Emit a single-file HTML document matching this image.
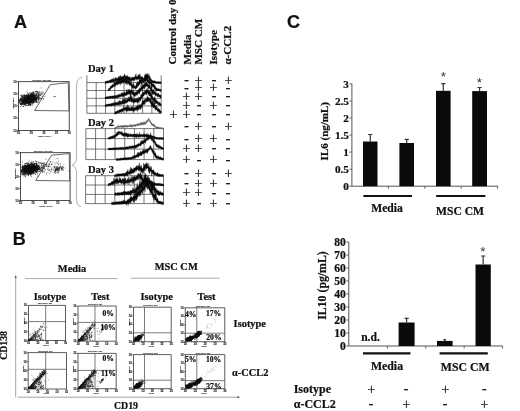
<!DOCTYPE html>
<html><head><meta charset="utf-8"><title>Figure</title>
<style>html,body{margin:0;padding:0;background:#fff}svg{display:block}text{font-family:"Liberation Serif",serif;font-weight:bold;fill:#111;stroke:#111;stroke-width:.22px}.s{font-family:"Liberation Sans",sans-serif}</style></head><body>
<svg width="520" height="411" viewBox="0 0 520 411">
<rect width="520" height="411" fill="#fff"/>
<text x="14" y="28" font-size="18" text-anchor="start" class="s">A</text>
<text x="12.8" y="245.2" font-size="18" text-anchor="start" class="s">B</text>
<text x="287" y="28" font-size="18" text-anchor="start" class="s">C</text>
<rect x="18.5" y="81.7" width="50.7" height="48.7" fill="none" stroke="#222" stroke-width="0.8"/>
<path d="M17.0 81.7H18.5" stroke="#222" stroke-width=".6"/>
<text transform="translate(16.7,82.8) scale(0.3)" font-size="10" text-anchor="end" class="s" style="font-weight:bold;fill:#111">10</text>
<path d="M18.5 130.4v1.5" stroke="#222" stroke-width=".6"/>
<text transform="translate(18.5,134.3) scale(0.3)" font-size="10" text-anchor="middle" class="s" style="font-weight:bold;fill:#111">10</text>
<path d="M17.0 93.875H18.5" stroke="#222" stroke-width=".6"/>
<text transform="translate(16.7,94.975) scale(0.3)" font-size="10" text-anchor="end" class="s" style="font-weight:bold;fill:#111">10</text>
<path d="M31.175 130.4v1.5" stroke="#222" stroke-width=".6"/>
<text transform="translate(31.175,134.3) scale(0.3)" font-size="10" text-anchor="middle" class="s" style="font-weight:bold;fill:#111">10</text>
<path d="M17.0 106.05000000000001H18.5" stroke="#222" stroke-width=".6"/>
<text transform="translate(16.7,107.15) scale(0.3)" font-size="10" text-anchor="end" class="s" style="font-weight:bold;fill:#111">10</text>
<path d="M43.85 130.4v1.5" stroke="#222" stroke-width=".6"/>
<text transform="translate(43.85,134.3) scale(0.3)" font-size="10" text-anchor="middle" class="s" style="font-weight:bold;fill:#111">10</text>
<path d="M17.0 118.22500000000001H18.5" stroke="#222" stroke-width=".6"/>
<text transform="translate(16.7,119.325) scale(0.3)" font-size="10" text-anchor="end" class="s" style="font-weight:bold;fill:#111">10</text>
<path d="M56.525000000000006 130.4v1.5" stroke="#222" stroke-width=".6"/>
<text transform="translate(56.525000000000006,134.3) scale(0.3)" font-size="10" text-anchor="middle" class="s" style="font-weight:bold;fill:#111">10</text>
<path d="M17.0 130.4H18.5" stroke="#222" stroke-width=".6"/>
<text transform="translate(16.7,131.5) scale(0.3)" font-size="10" text-anchor="end" class="s" style="font-weight:bold;fill:#111">10</text>
<path d="M69.2 130.4v1.5" stroke="#222" stroke-width=".6"/>
<text transform="translate(69.2,134.3) scale(0.3)" font-size="10" text-anchor="middle" class="s" style="font-weight:bold;fill:#111">10</text>
<text transform="translate(41.85,80.5) scale(0.2)" font-size="10" text-anchor="middle" class="s" style="font-weight:bold;fill:#111">Specimen_001-Tube</text>
<text transform="translate(44.85,136.8) scale(0.22999999999999998)" font-size="10" text-anchor="middle" class="s" style="font-weight:bold;fill:#111">CD19 APC-A</text>
<text transform="translate(14.1,103.05000000000001) rotate(-90) scale(0.19)" font-size="10" text-anchor="middle" class="s" style="font-weight:bold;fill:#111">CD138 PE-A</text>
<path d="M27.5 100.9h.01M27.6 99.0h.01M24.8 99.8h.01M32.9 99.5h.01M32.6 99.2h.01M30.1 99.6h.01M21.8 103.0h.01M30.5 100.2h.01M21.7 96.9h.01M24.9 99.2h.01M29.7 99.1h.01M30.6 97.5h.01M29.7 100.2h.01M25.9 104.1h.01M30.7 101.8h.01M26.0 98.3h.01M27.1 99.6h.01M31.0 99.5h.01M26.7 97.7h.01M26.4 102.8h.01M25.3 100.8h.01M30.2 95.6h.01M28.7 102.5h.01M20.4 100.5h.01M28.1 97.7h.01M30.5 98.9h.01M22.6 102.7h.01M31.2 101.1h.01M34.3 99.1h.01M29.0 96.4h.01M31.0 97.5h.01M26.7 96.9h.01M24.6 99.1h.01M33.7 93.6h.01M22.7 101.3h.01M34.3 99.6h.01M20.9 95.3h.01M29.9 97.5h.01M24.0 102.8h.01M32.9 98.9h.01M29.5 100.3h.01M34.9 99.6h.01M30.6 100.3h.01M22.2 103.9h.01M32.3 99.9h.01M20.6 99.7h.01M31.9 94.5h.01M27.8 102.0h.01M23.3 104.4h.01M30.7 98.7h.01M29.8 100.7h.01M29.0 102.1h.01M25.9 99.1h.01M32.7 98.7h.01M25.0 102.5h.01M34.4 97.2h.01M23.0 100.4h.01M27.9 98.9h.01M34.1 95.9h.01M33.5 95.4h.01M25.4 101.7h.01M33.0 100.5h.01M29.9 99.5h.01M29.1 100.7h.01M27.8 100.3h.01M30.8 99.0h.01M31.6 100.2h.01M36.5 98.5h.01M26.8 99.0h.01M28.4 101.7h.01M27.2 100.7h.01M35.8 91.9h.01M24.0 101.1h.01M30.1 99.7h.01M26.8 101.4h.01M29.6 98.0h.01M38.2 98.2h.01M26.3 99.8h.01M27.6 99.6h.01M32.5 95.9h.01M28.2 101.8h.01M31.9 102.2h.01M21.7 100.2h.01M27.1 101.3h.01M32.9 92.3h.01M32.9 95.2h.01M31.2 95.4h.01M29.2 102.1h.01M27.9 100.1h.01M31.7 99.1h.01M28.1 103.2h.01M32.7 97.9h.01M39.5 94.4h.01M32.2 98.1h.01M29.0 101.0h.01M29.4 100.8h.01M22.4 97.3h.01M31.0 96.7h.01M24.4 97.0h.01M33.6 100.1h.01M34.4 96.0h.01M28.5 96.8h.01M31.6 102.6h.01M24.9 103.9h.01M32.5 98.2h.01M20.6 104.5h.01M28.1 98.2h.01M30.1 100.1h.01M34.5 95.8h.01M33.0 102.0h.01M34.3 97.8h.01M25.5 102.5h.01M29.0 99.7h.01M34.2 97.6h.01M19.3 100.6h.01M21.1 103.0h.01M29.8 97.8h.01M28.5 101.5h.01M28.8 102.5h.01M28.3 102.0h.01M34.5 102.0h.01M25.8 102.1h.01M21.0 98.6h.01M20.6 103.7h.01M23.6 100.5h.01M27.7 99.6h.01M26.1 100.6h.01M35.7 98.0h.01M30.6 101.4h.01M27.7 96.7h.01M26.3 102.5h.01M21.9 99.5h.01M32.5 100.5h.01M28.5 101.4h.01M29.2 96.6h.01M22.2 99.4h.01M32.2 97.4h.01M24.9 98.5h.01M22.4 100.6h.01M23.8 101.4h.01M19.1 102.3h.01M25.9 95.5h.01M31.4 98.2h.01M19.6 99.4h.01M29.7 98.2h.01M31.6 100.6h.01M31.2 99.7h.01M33.8 99.9h.01M30.3 94.2h.01M32.1 101.8h.01M27.3 98.7h.01M36.3 93.7h.01M30.4 104.8h.01M24.8 101.9h.01M36.0 97.6h.01M30.7 101.1h.01M24.9 100.1h.01M29.7 101.2h.01M28.4 99.1h.01M24.4 99.5h.01M32.1 99.0h.01M25.1 98.3h.01M39.2 99.8h.01M31.0 92.9h.01M31.0 100.1h.01M35.2 99.0h.01M28.2 100.8h.01M20.7 103.6h.01M29.8 97.6h.01M33.8 102.6h.01M22.9 99.2h.01M29.7 99.7h.01M26.9 97.6h.01M37.0 100.1h.01M23.7 97.4h.01M35.3 100.3h.01M35.8 99.8h.01M25.0 100.9h.01M19.9 99.6h.01M28.3 100.8h.01M25.6 99.8h.01M30.3 100.0h.01M31.1 99.4h.01M27.2 101.6h.01M28.7 97.5h.01M26.0 100.0h.01M28.1 100.0h.01M28.5 99.9h.01M28.0 96.7h.01M30.2 101.6h.01M30.2 98.7h.01M30.3 96.8h.01M20.9 101.3h.01M24.8 102.0h.01M24.2 94.3h.01M24.3 104.1h.01M27.0 96.6h.01M25.4 101.4h.01M30.5 99.5h.01M34.4 99.9h.01M28.4 100.9h.01M35.1 100.3h.01M32.6 96.1h.01M27.9 101.3h.01M27.3 102.3h.01M30.9 101.1h.01M27.7 105.6h.01M33.5 97.9h.01M28.9 105.5h.01M27.1 101.8h.01M32.4 98.7h.01M23.8 101.0h.01M29.9 101.8h.01M31.6 98.9h.01M31.9 100.0h.01M29.3 99.4h.01M27.5 101.3h.01M24.3 99.0h.01M28.5 96.1h.01M26.8 95.2h.01M25.8 101.4h.01M30.8 98.9h.01M27.6 96.4h.01M35.8 99.1h.01M32.9 96.5h.01M27.8 95.4h.01M31.6 101.0h.01M20.9 101.0h.01M31.0 94.8h.01M21.2 98.6h.01M26.0 96.8h.01M28.6 100.1h.01M31.0 100.6h.01M34.5 100.9h.01M23.3 99.5h.01M24.3 97.9h.01M28.2 99.6h.01M30.5 95.4h.01M23.5 100.5h.01M27.7 98.9h.01M28.2 97.8h.01M31.3 99.7h.01M28.1 98.0h.01M27.8 93.3h.01M24.6 100.4h.01M22.5 101.3h.01M29.1 96.1h.01M27.5 99.0h.01M30.3 100.5h.01M28.4 97.5h.01M27.9 99.5h.01M31.4 99.5h.01M25.6 97.0h.01M27.0 98.1h.01M24.1 100.2h.01M26.5 100.2h.01M30.6 98.1h.01M37.8 96.7h.01M32.9 98.8h.01M33.0 93.0h.01M25.5 100.7h.01M30.9 104.4h.01M29.8 102.2h.01M31.6 101.0h.01M30.5 98.7h.01M30.5 96.5h.01M33.2 96.1h.01M29.5 104.2h.01M27.6 99.7h.01M33.2 98.5h.01M25.3 100.8h.01M30.8 100.7h.01M25.4 104.3h.01M35.2 98.1h.01M29.6 98.3h.01M34.2 96.6h.01M31.2 97.8h.01M25.7 101.8h.01M33.8 98.3h.01M25.8 102.0h.01M28.3 100.3h.01M34.6 100.8h.01M26.4 105.3h.01M28.5 101.3h.01M25.9 100.0h.01M21.5 105.2h.01M34.0 95.5h.01M22.5 97.0h.01M33.2 97.4h.01M28.3 98.8h.01M28.0 97.1h.01M28.6 96.1h.01M28.2 100.3h.01M30.4 98.5h.01M24.9 100.7h.01M26.6 103.6h.01M31.6 98.6h.01M26.6 98.3h.01M24.8 99.5h.01M29.7 100.4h.01M30.8 103.9h.01M25.7 100.1h.01M39.7 92.7h.01M26.4 100.4h.01M29.1 100.3h.01M27.5 100.6h.01M28.7 101.3h.01M20.9 99.1h.01M28.5 97.1h.01M24.3 101.9h.01M25.9 101.6h.01M31.5 99.6h.01M30.5 98.8h.01M22.9 100.7h.01M30.3 97.9h.01M28.1 101.3h.01M25.0 101.8h.01M36.0 96.6h.01M29.1 99.0h.01M34.7 98.9h.01M32.1 97.1h.01M28.4 99.5h.01M21.4 104.4h.01M32.1 94.6h.01M31.5 98.5h.01M30.3 100.0h.01M22.5 100.3h.01M34.5 96.8h.01M24.4 97.2h.01M23.6 101.4h.01M35.3 99.0h.01M29.5 104.5h.01M26.4 98.4h.01M30.6 100.3h.01M24.4 97.6h.01M29.7 99.8h.01M23.3 100.2h.01M26.3 101.1h.01M28.0 99.4h.01M27.1 102.3h.01M34.1 97.4h.01M31.9 97.0h.01M28.8 101.2h.01M34.6 97.3h.01M28.2 100.0h.01M22.5 100.8h.01M25.8 101.0h.01M24.0 95.9h.01M28.7 100.1h.01M26.3 102.1h.01M27.4 98.3h.01M30.4 95.4h.01M25.8 100.0h.01M31.9 98.4h.01M29.7 97.7h.01M29.7 103.1h.01M25.8 105.6h.01M25.9 100.1h.01M29.2 101.7h.01M23.6 95.7h.01M30.9 100.8h.01M31.0 105.1h.01M29.3 99.9h.01M32.2 99.6h.01M35.2 95.1h.01M27.0 91.8h.01M31.7 97.9h.01M32.2 103.7h.01M28.5 98.9h.01M26.5 98.0h.01M26.0 101.5h.01M28.6 99.6h.01M27.8 101.8h.01M30.5 98.7h.01M31.2 98.6h.01M23.9 103.9h.01M30.4 96.9h.01M32.8 99.4h.01M22.2 104.6h.01M29.8 101.3h.01M29.3 99.0h.01M22.3 103.1h.01M28.6 98.8h.01M29.9 99.4h.01M31.2 98.0h.01M28.4 94.5h.01M26.8 101.5h.01M33.8 97.5h.01M28.0 103.3h.01M27.2 101.5h.01M35.2 98.1h.01M33.4 96.8h.01M29.3 99.1h.01M29.0 102.0h.01M38.1 95.9h.01M26.2 101.2h.01M24.3 101.6h.01M30.8 98.3h.01M30.6 95.4h.01M31.5 95.2h.01M25.7 98.8h.01M26.9 101.9h.01M28.8 98.5h.01M30.7 102.7h.01M28.5 100.4h.01M33.5 99.0h.01M23.4 106.5h.01M37.3 92.9h.01M28.3 100.5h.01M32.4 100.2h.01M27.4 97.3h.01M28.9 101.8h.01M24.1 98.0h.01M28.4 95.0h.01M27.5 98.7h.01M30.3 97.5h.01M25.0 99.3h.01M28.3 98.0h.01M28.5 101.2h.01M33.2 102.5h.01M25.4 99.2h.01M25.6 100.1h.01M30.6 95.9h.01M30.4 99.0h.01M21.2 101.8h.01M33.3 94.1h.01M31.7 99.3h.01M30.4 100.1h.01M33.7 97.8h.01M32.0 97.8h.01M31.4 97.0h.01M28.1 103.6h.01M30.3 98.7h.01M23.9 98.7h.01M29.3 101.5h.01M30.2 100.4h.01M28.3 102.7h.01M26.9 98.6h.01M32.1 98.9h.01M27.4 98.4h.01M27.5 101.2h.01M29.9 96.4h.01M30.2 99.5h.01M24.5 102.2h.01M27.4 99.0h.01M31.7 101.9h.01M25.7 101.1h.01M25.0 105.7h.01M26.5 102.7h.01M25.9 102.0h.01M37.4 91.6h.01M26.8 101.1h.01M28.1 98.0h.01M37.1 97.8h.01M21.9 102.9h.01M21.6 103.7h.01M26.2 100.3h.01M33.5 98.7h.01M22.9 96.7h.01M33.2 100.2h.01M25.2 102.2h.01M30.5 100.6h.01M19.5 100.8h.01M32.1 100.4h.01M32.0 93.0h.01M29.2 100.5h.01M38.7 95.0h.01M27.2 99.9h.01M32.0 97.7h.01M33.1 96.7h.01M29.6 98.0h.01M29.1 97.7h.01M22.1 103.5h.01M29.7 97.9h.01M29.3 101.6h.01M24.6 100.1h.01M30.7 100.3h.01M27.2 94.9h.01M33.5 99.2h.01M28.6 98.8h.01M29.6 98.3h.01M24.4 98.7h.01M26.1 98.6h.01M23.9 102.0h.01M23.3 102.2h.01M24.4 101.2h.01M34.0 98.8h.01M25.6 100.3h.01M29.1 95.3h.01M26.1 100.4h.01M26.6 100.1h.01M31.4 100.7h.01M32.1 100.1h.01M27.3 99.7h.01M27.4 99.0h.01M27.8 95.6h.01M27.2 99.7h.01M24.6 100.3h.01M30.6 98.7h.01M36.8 91.6h.01M27.7 95.4h.01M32.4 104.9h.01M30.6 98.3h.01M30.7 93.8h.01M31.9 99.6h.01M28.6 98.1h.01M31.1 97.8h.01M29.4 98.1h.01M19.5 101.4h.01M29.3 101.1h.01M25.0 100.2h.01M31.0 99.3h.01M33.5 103.1h.01M24.9 95.8h.01M31.9 102.3h.01M32.2 100.6h.01M26.0 98.4h.01M32.1 96.6h.01M21.2 98.8h.01M38.5 101.8h.01M25.8 98.4h.01M29.4 97.5h.01M33.7 98.2h.01M24.2 103.5h.01M26.2 100.5h.01M28.4 98.8h.01M29.8 97.6h.01M21.1 95.9h.01M23.4 98.8h.01M28.4 99.6h.01M30.7 99.3h.01M25.3 98.5h.01M20.0 101.0h.01M30.4 100.3h.01M28.0 99.2h.01M32.2 98.7h.01M31.5 100.2h.01M29.4 102.4h.01M26.2 99.2h.01M25.3 98.3h.01M34.7 102.3h.01M28.6 100.8h.01M33.2 100.4h.01M33.3 95.5h.01M25.9 101.1h.01M34.2 98.5h.01M25.1 99.4h.01M25.9 98.1h.01M34.5 96.7h.01M28.6 104.5h.01M33.2 99.3h.01M26.1 101.0h.01M35.0 99.5h.01M33.5 98.6h.01M30.6 98.6h.01M30.2 102.2h.01M22.8 100.6h.01M29.5 98.0h.01M27.3 101.6h.01M36.5 99.2h.01M29.8 95.6h.01M36.2 98.0h.01M28.4 96.9h.01M28.3 97.0h.01M28.8 100.5h.01M28.6 100.1h.01M25.1 103.6h.01M25.9 95.8h.01M27.7 97.9h.01M24.5 99.6h.01M29.7 96.5h.01M27.9 103.0h.01M31.2 98.5h.01M29.0 99.1h.01M28.3 101.3h.01M28.1 94.0h.01M28.4 97.4h.01M31.1 97.5h.01M29.1 104.5h.01M24.3 97.8h.01M22.9 95.1h.01M21.0 102.0h.01M25.9 95.7h.01M22.6 102.2h.01M25.4 99.3h.01M29.8 102.4h.01M36.3 100.2h.01M29.1 99.8h.01M35.7 101.3h.01M27.3 100.8h.01M29.6 99.4h.01M26.5 96.8h.01M26.4 96.4h.01M33.4 99.7h.01M23.7 103.8h.01M32.1 94.3h.01M35.9 99.8h.01M36.8 94.8h.01M30.6 100.0h.01M29.3 99.7h.01M32.7 95.1h.01M23.5 97.3h.01M26.3 98.6h.01M30.0 99.8h.01M28.6 97.9h.01M26.7 102.1h.01M31.6 99.1h.01M27.2 103.4h.01M26.1 101.5h.01M33.1 97.9h.01M31.8 96.2h.01M32.6 99.1h.01M22.2 102.5h.01M24.9 103.3h.01M25.8 99.7h.01M29.6 98.5h.01M29.5 98.0h.01M31.2 98.9h.01M29.3 92.9h.01M33.1 98.6h.01M21.4 101.3h.01M30.4 101.6h.01M24.2 104.1h.01M27.9 105.2h.01M27.9 101.2h.01M27.0 97.2h.01M32.9 100.7h.01M34.7 100.2h.01M26.2 96.1h.01M25.9 98.5h.01M25.2 101.6h.01M29.8 98.6h.01M29.2 99.0h.01M29.4 101.1h.01M32.3 97.1h.01M22.5 104.2h.01M29.0 102.0h.01M21.9 100.2h.01M28.6 96.1h.01M26.4 101.6h.01M32.8 102.3h.01M25.0 97.0h.01M30.6 101.2h.01M29.3 96.3h.01M31.6 100.7h.01M30.7 97.9h.01M29.7 101.1h.01M26.3 95.7h.01M29.8 100.3h.01M28.6 101.6h.01M26.2 99.8h.01M27.3 101.1h.01M34.9 97.5h.01M36.7 101.3h.01M31.7 100.2h.01M35.6 97.5h.01M28.1 97.1h.01M30.4 102.2h.01M30.6 100.0h.01M27.7 100.1h.01M22.8 103.2h.01M26.9 97.3h.01M25.5 98.2h.01M31.9 101.2h.01M23.1 102.9h.01M32.1 97.4h.01M22.6 99.1h.01M26.0 100.9h.01M27.1 95.1h.01M29.4 95.7h.01M32.1 95.9h.01M25.7 98.1h.01M26.3 103.0h.01M31.9 100.2h.01M29.8 95.6h.01M26.4 98.7h.01M24.6 101.5h.01M25.5 98.5h.01M24.3 95.6h.01M30.9 102.1h.01M29.2 97.1h.01M33.4 99.1h.01M32.2 102.2h.01M33.0 97.5h.01M32.7 100.4h.01M22.4 99.9h.01M22.8 100.5h.01M30.8 96.5h.01M20.3 104.3h.01M30.0 102.6h.01M23.2 103.1h.01M36.8 102.4h.01M27.7 100.3h.01M27.9 102.0h.01M32.7 98.8h.01M23.1 102.4h.01M26.6 101.4h.01M29.6 103.1h.01M33.1 97.4h.01M29.9 103.3h.01M26.4 101.0h.01M33.3 101.4h.01M30.6 96.0h.01M23.5 101.2h.01M30.0 105.1h.01M25.1 102.9h.01M31.6 94.9h.01M25.2 100.6h.01M26.5 99.6h.01M30.4 97.2h.01M30.4 97.6h.01M26.3 101.2h.01M26.2 100.7h.01M34.9 98.2h.01M27.9 101.3h.01M27.0 102.4h.01M23.4 102.1h.01M26.5 98.1h.01M35.6 96.0h.01M35.5 99.5h.01M34.3 95.9h.01M33.3 101.9h.01M28.0 99.3h.01M38.3 97.8h.01M26.8 98.4h.01M30.3 99.9h.01M29.2 103.4h.01M27.2 100.9h.01M34.3 95.9h.01M32.7 102.9h.01M23.1 98.1h.01M24.3 96.1h.01M30.3 94.8h.01M30.5 102.5h.01M22.0 100.2h.01M20.8 103.0h.01M25.6 99.5h.01M28.7 100.7h.01M27.1 99.8h.01M26.3 100.2h.01M23.8 100.7h.01M20.8 100.0h.01M36.2 98.0h.01M23.5 101.2h.01M24.6 96.5h.01M25.6 101.9h.01M30.0 98.9h.01M24.8 97.8h.01M33.9 98.9h.01M24.7 95.4h.01M23.0 106.5h.01M23.9 100.3h.01M29.3 98.9h.01M27.4 96.5h.01M24.3 104.4h.01M25.5 102.1h.01M21.7 100.3h.01M29.5 101.7h.01M24.0 101.9h.01M30.0 97.4h.01M30.4 97.0h.01M25.3 100.2h.01M24.5 96.9h.01M26.8 101.7h.01M26.9 102.8h.01M23.9 97.4h.01M34.7 99.1h.01M32.3 96.7h.01M31.7 99.4h.01M31.1 99.0h.01M33.3 96.9h.01M24.6 96.9h.01M33.1 96.8h.01M24.3 98.2h.01M26.7 96.9h.01M27.3 98.3h.01M26.3 97.7h.01M28.6 98.4h.01M29.0 100.0h.01M29.9 94.1h.01M26.4 98.1h.01M31.6 95.1h.01M25.6 99.4h.01M27.2 102.1h.01M26.7 102.1h.01M22.6 96.5h.01M33.4 99.5h.01M30.5 99.4h.01M30.4 96.2h.01M32.3 97.4h.01M32.4 98.8h.01M20.6 98.2h.01M33.0 98.2h.01M26.9 100.4h.01M26.8 98.6h.01M28.9 99.7h.01M34.6 98.3h.01M36.0 102.1h.01M35.4 100.5h.01M29.0 99.7h.01M27.9 97.9h.01M28.2 98.1h.01M35.1 99.3h.01M26.7 95.4h.01M28.3 98.6h.01M24.2 97.8h.01M19.5 102.8h.01M28.2 105.6h.01M28.4 99.2h.01M34.3 98.6h.01M29.2 98.5h.01M26.1 103.5h.01M32.5 102.6h.01M27.1 99.9h.01M25.0 102.5h.01M22.9 102.0h.01M32.9 101.8h.01M24.7 102.9h.01M25.6 98.4h.01M23.2 103.4h.01M35.1 96.7h.01M25.5 99.4h.01M38.5 99.7h.01M26.3 95.8h.01M25.8 102.9h.01M36.0 97.2h.01M25.7 98.9h.01M21.0 103.3h.01M24.2 102.9h.01M21.7 98.0h.01M29.7 97.5h.01M31.6 98.8h.01M23.8 102.0h.01M31.9 94.3h.01M35.8 99.1h.01M31.5 94.5h.01M25.6 99.3h.01M32.8 95.1h.01M25.0 95.5h.01M27.5 100.5h.01M21.8 99.6h.01M30.5 102.8h.01M31.2 98.2h.01M23.8 98.3h.01M25.8 100.4h.01M28.3 103.4h.01M29.6 96.7h.01M34.7 100.4h.01M28.9 97.7h.01M21.0 98.7h.01M32.1 96.8h.01M23.2 101.1h.01M29.5 100.7h.01M31.1 102.2h.01M25.1 102.5h.01M24.6 102.0h.01M29.2 99.9h.01M32.4 98.6h.01M32.9 100.6h.01M29.0 98.1h.01M25.5 98.9h.01M27.7 99.6h.01M40.4 98.4h.01M31.6 96.8h.01M25.7 99.4h.01M29.3 96.9h.01M34.9 96.8h.01M32.8 93.1h.01M28.5 100.2h.01M29.3 100.7h.01M29.6 99.6h.01M20.9 99.5h.01M19.1 103.0h.01M29.7 98.8h.01M25.2 98.9h.01M35.9 101.9h.01M28.3 102.6h.01M22.1 96.4h.01M26.6 97.9h.01M26.3 100.4h.01M40.6 95.3h.01M28.7 100.1h.01M28.4 101.7h.01M35.6 95.0h.01M29.1 98.7h.01M29.9 95.6h.01M21.5 95.6h.01M30.6 99.5h.01M28.8 93.9h.01M27.0 98.1h.01M22.8 98.6h.01M31.3 100.2h.01M28.4 100.7h.01M26.1 100.2h.01M28.7 100.8h.01M28.2 99.2h.01M28.0 98.1h.01M37.4 98.7h.01M30.2 104.5h.01M34.1 94.6h.01M31.3 100.9h.01M36.0 100.9h.01M31.6 96.1h.01M25.0 100.9h.01M30.5 96.7h.01M27.0 98.9h.01M28.7 100.2h.01M27.4 96.9h.01M33.5 102.2h.01M28.1 102.0h.01M30.3 100.7h.01M30.4 97.3h.01M30.8 101.4h.01M24.9 104.9h.01M36.9 101.9h.01M36.5 99.5h.01M27.1 98.4h.01M25.2 100.5h.01M28.4 101.1h.01M20.4 106.7h.01M37.6 97.4h.01M31.2 100.0h.01M29.6 98.8h.01M28.0 97.7h.01M29.2 99.3h.01M29.8 97.2h.01M28.7 99.6h.01M30.9 96.5h.01M30.2 101.4h.01M30.9 98.1h.01M26.5 99.4h.01M31.4 102.5h.01M27.9 98.1h.01M30.0 99.6h.01M24.9 98.6h.01M28.1 101.2h.01M23.7 98.2h.01M30.5 96.2h.01M28.9 100.2h.01M28.1 97.2h.01M28.3 98.8h.01M29.8 97.2h.01M32.9 94.6h.01M27.8 99.7h.01M32.3 97.2h.01M30.7 97.7h.01M31.5 102.9h.01M26.9 100.9h.01M24.8 102.6h.01M33.3 98.5h.01M24.0 101.4h.01M33.1 101.0h.01M31.8 94.5h.01M25.8 103.4h.01M23.6 103.2h.01M36.0 99.6h.01M33.0 97.7h.01M23.6 100.3h.01M27.7 99.6h.01M31.3 98.6h.01M29.3 100.3h.01M28.5 103.8h.01M30.3 99.3h.01M27.7 98.2h.01M33.9 98.7h.01M24.2 99.1h.01M28.0 98.6h.01M32.8 95.8h.01M30.5 99.4h.01M23.8 100.6h.01M28.1 100.8h.01M26.7 100.6h.01M21.8 98.4h.01M31.6 101.3h.01M28.4 98.1h.01M32.8 93.7h.01M25.3 101.8h.01M31.1 96.5h.01M21.0 104.6h.01M29.1 97.3h.01M28.7 101.6h.01M31.5 94.0h.01M31.6 94.7h.01M33.1 99.4h.01M37.5 96.1h.01M28.5 101.9h.01M25.9 98.4h.01M27.0 99.7h.01M24.2 101.6h.01M30.7 99.2h.01M35.3 97.2h.01M33.7 97.1h.01M31.5 94.3h.01M29.3 98.9h.01" stroke="#111" stroke-width="0.84" stroke-linecap="round" fill="none" opacity="1"/>
<path d="M31.3 95.9h.01M32.1 95.4h.01M21.9 98.0h.01M31.0 96.2h.01M28.2 97.9h.01M38.3 95.4h.01M31.3 101.3h.01M39.4 98.4h.01M40.4 94.7h.01M33.3 100.2h.01M31.0 97.3h.01M36.1 97.6h.01M32.5 100.0h.01M33.0 99.2h.01M39.9 97.5h.01M38.0 92.9h.01M26.8 96.9h.01M36.6 100.6h.01M27.3 99.3h.01M29.3 96.0h.01M32.5 99.2h.01M35.2 100.0h.01M28.6 100.6h.01M39.1 96.1h.01M36.6 94.9h.01M28.0 97.2h.01M30.5 105.7h.01M31.3 102.1h.01M35.1 97.6h.01M38.1 94.0h.01M39.0 96.9h.01M25.7 100.5h.01M37.0 97.6h.01M42.7 94.0h.01M36.8 98.4h.01M29.0 101.4h.01M26.0 95.2h.01M36.9 93.4h.01M33.4 92.6h.01M34.4 93.8h.01M35.9 92.4h.01M36.5 95.7h.01M34.4 96.7h.01M34.7 93.2h.01M19.9 100.2h.01M28.9 96.9h.01M36.3 91.0h.01M29.8 96.2h.01M28.2 99.2h.01M33.2 94.9h.01M28.6 100.4h.01M30.4 99.4h.01M36.5 91.3h.01M28.0 98.3h.01M35.9 98.7h.01M38.4 98.9h.01M31.9 96.9h.01M38.3 94.9h.01M39.8 91.4h.01M37.6 95.7h.01M23.2 102.1h.01M35.7 96.7h.01M28.1 97.0h.01M42.3 92.9h.01M27.4 98.1h.01M31.8 95.0h.01M29.4 100.9h.01M26.1 104.1h.01M31.0 94.6h.01M38.3 97.6h.01M28.3 100.3h.01M23.9 96.7h.01M40.2 94.9h.01M26.8 100.0h.01M39.0 95.8h.01M24.1 98.2h.01M36.3 98.6h.01M44.2 94.1h.01M31.3 97.5h.01M40.6 93.0h.01M41.2 87.9h.01M38.4 94.2h.01M36.5 98.3h.01M27.5 98.2h.01M35.3 98.3h.01M28.9 95.4h.01M23.4 106.3h.01M32.9 96.6h.01M25.8 101.4h.01M31.1 101.6h.01M38.7 96.0h.01M38.0 93.1h.01M32.2 95.8h.01M27.0 98.6h.01M33.2 101.1h.01M28.9 96.8h.01M36.3 97.6h.01M34.2 95.7h.01M36.7 97.4h.01M23.9 98.5h.01M26.4 95.4h.01M34.8 97.0h.01M34.6 94.5h.01M32.9 94.7h.01M36.1 98.4h.01M43.7 98.4h.01M29.6 96.7h.01M28.8 99.0h.01M44.9 96.6h.01M21.9 96.2h.01M26.9 100.0h.01M34.0 97.8h.01M43.8 92.6h.01M29.3 103.4h.01M35.9 94.4h.01M22.8 95.2h.01M20.6 100.1h.01M34.2 99.7h.01M33.2 95.3h.01M29.9 103.1h.01M24.3 99.6h.01M34.1 98.7h.01M31.8 98.9h.01M38.5 95.6h.01M31.5 97.0h.01M28.7 97.6h.01M32.3 97.9h.01M41.3 99.0h.01M31.6 99.2h.01M35.6 98.7h.01M34.1 97.7h.01M31.4 95.4h.01M38.8 99.5h.01M37.6 97.4h.01M35.5 95.4h.01M24.2 101.0h.01M35.1 95.2h.01M28.7 101.7h.01M24.1 104.0h.01M37.5 102.8h.01M30.1 97.8h.01M31.2 98.0h.01M32.8 95.2h.01M39.9 93.6h.01M31.2 99.1h.01M31.0 96.5h.01M36.0 95.6h.01M27.1 98.2h.01M32.8 102.0h.01M28.0 101.0h.01M29.7 97.0h.01M32.2 98.1h.01M38.7 100.8h.01M30.5 101.4h.01M39.5 98.0h.01M29.8 100.4h.01M33.4 98.1h.01M32.5 99.1h.01M40.1 98.8h.01M32.9 100.0h.01M42.0 92.7h.01M42.1 91.6h.01M37.0 98.0h.01M42.2 96.0h.01M31.4 95.4h.01M27.1 100.6h.01M32.7 95.3h.01M36.9 94.3h.01M31.6 96.3h.01M43.1 99.0h.01M33.1 92.9h.01M35.5 96.9h.01M35.9 98.1h.01M32.2 99.9h.01M38.6 96.6h.01M31.8 96.2h.01M37.8 93.1h.01M33.1 95.1h.01M26.3 100.3h.01M33.9 97.1h.01M38.8 91.8h.01M33.6 97.9h.01M38.6 93.0h.01M37.9 96.7h.01M41.5 98.5h.01M37.0 102.2h.01M34.0 95.8h.01M32.1 94.8h.01M33.8 91.9h.01M33.5 98.3h.01M39.5 94.9h.01M41.6 93.5h.01M33.3 92.0h.01M29.8 95.7h.01M42.0 96.7h.01M28.1 99.7h.01M36.6 95.8h.01M34.1 96.2h.01M31.1 92.9h.01M33.5 100.6h.01M41.7 94.6h.01M30.0 97.3h.01M38.8 96.9h.01M30.9 98.7h.01M32.9 98.6h.01M31.8 93.5h.01M34.3 99.0h.01M28.1 98.0h.01M38.7 95.0h.01M30.5 103.2h.01M38.4 98.8h.01M28.9 102.5h.01M25.1 97.5h.01M38.0 99.7h.01M29.0 96.3h.01M35.1 91.6h.01M37.4 97.8h.01M31.6 99.0h.01" stroke="#111" stroke-width="0.66" stroke-linecap="round" fill="none" opacity="1"/>
<polygon points="50.3,84.6 68.2,82.7 69.2,110.9 34.7,110.5" fill="none" stroke="#333" stroke-width="0.75"/>
<text transform="translate(54.5,96.8) scale(0.22000000000000003)" font-size="10" text-anchor="middle" class="s" style="font-weight:bold;fill:#111">P2</text>
<rect x="20.5" y="152.7" width="49.599999999999994" height="47.70000000000002" fill="none" stroke="#222" stroke-width="0.8"/>
<path d="M19.0 152.7H20.5" stroke="#222" stroke-width=".6"/>
<text transform="translate(18.7,153.79999999999998) scale(0.3)" font-size="10" text-anchor="end" class="s" style="font-weight:bold;fill:#111">10</text>
<path d="M20.5 200.4v1.5" stroke="#222" stroke-width=".6"/>
<text transform="translate(20.5,204.3) scale(0.3)" font-size="10" text-anchor="middle" class="s" style="font-weight:bold;fill:#111">10</text>
<path d="M19.0 164.625H20.5" stroke="#222" stroke-width=".6"/>
<text transform="translate(18.7,165.725) scale(0.3)" font-size="10" text-anchor="end" class="s" style="font-weight:bold;fill:#111">10</text>
<path d="M32.9 200.4v1.5" stroke="#222" stroke-width=".6"/>
<text transform="translate(32.9,204.3) scale(0.3)" font-size="10" text-anchor="middle" class="s" style="font-weight:bold;fill:#111">10</text>
<path d="M19.0 176.55H20.5" stroke="#222" stroke-width=".6"/>
<text transform="translate(18.7,177.65) scale(0.3)" font-size="10" text-anchor="end" class="s" style="font-weight:bold;fill:#111">10</text>
<path d="M45.3 200.4v1.5" stroke="#222" stroke-width=".6"/>
<text transform="translate(45.3,204.3) scale(0.3)" font-size="10" text-anchor="middle" class="s" style="font-weight:bold;fill:#111">10</text>
<path d="M19.0 188.475H20.5" stroke="#222" stroke-width=".6"/>
<text transform="translate(18.7,189.575) scale(0.3)" font-size="10" text-anchor="end" class="s" style="font-weight:bold;fill:#111">10</text>
<path d="M57.699999999999996 200.4v1.5" stroke="#222" stroke-width=".6"/>
<text transform="translate(57.699999999999996,204.3) scale(0.3)" font-size="10" text-anchor="middle" class="s" style="font-weight:bold;fill:#111">10</text>
<path d="M19.0 200.4H20.5" stroke="#222" stroke-width=".6"/>
<text transform="translate(18.7,201.5) scale(0.3)" font-size="10" text-anchor="end" class="s" style="font-weight:bold;fill:#111">10</text>
<path d="M70.1 200.4v1.5" stroke="#222" stroke-width=".6"/>
<text transform="translate(70.1,204.3) scale(0.3)" font-size="10" text-anchor="middle" class="s" style="font-weight:bold;fill:#111">10</text>
<text transform="translate(43.3,151.5) scale(0.2)" font-size="10" text-anchor="middle" class="s" style="font-weight:bold;fill:#111">Specimen_001-Tube</text>
<text transform="translate(46.3,206.8) scale(0.22999999999999998)" font-size="10" text-anchor="middle" class="s" style="font-weight:bold;fill:#111">CD19 APC-A</text>
<text transform="translate(16.1,173.55) rotate(-90) scale(0.19)" font-size="10" text-anchor="middle" class="s" style="font-weight:bold;fill:#111">CD138 PE-A</text>
<path d="M32.6 169.2h.01M31.6 172.1h.01M27.6 169.6h.01M27.4 171.6h.01M27.9 170.3h.01M30.0 169.1h.01M36.3 167.8h.01M35.1 170.0h.01M34.7 167.9h.01M33.2 170.2h.01M27.1 170.0h.01M29.0 169.0h.01M34.7 166.6h.01M22.8 166.1h.01M27.7 167.8h.01M29.6 170.3h.01M36.5 168.7h.01M31.3 167.1h.01M31.8 171.7h.01M34.8 163.8h.01M33.0 172.0h.01M32.8 165.2h.01M28.3 170.5h.01M31.1 166.9h.01M26.0 171.7h.01M24.2 173.0h.01M29.6 169.7h.01M24.2 168.4h.01M32.2 165.3h.01M37.7 164.7h.01M24.7 169.8h.01M31.4 170.4h.01M28.0 168.8h.01M28.6 167.9h.01M30.5 169.2h.01M27.0 169.9h.01M29.4 168.8h.01M33.9 164.5h.01M30.5 166.5h.01M28.2 172.5h.01M25.2 169.4h.01M27.2 171.5h.01M25.6 165.8h.01M31.5 167.9h.01M28.2 171.6h.01M26.0 168.7h.01M30.1 169.8h.01M27.5 171.6h.01M38.3 166.8h.01M36.9 163.2h.01M35.0 167.4h.01M30.0 168.2h.01M27.0 166.5h.01M27.9 172.1h.01M34.0 167.6h.01M27.4 167.7h.01M24.8 173.7h.01M32.1 168.9h.01M27.6 167.0h.01M34.7 170.0h.01M25.7 171.8h.01M25.1 171.1h.01M25.7 168.6h.01M31.4 169.7h.01M33.5 166.6h.01M35.7 171.1h.01M29.5 170.0h.01M26.4 169.1h.01M24.3 170.0h.01M30.3 171.9h.01M33.2 170.3h.01M28.1 168.7h.01M28.2 169.7h.01M21.9 171.8h.01M23.3 168.8h.01M29.6 167.8h.01M36.0 167.8h.01M35.7 170.7h.01M27.5 170.2h.01M34.6 167.5h.01M29.8 167.7h.01M29.7 168.2h.01M29.8 171.2h.01M35.0 168.5h.01M30.3 170.8h.01M28.4 166.8h.01M33.9 166.3h.01M33.2 166.3h.01M36.7 165.6h.01M32.8 171.9h.01M25.7 172.9h.01M26.3 165.5h.01M32.3 170.1h.01M28.7 163.5h.01M29.3 168.3h.01M28.0 168.6h.01M22.5 168.8h.01M36.6 171.4h.01M28.1 167.6h.01M31.1 171.1h.01M32.3 166.0h.01M30.1 169.2h.01M35.2 170.8h.01M31.6 171.4h.01M27.9 172.7h.01M27.8 170.1h.01M33.1 166.4h.01M26.7 165.5h.01M30.1 168.8h.01M28.2 170.3h.01M21.2 170.2h.01M29.8 168.4h.01M32.6 172.5h.01M27.7 167.2h.01M27.1 169.6h.01M31.8 166.7h.01M33.4 166.1h.01M32.8 169.5h.01M31.3 173.5h.01M28.5 168.8h.01M31.4 170.7h.01M24.2 170.4h.01M26.6 170.8h.01M34.9 168.3h.01M29.1 169.5h.01M31.7 169.0h.01M27.9 167.6h.01M28.8 171.8h.01M29.1 172.1h.01M30.6 168.8h.01M23.0 168.5h.01M34.4 165.4h.01M25.6 167.1h.01M27.3 170.8h.01M31.8 164.1h.01M35.2 166.8h.01M27.2 173.1h.01M29.2 166.3h.01M27.0 167.7h.01M25.5 168.8h.01M33.0 169.3h.01M24.1 176.0h.01M25.6 169.8h.01M29.6 170.7h.01M28.2 170.2h.01M37.8 168.0h.01M25.2 170.4h.01M26.3 168.6h.01M30.2 169.6h.01M28.4 171.1h.01M28.7 166.2h.01M33.0 167.7h.01M34.3 166.8h.01M31.8 169.4h.01M25.1 172.8h.01M22.1 172.1h.01M33.8 169.5h.01M32.2 167.5h.01M29.5 169.5h.01M31.2 170.3h.01M28.7 167.6h.01M27.3 170.2h.01M23.0 167.2h.01M27.9 168.0h.01M28.4 163.2h.01M28.2 168.6h.01M32.6 164.1h.01M28.3 170.2h.01M31.4 171.4h.01M33.7 166.1h.01M32.0 167.9h.01M26.3 172.9h.01M27.0 167.5h.01M27.9 167.3h.01M33.5 169.3h.01M35.0 169.1h.01M27.1 171.7h.01M26.9 168.3h.01M28.8 169.2h.01M34.2 167.0h.01M30.9 168.7h.01M24.5 167.3h.01M28.6 170.0h.01M30.8 169.9h.01M29.7 168.0h.01M31.2 166.5h.01M24.2 169.0h.01M23.9 168.7h.01M26.5 168.2h.01M29.3 167.2h.01M27.8 165.4h.01M30.1 166.9h.01M31.1 162.4h.01M26.3 170.0h.01M29.9 169.2h.01M23.6 170.4h.01M30.1 166.7h.01M32.4 168.5h.01M29.6 168.0h.01M31.7 168.9h.01M34.0 169.4h.01M27.1 168.9h.01M33.1 167.6h.01M31.0 169.9h.01M28.8 163.9h.01M30.0 169.4h.01M30.0 167.2h.01M34.3 168.0h.01M27.0 167.8h.01M30.9 166.3h.01M25.5 174.1h.01M34.7 170.6h.01M34.9 169.5h.01M22.8 172.7h.01M34.4 169.4h.01M21.7 172.9h.01M34.9 167.1h.01M30.0 170.7h.01M29.2 171.5h.01M29.8 170.5h.01M29.8 165.6h.01M25.5 176.7h.01M30.6 171.8h.01M34.0 172.2h.01M31.7 167.3h.01M29.6 164.7h.01M28.8 171.2h.01M32.8 171.5h.01M25.8 168.1h.01M22.0 167.8h.01M31.6 173.4h.01M24.9 172.8h.01M31.2 167.6h.01M38.2 162.0h.01M29.2 169.5h.01M38.0 171.8h.01M38.5 168.0h.01M33.4 171.5h.01M31.5 169.5h.01M28.8 168.2h.01M24.6 174.1h.01M27.7 164.6h.01M30.6 168.8h.01M30.2 173.0h.01M29.1 168.5h.01M26.5 169.4h.01M27.8 169.7h.01M42.0 168.1h.01M26.1 173.9h.01M32.9 170.3h.01M32.4 170.4h.01M32.2 171.8h.01M33.5 171.5h.01M27.5 169.3h.01M26.6 171.6h.01M32.8 167.5h.01M31.8 174.6h.01M34.4 165.8h.01M29.1 170.5h.01M29.4 169.9h.01M34.2 169.1h.01M25.1 171.3h.01M29.1 169.3h.01M27.2 166.2h.01M24.5 168.9h.01M25.2 163.5h.01M34.1 165.7h.01M26.6 170.6h.01M26.4 170.9h.01M27.6 170.0h.01M29.9 168.9h.01M22.2 166.7h.01M29.3 172.2h.01M27.3 170.5h.01M30.1 170.0h.01M33.5 165.0h.01M30.6 168.4h.01M28.3 167.2h.01M26.4 167.1h.01M25.1 175.3h.01M36.3 168.0h.01M32.5 166.4h.01M30.1 172.2h.01M29.3 166.8h.01M28.5 166.9h.01M23.9 169.3h.01M27.9 167.4h.01M26.0 167.4h.01M30.4 172.0h.01M28.7 174.2h.01M23.0 170.6h.01M24.9 169.3h.01M29.9 170.2h.01M34.0 167.1h.01M24.5 169.3h.01M30.7 167.2h.01M33.1 172.3h.01M23.8 170.7h.01M33.6 164.1h.01M30.3 168.4h.01M23.8 172.8h.01M30.4 167.8h.01M31.3 170.2h.01M32.6 169.9h.01M31.1 166.1h.01M27.8 169.5h.01M28.0 166.8h.01M22.2 170.6h.01M29.6 167.7h.01M27.8 167.2h.01M26.5 169.2h.01M26.9 170.9h.01M28.9 169.4h.01M31.1 171.6h.01M31.9 169.2h.01M28.8 167.3h.01M28.1 170.7h.01M30.4 168.0h.01M24.2 166.3h.01M30.8 171.1h.01M31.0 165.7h.01M28.6 169.6h.01M25.8 170.3h.01M28.7 167.2h.01M24.5 171.6h.01M30.9 166.8h.01M25.4 171.6h.01M31.9 168.0h.01M35.9 167.4h.01M25.3 172.1h.01M28.7 169.9h.01M29.7 166.7h.01M24.8 169.3h.01M35.1 165.9h.01M34.9 168.7h.01M25.1 170.3h.01M31.8 166.6h.01M25.1 170.6h.01M21.9 169.8h.01M26.3 166.1h.01M28.5 169.5h.01M27.3 166.7h.01M30.3 164.9h.01M31.6 169.8h.01M36.2 170.0h.01M30.9 169.4h.01M29.6 166.0h.01M35.3 169.3h.01M28.4 166.6h.01M35.4 169.3h.01M24.8 171.2h.01M37.1 167.8h.01M31.1 167.8h.01M27.0 171.8h.01M41.8 167.5h.01M29.0 170.9h.01M28.3 170.8h.01M32.8 166.2h.01M25.2 169.5h.01M32.8 169.1h.01M34.4 165.2h.01M31.5 167.3h.01M29.9 169.7h.01M25.6 169.0h.01M24.9 170.3h.01M26.1 168.4h.01M30.4 167.4h.01M34.1 166.9h.01M32.9 169.1h.01M25.4 169.1h.01M26.2 168.7h.01M28.4 173.3h.01M27.8 172.8h.01M31.3 165.8h.01M21.6 171.8h.01M33.6 169.3h.01M28.7 168.6h.01M30.5 168.2h.01M27.4 168.5h.01M34.1 166.9h.01M31.0 166.2h.01M26.7 166.3h.01M28.7 170.7h.01M30.7 167.7h.01M31.9 167.9h.01M31.0 169.4h.01M31.6 163.1h.01M24.3 171.5h.01M29.1 174.1h.01M28.6 167.9h.01M35.4 169.4h.01M37.0 169.0h.01M28.7 170.7h.01M26.4 168.5h.01M27.3 168.8h.01M32.6 167.5h.01M30.8 167.7h.01M33.0 162.3h.01M28.7 169.5h.01M25.2 171.9h.01M30.4 171.8h.01M33.3 169.9h.01M28.9 166.6h.01M28.6 168.1h.01M30.5 167.8h.01M41.6 163.6h.01M34.2 167.3h.01M28.5 171.2h.01M29.5 166.3h.01M31.1 168.3h.01M21.3 170.6h.01M25.3 167.9h.01M31.4 169.4h.01M28.4 174.0h.01M31.2 167.4h.01M30.4 168.6h.01M24.0 174.4h.01M28.8 168.5h.01M27.3 171.5h.01M29.6 172.8h.01M32.6 172.2h.01M29.0 169.9h.01M27.8 168.9h.01M22.7 168.7h.01M25.7 168.1h.01M34.3 168.9h.01M34.3 170.2h.01M33.1 170.7h.01M27.1 171.1h.01M28.2 168.0h.01M34.2 173.2h.01M25.6 173.5h.01M32.8 166.6h.01M30.6 169.7h.01M31.0 168.0h.01M24.4 169.8h.01M32.9 170.3h.01M32.1 171.1h.01M25.6 169.5h.01M30.8 171.0h.01M30.1 170.1h.01M30.0 173.6h.01M39.3 168.1h.01M22.3 170.4h.01M23.8 168.3h.01M30.4 172.7h.01M31.3 170.2h.01M33.5 168.9h.01M26.1 169.3h.01M30.8 168.2h.01M26.9 168.6h.01M23.6 167.6h.01M29.1 168.2h.01M29.6 172.1h.01M30.7 168.8h.01M24.9 167.3h.01M31.0 166.8h.01M31.2 166.4h.01M30.0 168.8h.01M33.4 167.5h.01M28.0 169.8h.01M29.7 172.7h.01M28.5 167.9h.01M28.2 170.2h.01M30.4 170.4h.01M24.0 175.3h.01M36.8 167.9h.01M24.7 170.0h.01M31.1 163.8h.01M29.6 165.7h.01M31.3 171.8h.01M33.6 165.0h.01M35.0 170.2h.01M28.1 170.3h.01M35.5 167.4h.01M29.4 167.8h.01M34.1 163.5h.01M35.1 166.0h.01M33.2 164.8h.01M25.8 168.2h.01M32.8 164.9h.01M31.9 167.2h.01M34.4 167.6h.01M31.4 168.3h.01M36.6 167.2h.01M29.4 173.5h.01M29.8 170.5h.01M26.6 169.9h.01M26.9 166.0h.01M23.9 172.4h.01M31.2 165.4h.01M36.7 166.4h.01M28.0 169.8h.01M25.0 166.0h.01M26.6 172.1h.01M33.3 164.9h.01M34.2 168.4h.01M31.5 168.8h.01M31.1 166.5h.01M25.9 168.0h.01M28.0 170.6h.01M24.7 173.3h.01M27.0 168.0h.01M32.3 169.6h.01M28.2 166.8h.01M25.6 166.0h.01M34.0 170.8h.01M36.9 169.0h.01M30.8 170.5h.01M33.3 167.9h.01M30.9 173.6h.01M22.8 166.8h.01M25.7 171.2h.01M34.2 167.6h.01M32.2 168.5h.01M30.7 167.6h.01M29.4 169.0h.01M34.0 173.3h.01M22.3 171.2h.01M29.5 171.2h.01M33.7 170.1h.01M32.7 166.4h.01M22.8 173.7h.01M34.3 166.2h.01M34.6 169.7h.01M25.6 172.2h.01M26.8 167.7h.01M23.4 169.4h.01M33.5 166.9h.01M22.2 174.9h.01M36.8 169.5h.01M27.4 166.6h.01M23.0 171.2h.01M34.6 165.9h.01M29.5 168.4h.01M28.5 170.3h.01M37.8 166.4h.01M32.9 170.9h.01M28.4 168.8h.01M24.2 172.2h.01M27.4 167.8h.01M29.8 167.0h.01M25.4 168.9h.01M35.4 167.7h.01M31.6 165.4h.01M21.8 174.2h.01M27.9 165.8h.01M29.1 170.4h.01M22.7 168.0h.01M30.5 166.8h.01M32.7 170.7h.01M31.3 167.8h.01M29.3 167.6h.01M29.0 169.8h.01M28.3 171.4h.01M39.8 166.3h.01M30.9 170.6h.01M32.1 168.1h.01M27.6 171.5h.01M32.0 169.8h.01M26.3 170.9h.01M32.6 168.1h.01M32.1 173.5h.01M22.1 171.4h.01M24.9 166.6h.01M28.6 170.4h.01M29.7 166.4h.01M23.8 168.6h.01M29.6 167.1h.01M23.5 173.8h.01M26.2 169.1h.01M27.3 168.0h.01M29.7 168.3h.01M32.0 166.0h.01M23.6 174.2h.01M29.2 170.8h.01M34.2 169.6h.01M29.6 165.5h.01M23.1 172.1h.01M32.2 169.9h.01M22.9 165.2h.01M25.3 167.0h.01M30.1 166.6h.01M35.8 166.7h.01M27.3 171.3h.01M30.8 166.8h.01M32.8 172.9h.01M24.6 169.2h.01M25.2 165.3h.01M32.0 170.2h.01M33.4 169.4h.01M21.5 170.1h.01M26.8 166.7h.01M25.1 171.4h.01M28.3 173.6h.01M31.4 164.4h.01M33.1 171.3h.01M29.6 166.2h.01M36.5 165.0h.01M29.2 164.7h.01M24.5 165.9h.01M33.8 171.0h.01M27.9 166.2h.01M29.3 169.9h.01M23.4 167.3h.01M29.1 170.7h.01M29.8 170.0h.01M24.5 164.1h.01M30.7 166.7h.01M29.0 168.2h.01M31.4 167.0h.01M35.3 168.2h.01M31.6 170.1h.01M33.7 169.3h.01M22.5 168.6h.01M36.9 169.0h.01M31.7 169.7h.01M26.9 167.8h.01M26.9 172.0h.01M31.0 172.8h.01M31.5 173.0h.01M31.3 166.0h.01M36.5 168.7h.01M34.3 168.8h.01M28.2 169.6h.01M25.0 166.9h.01M25.9 168.3h.01M24.1 169.6h.01M30.7 173.4h.01M36.9 167.8h.01M33.1 168.0h.01M31.1 168.7h.01M27.3 169.5h.01M23.5 170.9h.01M28.3 166.7h.01M28.1 170.5h.01M26.8 170.5h.01M31.8 172.2h.01M25.1 169.4h.01M31.6 172.1h.01M30.6 170.6h.01M23.6 168.5h.01M36.2 167.4h.01M38.2 166.1h.01M28.4 165.5h.01M32.1 169.2h.01M37.7 168.2h.01M28.5 165.9h.01M29.2 171.2h.01M32.5 171.4h.01M33.0 168.4h.01M31.9 169.0h.01M24.1 173.7h.01M31.0 166.4h.01M31.1 169.4h.01M33.5 171.7h.01M35.7 165.9h.01M22.0 170.7h.01M30.9 169.6h.01M25.0 168.6h.01M30.3 170.6h.01M38.4 168.4h.01M27.1 163.9h.01M33.9 168.1h.01M29.1 166.8h.01M32.5 164.4h.01M29.9 169.2h.01M30.7 171.8h.01M29.1 169.3h.01M33.0 164.9h.01M28.3 169.3h.01M33.4 166.6h.01M32.8 169.4h.01M23.5 166.5h.01M23.7 170.2h.01M30.3 170.5h.01M32.8 167.2h.01M33.9 170.3h.01M31.4 169.8h.01M24.3 170.6h.01M25.3 166.9h.01M28.1 169.5h.01M29.3 168.3h.01M25.4 170.0h.01M26.5 166.2h.01M29.9 172.3h.01M27.9 166.8h.01M35.1 172.1h.01M28.3 168.7h.01M30.4 175.7h.01M30.0 171.2h.01M31.3 164.5h.01M25.0 166.8h.01M31.3 169.0h.01M36.8 167.3h.01M30.8 169.0h.01M30.1 174.3h.01M30.7 172.2h.01M34.8 166.8h.01M32.3 167.7h.01M29.9 169.3h.01M29.6 167.9h.01M35.9 167.5h.01M32.4 172.5h.01M32.1 171.0h.01M35.2 170.7h.01M36.5 164.7h.01M37.5 167.9h.01M22.4 168.6h.01M23.8 169.8h.01M23.4 167.6h.01M30.7 169.2h.01M26.2 168.9h.01M29.1 169.2h.01M29.5 168.5h.01M33.1 164.7h.01M27.5 169.6h.01M27.9 168.0h.01M27.7 169.7h.01M34.6 167.8h.01M28.4 170.0h.01M28.5 164.7h.01M30.6 168.0h.01M27.2 170.8h.01M29.7 167.7h.01M29.6 168.7h.01M31.3 169.3h.01M27.5 166.3h.01M25.0 169.3h.01M24.8 171.4h.01M24.1 165.6h.01M28.7 165.0h.01M36.2 165.7h.01M29.3 168.5h.01M26.1 165.4h.01M21.9 172.1h.01M33.7 173.4h.01M23.5 171.2h.01M29.4 171.0h.01M27.4 171.0h.01M33.2 169.9h.01M35.4 167.7h.01M35.8 166.4h.01M36.3 161.6h.01M29.6 167.1h.01M29.5 171.4h.01M32.4 168.8h.01M36.5 164.5h.01M26.2 173.0h.01M30.8 164.0h.01M30.9 166.0h.01M35.6 170.8h.01M27.3 172.3h.01M26.1 171.6h.01M31.9 168.4h.01M23.7 169.2h.01M21.9 172.9h.01M25.5 163.9h.01M31.9 169.5h.01M27.4 174.2h.01M32.7 168.7h.01M26.9 162.5h.01M31.5 170.9h.01M27.1 166.1h.01M29.3 165.1h.01M29.5 170.8h.01M35.7 168.7h.01M30.3 170.6h.01M35.2 167.4h.01M24.5 167.9h.01M24.3 167.7h.01M29.0 169.9h.01M30.1 169.1h.01M28.0 170.2h.01M33.1 170.2h.01M35.6 167.4h.01M28.5 173.1h.01M30.3 169.8h.01M28.1 171.5h.01M27.8 166.9h.01M29.3 168.0h.01M32.9 167.6h.01M30.0 168.4h.01M30.9 167.3h.01M34.0 165.0h.01M27.9 167.6h.01M32.2 168.7h.01M31.5 167.9h.01M26.6 166.8h.01M28.1 168.0h.01M30.6 169.7h.01M33.5 168.2h.01M26.4 167.0h.01M29.8 169.8h.01M37.5 168.3h.01M36.7 172.3h.01M25.2 172.4h.01M34.2 171.4h.01M29.5 171.2h.01M27.5 169.1h.01M29.6 173.1h.01M28.6 171.3h.01M29.8 167.3h.01M30.5 170.4h.01M26.6 170.9h.01M26.6 167.4h.01M30.4 168.3h.01M25.5 165.8h.01M29.6 169.6h.01M27.6 169.7h.01M23.2 170.8h.01M31.2 169.4h.01M27.0 169.6h.01M30.0 171.4h.01M30.6 169.4h.01M26.5 171.4h.01M34.3 167.1h.01M32.1 169.3h.01M29.3 166.0h.01M36.7 163.6h.01M30.7 167.9h.01M34.2 167.3h.01M29.7 170.4h.01M31.4 167.5h.01M32.3 169.5h.01M33.5 167.2h.01M29.3 168.1h.01M26.1 170.1h.01M31.2 172.0h.01M28.2 170.1h.01M34.2 168.1h.01M29.8 169.3h.01M26.7 167.1h.01M34.1 168.7h.01M29.2 166.2h.01M30.0 171.6h.01M24.8 167.6h.01M34.0 171.7h.01M35.8 166.8h.01M32.0 166.9h.01M31.6 167.8h.01M30.3 172.0h.01M30.9 168.2h.01M29.7 169.6h.01M27.4 169.8h.01M31.9 172.2h.01M21.1 167.5h.01M24.5 171.8h.01M39.5 168.0h.01M30.0 171.6h.01M27.4 168.2h.01M30.9 167.4h.01M34.0 168.3h.01M31.1 174.6h.01M27.7 171.4h.01M26.1 172.4h.01M33.4 168.7h.01M33.5 172.1h.01M35.1 168.2h.01M29.3 171.6h.01M23.5 168.5h.01M31.5 170.0h.01M37.1 171.9h.01M30.8 169.8h.01M24.1 169.4h.01M30.6 168.3h.01M29.7 170.4h.01M25.6 168.3h.01M22.3 172.7h.01M25.2 165.7h.01M32.6 168.1h.01M33.4 167.6h.01M38.1 169.4h.01M30.1 169.2h.01M28.7 171.0h.01M37.6 166.8h.01M25.1 171.0h.01M33.8 164.9h.01M26.7 167.1h.01M31.8 169.8h.01M26.5 166.8h.01M32.3 163.9h.01M32.1 168.3h.01M37.3 170.1h.01M27.2 168.7h.01M28.4 167.5h.01M29.8 171.2h.01M23.4 169.4h.01M35.5 169.8h.01M26.2 167.6h.01M26.0 165.8h.01M34.1 168.5h.01M26.7 166.1h.01M27.9 168.1h.01M36.5 166.9h.01M30.0 171.4h.01M32.2 168.2h.01M31.9 167.7h.01M29.1 166.9h.01M25.9 166.1h.01M31.5 169.9h.01M30.2 170.7h.01M31.7 169.0h.01M25.9 170.9h.01M34.3 169.7h.01M34.5 167.2h.01M25.6 172.4h.01M27.1 169.9h.01M28.7 169.2h.01M28.4 167.9h.01M22.3 174.4h.01M30.3 164.5h.01M25.9 167.0h.01M26.5 163.6h.01M31.8 172.4h.01M28.5 170.8h.01M31.9 165.8h.01M34.4 164.4h.01M27.2 168.5h.01M34.6 168.5h.01M29.0 167.2h.01M29.9 169.0h.01M32.4 171.7h.01M32.5 168.6h.01M28.9 172.7h.01M30.3 168.8h.01M36.7 171.5h.01M31.8 168.4h.01M27.0 171.8h.01M27.7 171.5h.01M26.4 169.7h.01M31.1 169.1h.01M30.4 169.7h.01M25.0 167.1h.01M28.9 173.2h.01M29.0 167.0h.01M26.9 169.5h.01M34.2 167.0h.01M31.7 169.1h.01M28.1 167.1h.01M28.9 167.4h.01M31.7 164.7h.01M34.0 170.1h.01M31.8 172.1h.01M31.9 164.8h.01M29.7 170.0h.01M26.8 166.8h.01M31.2 169.9h.01M27.8 168.7h.01M27.5 168.0h.01M29.3 171.5h.01M23.1 169.2h.01M36.0 168.8h.01M30.1 170.8h.01M25.5 166.8h.01M22.9 166.7h.01M30.5 170.8h.01M27.8 167.7h.01M31.1 170.2h.01M30.5 164.5h.01M27.3 163.6h.01M30.5 166.9h.01M26.9 172.8h.01M34.8 169.3h.01M30.6 169.2h.01M27.2 169.2h.01M37.1 165.9h.01M26.9 169.8h.01M33.1 170.4h.01M25.6 169.3h.01M28.4 166.4h.01M29.8 167.9h.01M33.2 169.4h.01M26.4 169.6h.01M28.1 167.8h.01M27.6 171.7h.01M27.9 165.4h.01M26.4 171.3h.01M38.1 165.4h.01M28.1 168.5h.01M23.9 170.7h.01M29.3 169.7h.01M38.4 167.1h.01M32.7 170.4h.01M27.0 168.0h.01M35.7 169.7h.01M30.1 166.4h.01M33.0 169.7h.01M38.3 171.0h.01M32.7 169.1h.01M29.7 167.7h.01M30.7 169.4h.01M32.1 171.1h.01M30.7 167.6h.01M32.7 172.0h.01M26.2 170.4h.01M31.7 169.9h.01M31.5 168.5h.01M29.1 172.9h.01M36.4 164.8h.01M26.8 168.2h.01M23.1 170.7h.01M29.3 167.8h.01M33.1 174.0h.01M35.4 170.8h.01M27.9 170.7h.01M29.4 171.6h.01M31.8 168.6h.01M31.7 167.1h.01M32.7 171.9h.01M28.1 170.5h.01M22.9 172.1h.01M33.0 166.2h.01M36.4 168.2h.01M22.6 166.9h.01M33.0 167.9h.01M33.9 164.9h.01M29.1 171.3h.01M26.8 170.9h.01M28.1 170.0h.01M30.8 173.9h.01M24.6 171.5h.01M34.7 165.7h.01M29.8 174.2h.01M33.7 161.7h.01M28.6 165.3h.01M30.7 167.2h.01M27.3 167.4h.01M30.7 167.8h.01M25.9 169.0h.01M31.1 166.8h.01M33.9 164.6h.01M31.1 167.9h.01M35.8 166.6h.01M26.9 166.4h.01M37.4 169.2h.01M25.2 168.9h.01M25.7 173.0h.01M31.2 164.2h.01M30.3 170.9h.01M29.5 170.1h.01M29.1 169.5h.01M30.3 167.3h.01M30.9 169.2h.01M29.3 167.5h.01M25.5 170.1h.01M32.8 163.1h.01M27.4 172.4h.01M33.1 166.9h.01M34.9 166.0h.01M26.4 173.8h.01M27.8 168.8h.01M22.9 167.7h.01M24.8 169.4h.01M22.2 172.5h.01M28.1 167.8h.01M27.0 171.1h.01M35.6 167.2h.01M35.9 171.7h.01M34.9 168.9h.01M23.6 171.4h.01M27.9 169.7h.01M22.0 169.5h.01M30.4 166.7h.01M30.7 172.6h.01M30.4 167.3h.01M39.0 162.7h.01M25.8 170.5h.01M27.1 164.2h.01M30.5 170.7h.01M26.3 172.8h.01M31.5 171.4h.01M23.4 169.9h.01M35.9 172.6h.01M34.8 168.2h.01M30.2 167.5h.01M33.9 166.8h.01M30.0 164.3h.01" stroke="#111" stroke-width="0.84" stroke-linecap="round" fill="none" opacity="1"/>
<path d="M27.5 174.7h.01M37.4 168.6h.01M23.1 170.0h.01M50.1 161.6h.01M21.9 169.7h.01M33.6 167.9h.01M29.0 165.1h.01M29.2 171.1h.01M36.7 170.5h.01M30.2 170.8h.01M34.2 168.7h.01M42.9 167.2h.01M34.8 163.4h.01M37.4 170.3h.01M33.0 168.4h.01M25.8 165.7h.01M39.6 171.5h.01M35.0 163.3h.01M34.6 163.7h.01M35.2 174.0h.01M38.9 167.3h.01M43.6 165.9h.01M39.1 168.3h.01M39.8 163.2h.01M41.5 170.0h.01M22.5 162.0h.01M31.3 173.3h.01M37.1 170.0h.01M40.5 170.1h.01M32.9 166.8h.01M39.4 169.5h.01M40.7 168.5h.01M33.9 171.8h.01M40.0 170.7h.01M21.4 170.9h.01M32.8 169.0h.01M34.0 167.5h.01M38.2 168.9h.01M31.9 161.2h.01M32.0 170.4h.01M31.6 170.1h.01M34.6 165.5h.01M44.5 171.9h.01M36.3 167.9h.01M43.1 163.1h.01M31.4 172.2h.01M42.8 165.7h.01M32.0 169.8h.01M28.0 167.8h.01M35.5 160.8h.01M40.8 169.7h.01M43.9 162.6h.01M28.7 166.8h.01M28.6 175.4h.01M30.7 168.0h.01M38.3 169.2h.01M46.3 163.3h.01M42.7 167.6h.01M29.5 169.6h.01M28.0 174.2h.01M32.3 171.7h.01M45.4 164.9h.01M31.2 169.3h.01M30.2 171.7h.01M38.1 165.5h.01M32.6 170.9h.01M27.6 174.5h.01M31.9 168.2h.01M31.0 173.8h.01M42.3 171.2h.01M41.2 167.6h.01M48.0 168.4h.01M39.8 169.3h.01M41.8 168.1h.01M35.9 163.3h.01M50.3 162.1h.01M23.1 167.9h.01M49.5 169.9h.01M33.1 169.4h.01M36.8 162.0h.01M34.8 169.2h.01M44.6 163.2h.01M22.4 165.4h.01M39.1 167.9h.01M38.0 168.3h.01M34.6 164.2h.01M39.9 168.7h.01M40.7 171.2h.01M29.0 162.1h.01M25.4 176.2h.01M31.1 170.1h.01M36.9 170.2h.01M57.8 163.3h.01M35.9 166.3h.01M38.6 169.4h.01M30.7 172.9h.01M44.4 168.3h.01M36.3 167.4h.01M26.3 171.6h.01M30.7 167.4h.01M43.5 164.2h.01M33.6 171.1h.01M49.1 164.1h.01M44.2 164.9h.01M39.5 169.1h.01M29.6 172.2h.01M48.7 166.4h.01M38.8 164.2h.01M48.6 166.5h.01M28.7 171.6h.01M27.5 167.3h.01M23.1 174.2h.01M51.4 163.9h.01M32.8 166.9h.01M33.3 170.2h.01M46.5 163.5h.01M39.9 162.1h.01M46.9 166.3h.01M32.4 173.3h.01M36.3 172.3h.01M44.0 172.0h.01M31.8 168.9h.01M39.4 167.1h.01M46.9 164.4h.01M43.5 171.2h.01M24.3 166.9h.01M31.1 167.2h.01M39.5 167.1h.01M37.5 166.5h.01M36.5 169.6h.01M41.8 164.9h.01M36.3 165.8h.01M35.8 163.8h.01M43.2 169.1h.01M36.2 166.0h.01M34.0 166.4h.01M27.0 174.5h.01M58.4 161.1h.01M29.4 170.9h.01M40.9 162.6h.01M24.5 171.5h.01M24.1 174.3h.01M33.8 168.7h.01M37.0 166.3h.01M36.1 167.2h.01M45.1 166.5h.01M36.8 166.4h.01M32.9 166.4h.01M37.1 173.6h.01M44.2 167.7h.01M47.8 169.5h.01M38.3 167.3h.01M29.9 169.8h.01M34.9 163.5h.01M28.6 175.1h.01M38.4 169.3h.01M38.3 166.4h.01M40.0 170.9h.01M35.0 169.9h.01M43.7 165.5h.01M38.1 165.6h.01M40.9 166.3h.01M44.5 164.6h.01M48.0 165.4h.01M31.5 166.0h.01M41.3 164.8h.01M48.7 170.2h.01M40.4 163.2h.01M36.8 165.8h.01M25.2 171.0h.01M51.3 164.3h.01M42.3 171.1h.01M30.8 167.9h.01M38.7 169.2h.01M29.6 169.8h.01M36.3 171.0h.01M26.6 167.8h.01M33.7 167.5h.01M41.7 165.4h.01M54.8 163.2h.01M42.5 170.3h.01M43.3 166.5h.01M31.6 168.0h.01M41.3 167.7h.01M40.8 169.2h.01M31.3 166.0h.01M46.4 165.1h.01M26.7 175.2h.01M31.6 165.9h.01M43.3 163.6h.01M31.3 172.0h.01M31.7 176.4h.01M37.6 176.1h.01M37.8 168.0h.01M32.8 167.9h.01M33.7 168.4h.01M42.0 163.4h.01M31.0 162.5h.01M46.8 166.3h.01M36.9 167.8h.01M43.5 168.0h.01M42.5 166.7h.01M36.2 167.9h.01M24.9 173.1h.01M26.7 166.5h.01M41.4 167.5h.01M42.3 172.4h.01M49.1 170.4h.01M35.5 174.5h.01M31.3 168.6h.01M43.5 166.4h.01M36.2 167.0h.01M45.9 159.2h.01M45.3 170.0h.01M36.5 169.8h.01M30.7 172.3h.01M56.9 162.3h.01M46.1 166.5h.01M34.8 166.8h.01M35.8 164.4h.01M28.2 174.4h.01M36.9 169.7h.01M39.0 169.2h.01M27.1 166.6h.01M41.1 170.4h.01M29.6 167.3h.01M30.1 171.0h.01M39.2 167.8h.01M32.8 169.7h.01M37.2 165.7h.01M39.2 165.7h.01M43.2 169.0h.01M32.5 170.5h.01M37.4 165.8h.01M31.1 163.8h.01M29.7 170.1h.01M44.8 164.9h.01M38.0 168.9h.01M42.1 168.6h.01M45.0 169.2h.01M32.0 169.9h.01M21.8 169.7h.01M37.1 169.7h.01M35.0 170.8h.01M45.6 164.2h.01M33.5 169.3h.01M40.2 168.0h.01M42.4 163.6h.01M42.0 170.8h.01M44.2 168.2h.01M35.5 169.4h.01M36.5 163.2h.01M33.1 168.5h.01M33.6 165.6h.01M35.5 167.1h.01M37.4 167.8h.01M38.1 170.9h.01M37.9 169.1h.01M29.1 160.2h.01" stroke="#111" stroke-width="0.66" stroke-linecap="round" fill="none" opacity="1"/>
<path d="M57.3 170.0h.01M57.5 168.4h.01M54.8 170.6h.01M56.9 169.5h.01M61.9 169.2h.01M65.2 168.0h.01M61.4 169.5h.01M56.5 169.3h.01M56.8 167.9h.01M59.4 167.9h.01M63.5 167.4h.01M56.9 169.3h.01M56.9 169.3h.01M56.7 167.5h.01M51.3 168.3h.01M63.1 169.0h.01M59.0 168.4h.01M58.1 169.4h.01M54.3 168.6h.01M55.8 170.9h.01M55.3 170.9h.01M57.1 172.6h.01M58.3 169.1h.01M62.6 169.6h.01M61.3 167.3h.01M61.9 170.6h.01M58.2 168.4h.01M55.2 170.7h.01M59.4 168.9h.01M54.8 171.5h.01M61.1 168.6h.01M62.9 167.2h.01M61.1 167.4h.01M62.7 168.1h.01M62.2 168.0h.01M59.7 170.3h.01M55.8 169.5h.01M56.0 170.4h.01M56.7 168.8h.01M57.9 170.5h.01M55.4 169.4h.01M57.5 168.4h.01M56.1 169.1h.01M59.1 167.0h.01M59.2 167.4h.01M58.5 171.8h.01M55.6 169.3h.01M57.7 170.3h.01M57.1 167.0h.01M53.7 169.8h.01M59.3 170.2h.01M56.9 170.0h.01M55.3 171.0h.01M58.3 168.2h.01M59.0 171.1h.01M56.0 167.8h.01M55.5 168.0h.01M58.3 169.5h.01M58.0 169.3h.01M62.1 168.2h.01M54.7 166.7h.01M59.2 168.1h.01M57.8 169.6h.01M59.9 166.9h.01M55.6 169.5h.01M58.1 170.5h.01M57.0 166.6h.01M62.0 166.5h.01M55.6 169.9h.01M55.3 172.5h.01M59.2 169.6h.01M57.2 171.9h.01M60.1 167.9h.01M62.3 166.4h.01M56.7 169.6h.01M58.9 167.8h.01M63.2 170.2h.01M55.7 169.8h.01M56.6 168.7h.01M61.5 168.8h.01" stroke="#111" stroke-width="0.66" stroke-linecap="round" fill="none" opacity="1"/>
<path d="M54.3 166.5h.01M48.0 172.1h.01M50.5 171.9h.01M52.3 164.8h.01M63.9 164.9h.01M51.2 164.7h.01M58.6 172.4h.01M58.7 163.8h.01M48.3 164.8h.01M54.3 167.1h.01M51.1 171.7h.01M49.3 164.4h.01M58.0 167.2h.01M52.7 170.1h.01M46.6 173.9h.01M68.1 170.8h.01M55.7 173.4h.01M55.3 171.0h.01M53.8 167.0h.01M58.1 158.7h.01M53.8 172.8h.01M37.5 171.0h.01M60.5 166.1h.01M56.2 171.1h.01M57.0 158.4h.01M49.3 166.0h.01M55.9 164.1h.01M54.4 172.5h.01M37.4 173.9h.01M60.6 167.2h.01M55.1 166.2h.01M57.2 166.5h.01M50.7 169.8h.01M50.0 166.8h.01M52.9 162.0h.01M58.6 165.0h.01M48.0 167.1h.01M46.7 173.1h.01M58.1 173.0h.01M51.6 169.4h.01M49.2 163.9h.01M54.5 167.7h.01M60.5 163.9h.01M61.6 168.4h.01M49.8 166.4h.01M49.5 173.6h.01M51.7 170.0h.01M60.5 163.9h.01M52.1 167.9h.01M50.4 162.1h.01" stroke="#111" stroke-width="0.56" stroke-linecap="round" fill="none" opacity="1"/>
<polygon points="51.6,155.2 69.2,153.6 69.7,180.9 35.7,180.5" fill="none" stroke="#333" stroke-width="0.75"/>
<path d="M82.5 77 Q76.6 78 76.6 86 V157 Q76.6 163.5 72.3 165.2 Q76.6 167 76.6 173 V199 Q76.6 206 81 206.6" fill="none" stroke="#9a9a9a" stroke-width="0.8"/>
<text x="88" y="71.7" font-size="10.5" text-anchor="start">Day 1</text>
<path d="M86.9 75.3V113.3M96.2 82.6V113.3M105.5 82.6V113.3M114.8 82.6V113.3M124.0 82.6V113.3M133.3 82.6V113.3M142.6 82.6V113.3M151.9 82.6V113.3M161.2 75.3V113.3M86.9 82.6H161.2M86.9 90.5H161.2M86.9 98.3H161.2M86.9 105.9H161.2M86.9 113.3H161.2" stroke="#4a4a4a" stroke-width="0.75" fill="none"/>
<path d="M105.0 81.6 L105.4 81.6 L105.7 81.1 L106.1 81.2 L106.4 81.2 L106.8 80.9 L107.1 81.1 L107.5 80.9 L107.8 80.8 L108.2 80.9 L108.5 80.8 L108.9 80.6 L109.2 80.3 L109.6 80.4 L109.9 79.8 L110.3 80.2 L110.6 80.1 L111.0 79.5 L111.3 79.8 L111.7 79.0 L112.0 79.0 L112.4 79.5 L112.7 78.5 L113.1 79.6 L113.4 79.6 L113.8 77.6 L114.1 79.4 L114.5 79.1 L114.8 78.8 L115.2 77.2 L115.5 77.4 L115.9 78.6 L116.2 78.5 L116.6 78.0 L116.9 77.7 L117.3 78.2 L117.6 78.1 L118.0 77.9 L118.3 77.8 L118.7 76.1 L119.0 76.8 L119.4 77.7 L119.8 75.8 L120.1 77.7 L120.5 75.1 L120.8 75.8 L121.2 77.0 L121.5 76.9 L121.9 76.9 L122.2 75.9 L122.6 76.5 L123.0 76.3 L123.3 76.2 L123.7 76.5 L124.0 75.0 L124.4 74.5 L124.7 73.8 L125.1 76.6 L125.5 76.1 L125.8 75.4 L126.2 76.2 L126.5 76.3 L126.9 75.9 L127.3 74.9 L127.6 76.9 L128.0 76.2 L128.3 77.0 L128.7 77.0 L129.1 77.0 L129.4 78.0 L129.8 76.3 L130.1 78.5 L130.5 77.3 L130.8 78.5 L131.2 78.6 L131.6 77.3 L132.0 77.5 L132.3 76.7 L132.7 77.4 L133.1 77.0 L133.5 77.2 L133.8 77.4 L134.2 77.1 L134.6 76.8 L135.0 76.9 L135.3 75.8 L135.7 74.3 L136.1 73.5 L136.4 76.9 L136.8 76.8 L137.2 75.8 L137.5 76.6 L137.9 76.6 L138.3 74.6 L138.6 75.3 L139.0 74.4 L139.4 76.1 L139.7 73.9 L140.1 74.1 L140.5 76.5 L140.8 77.1 L141.2 77.3 L141.6 76.4 L141.9 77.3 L142.3 76.3 L142.7 78.1 L143.0 78.4 L143.4 78.4 L143.8 78.2 L144.1 77.7 L144.5 76.0 L144.9 75.0 L145.2 76.4 L145.6 73.5 L146.0 74.9 L146.3 73.7 L146.7 75.0 L147.1 74.8 L147.4 73.9 L147.8 73.7 L148.2 73.2 L148.5 75.8 L148.9 75.9 L149.3 74.5 L149.6 77.1 L150.0 76.5 L150.4 77.7 L150.7 78.3 L151.1 79.1 L151.5 79.6 L151.9 80.0 L152.2 80.0 L152.6 80.4 L153.0 80.7 L153.3 80.8 L153.7 81.0 L154.1 80.5 L154.4 80.9 L154.8 80.7 L155.2 81.1 L155.5 81.5 L155.9 81.6 L156.2 81.7 L156.6 81.6 L157.0 81.6 L157.3 81.7 L157.7 81.6 L158.0 81.6 L158.4 81.6 L158.7 81.8 L159.1 81.7 L159.4 81.8 L159.8 81.6 L160.2 81.9 L160.5 81.7 L160.9 81.6 L161.2 81.9 L161.2 83.8 L160.9 83.7 L160.5 83.6 L160.2 83.7 L159.8 83.7 L159.4 83.6 L159.1 83.6 L158.7 83.6 L158.4 83.7 L158.0 83.7 L157.7 83.5 L157.3 83.5 L157.0 83.5 L156.6 83.5 L156.2 83.5 L155.9 83.6 L155.5 83.4 L155.2 83.3 L154.8 83.3 L154.4 83.3 L154.1 83.0 L153.7 83.0 L153.3 82.9 L153.0 82.7 L152.6 82.9 L152.2 82.3 L151.9 82.7 L151.5 82.5 L151.1 82.3 L150.7 81.1 L150.4 81.0 L150.0 80.7 L149.6 79.1 L149.3 80.6 L148.9 78.5 L148.5 79.2 L148.2 77.4 L147.8 77.9 L147.4 77.7 L147.1 78.5 L146.7 78.9 L146.3 78.8 L146.0 78.4 L145.6 80.1 L145.2 79.7 L144.9 80.8 L144.5 80.2 L144.1 80.2 L143.8 82.0 L143.4 80.7 L143.0 80.2 L142.7 80.4 L142.3 81.0 L141.9 80.6 L141.6 79.3 L141.2 79.5 L140.8 79.3 L140.5 78.9 L140.1 79.8 L139.7 78.8 L139.4 78.9 L139.0 79.0 L138.6 79.4 L138.3 79.3 L137.9 79.4 L137.5 79.7 L137.2 78.9 L136.8 80.4 L136.4 79.1 L136.1 79.2 L135.7 79.0 L135.3 79.4 L135.0 80.4 L134.6 80.7 L134.2 79.8 L133.8 81.7 L133.5 79.7 L133.1 80.4 L132.7 80.1 L132.3 80.6 L132.0 81.7 L131.6 81.5 L131.2 81.1 L130.8 80.9 L130.5 80.8 L130.1 82.0 L129.8 80.2 L129.4 81.0 L129.1 80.8 L128.7 80.6 L128.3 80.1 L128.0 81.1 L127.6 81.1 L127.3 79.3 L126.9 79.7 L126.5 79.0 L126.2 79.9 L125.8 80.4 L125.5 79.2 L125.1 81.1 L124.7 78.6 L124.4 78.2 L124.0 78.6 L123.7 79.3 L123.3 79.7 L123.0 79.5 L122.6 80.8 L122.2 81.8 L121.9 80.3 L121.5 80.4 L121.2 79.7 L120.8 79.9 L120.5 80.8 L120.1 80.3 L119.8 80.5 L119.4 80.6 L119.0 79.9 L118.7 81.1 L118.3 82.2 L118.0 80.8 L117.6 80.6 L117.3 80.5 L116.9 80.6 L116.6 81.0 L116.2 81.1 L115.9 81.7 L115.5 81.4 L115.2 81.1 L114.8 81.8 L114.5 81.5 L114.1 81.8 L113.8 82.0 L113.4 81.5 L113.1 81.8 L112.7 81.8 L112.4 82.2 L112.0 82.1 L111.7 82.2 L111.3 82.1 L111.0 82.6 L110.6 82.6 L110.3 82.5 L109.9 82.3 L109.6 82.4 L109.2 82.5 L108.9 82.7 L108.5 82.8 L108.2 82.9 L107.8 83.2 L107.5 82.9 L107.1 83.2 L106.8 83.1 L106.4 83.1 L106.1 83.5 L105.7 83.4 L105.4 83.7 L105.0 83.5Z" fill="#0a0a0a" stroke="#0a0a0a" stroke-width="0.25" stroke-linejoin="round"/>
<path d="M108.2 89.5 L108.6 88.5 L109.0 88.6 L109.3 88.3 L109.7 87.7 L110.1 87.2 L110.4 86.4 L110.8 86.0 L111.2 85.8 L111.5 86.0 L111.9 84.9 L112.3 84.5 L112.6 84.4 L113.0 84.8 L113.4 84.2 L113.7 84.2 L114.1 82.4 L114.5 81.0 L114.8 83.0 L115.2 82.4 L115.6 82.7 L115.9 81.6 L116.3 81.2 L116.7 81.1 L117.0 81.8 L117.4 79.5 L117.7 80.8 L118.1 80.4 L118.4 79.1 L118.8 80.4 L119.1 80.5 L119.5 77.9 L119.8 77.3 L120.2 81.0 L120.5 80.2 L120.9 78.6 L121.2 80.1 L121.6 77.8 L121.9 80.0 L122.3 79.7 L122.6 77.8 L123.0 78.3 L123.3 78.7 L123.7 78.6 L124.0 78.9 L124.4 78.2 L124.8 78.5 L125.1 79.2 L125.5 79.2 L125.9 78.5 L126.3 78.9 L126.6 77.8 L127.0 78.8 L127.4 80.2 L127.7 80.8 L128.1 78.2 L128.5 80.2 L128.9 80.9 L129.2 80.8 L129.6 80.9 L130.0 80.9 L130.3 82.3 L130.7 82.1 L131.0 83.2 L131.4 82.5 L131.7 83.9 L132.1 83.4 L132.5 84.9 L132.8 85.3 L133.2 84.5 L133.5 83.3 L133.9 86.0 L134.3 85.4 L134.6 86.4 L135.0 85.2 L135.3 85.7 L135.7 86.9 L136.1 85.3 L136.4 83.1 L136.8 83.3 L137.1 82.2 L137.5 83.3 L137.9 80.8 L138.2 82.0 L138.6 82.4 L138.9 81.1 L139.3 79.3 L139.6 80.0 L140.0 78.7 L140.4 79.7 L140.7 79.4 L141.1 79.4 L141.4 79.3 L141.8 78.6 L142.2 77.2 L142.5 78.0 L142.9 79.6 L143.3 77.8 L143.6 79.1 L144.0 78.0 L144.4 78.7 L144.8 77.8 L145.1 73.9 L145.5 76.4 L145.9 78.4 L146.3 78.0 L146.6 77.3 L147.0 77.0 L147.4 75.7 L147.8 76.8 L148.1 79.6 L148.5 80.2 L148.9 79.1 L149.2 79.9 L149.6 80.5 L150.0 80.7 L150.4 82.1 L150.7 82.1 L151.1 80.2 L151.5 81.9 L151.9 82.6 L152.2 83.8 L152.6 83.5 L153.0 84.4 L153.3 83.8 L153.7 84.1 L154.1 84.3 L154.5 85.8 L154.8 85.6 L155.2 85.1 L155.6 87.4 L156.0 87.0 L156.3 87.9 L156.7 88.1 L157.1 88.6 L157.5 88.5 L157.8 88.8 L158.2 88.7 L158.6 88.6 L159.0 88.7 L159.3 89.1 L159.7 89.0 L160.1 89.3 L160.5 89.3 L160.8 89.4 L161.2 89.6 L161.2 91.6 L160.8 91.4 L160.5 91.3 L160.1 91.6 L159.7 91.1 L159.3 90.9 L159.0 91.0 L158.6 90.9 L158.2 90.9 L157.8 91.0 L157.5 90.6 L157.1 90.8 L156.7 91.0 L156.3 90.9 L156.0 90.1 L155.6 89.3 L155.2 90.3 L154.8 89.1 L154.5 89.2 L154.1 88.6 L153.7 87.3 L153.3 87.2 L153.0 86.8 L152.6 86.8 L152.2 85.9 L151.9 86.9 L151.5 88.3 L151.1 85.8 L150.7 84.5 L150.4 84.1 L150.0 83.5 L149.6 84.8 L149.2 84.0 L148.9 82.5 L148.5 83.2 L148.1 83.4 L147.8 82.6 L147.4 82.6 L147.0 80.7 L146.6 81.3 L146.3 80.8 L145.9 81.4 L145.5 81.6 L145.1 82.3 L144.8 81.0 L144.4 81.6 L144.0 83.7 L143.6 82.1 L143.3 82.5 L142.9 82.5 L142.5 81.9 L142.2 82.4 L141.8 83.3 L141.4 85.0 L141.1 83.0 L140.7 83.1 L140.4 83.2 L140.0 84.2 L139.6 84.6 L139.3 84.5 L138.9 85.7 L138.6 85.6 L138.2 86.2 L137.9 86.1 L137.5 87.8 L137.1 86.7 L136.8 88.6 L136.4 87.7 L136.1 88.2 L135.7 89.3 L135.3 88.9 L135.0 89.1 L134.6 88.3 L134.3 88.1 L133.9 87.7 L133.5 87.7 L133.2 87.8 L132.8 87.3 L132.5 87.9 L132.1 88.7 L131.7 88.7 L131.4 87.4 L131.0 85.8 L130.7 85.2 L130.3 85.1 L130.0 85.6 L129.6 86.0 L129.2 84.3 L128.9 84.5 L128.5 83.6 L128.1 83.7 L127.7 84.7 L127.4 83.3 L127.0 82.5 L126.6 82.8 L126.3 85.1 L125.9 82.7 L125.5 83.0 L125.1 83.8 L124.8 82.2 L124.4 81.8 L124.0 81.9 L123.7 83.4 L123.3 82.8 L123.0 83.1 L122.6 82.6 L122.3 82.8 L121.9 83.2 L121.6 83.7 L121.2 84.1 L120.9 82.7 L120.5 83.3 L120.2 85.3 L119.8 83.2 L119.5 83.4 L119.1 83.9 L118.8 84.3 L118.4 83.5 L118.1 84.6 L117.7 83.7 L117.4 85.0 L117.0 85.7 L116.7 84.6 L116.3 84.5 L115.9 84.4 L115.6 85.7 L115.2 86.5 L114.8 85.4 L114.5 86.9 L114.1 86.1 L113.7 86.5 L113.4 86.6 L113.0 87.4 L112.6 87.9 L112.3 87.1 L111.9 87.8 L111.5 88.2 L111.2 88.2 L110.8 89.2 L110.4 89.0 L110.1 90.2 L109.7 89.8 L109.3 90.2 L109.0 90.9 L108.6 91.0 L108.2 91.2Z" fill="#0a0a0a" stroke="#0a0a0a" stroke-width="0.25" stroke-linejoin="round"/>
<path d="M105.0 97.0 L105.4 97.0 L105.7 97.0 L106.1 96.8 L106.4 96.9 L106.8 96.8 L107.1 96.6 L107.5 96.7 L107.8 96.4 L108.2 96.5 L108.5 96.4 L108.9 96.4 L109.2 96.4 L109.6 96.5 L109.9 96.3 L110.3 95.7 L110.7 96.1 L111.0 96.1 L111.4 96.3 L111.7 96.2 L112.1 96.1 L112.4 96.1 L112.8 95.7 L113.1 95.9 L113.5 95.8 L113.8 95.9 L114.2 95.9 L114.5 95.0 L114.9 95.9 L115.2 95.8 L115.6 95.2 L116.0 95.4 L116.3 95.2 L116.7 95.4 L117.0 95.1 L117.4 95.0 L117.7 95.4 L118.1 94.4 L118.4 94.8 L118.8 94.7 L119.1 94.0 L119.5 94.8 L119.8 94.2 L120.2 94.5 L120.5 94.3 L120.9 93.7 L121.2 93.9 L121.6 92.7 L121.9 92.8 L122.3 93.3 L122.6 92.7 L123.0 92.8 L123.3 92.7 L123.7 93.5 L124.0 93.0 L124.4 91.5 L124.7 92.4 L125.1 92.8 L125.5 92.9 L125.8 92.3 L126.2 91.3 L126.5 91.1 L126.9 89.2 L127.3 90.4 L127.6 91.4 L128.0 92.0 L128.3 89.1 L128.7 90.8 L129.1 89.7 L129.4 89.2 L129.8 90.1 L130.1 89.6 L130.5 90.9 L130.8 90.2 L131.2 89.9 L131.6 89.7 L131.9 88.7 L132.3 90.4 L132.6 91.5 L133.0 90.7 L133.4 91.8 L133.7 92.8 L134.1 92.0 L134.4 91.6 L134.8 92.7 L135.2 91.8 L135.5 92.2 L135.9 92.9 L136.2 91.8 L136.6 91.7 L137.0 89.9 L137.3 90.6 L137.7 91.6 L138.1 89.9 L138.4 89.7 L138.8 89.1 L139.2 89.4 L139.5 88.1 L139.9 87.8 L140.3 88.0 L140.7 87.9 L141.0 83.9 L141.4 86.8 L141.8 86.4 L142.2 85.3 L142.5 85.7 L142.9 86.1 L143.3 84.2 L143.6 85.3 L144.0 84.4 L144.4 82.7 L144.8 84.6 L145.1 83.0 L145.5 84.0 L145.9 82.6 L146.3 81.6 L146.6 83.0 L147.0 82.6 L147.4 83.7 L147.8 83.8 L148.2 84.6 L148.6 84.5 L149.0 84.9 L149.4 85.3 L149.7 84.4 L150.1 85.0 L150.5 86.6 L150.9 87.9 L151.2 87.0 L151.6 87.3 L152.0 89.5 L152.3 90.0 L152.7 90.0 L153.1 89.6 L153.5 89.0 L153.8 90.4 L154.2 91.9 L154.5 92.1 L154.9 91.1 L155.2 92.6 L155.6 92.3 L155.9 91.0 L156.3 92.9 L156.6 93.4 L157.0 93.6 L157.3 93.8 L157.7 93.9 L158.0 92.7 L158.4 94.1 L158.8 93.5 L159.1 94.7 L159.5 94.7 L159.8 94.7 L160.2 95.3 L160.5 95.1 L160.9 95.1 L161.2 95.8 L161.2 97.8 L160.9 98.0 L160.5 98.0 L160.2 97.8 L159.8 97.2 L159.5 97.2 L159.1 97.0 L158.8 96.5 L158.4 96.6 L158.0 96.4 L157.7 97.0 L157.3 96.9 L157.0 95.4 L156.6 95.9 L156.3 95.0 L155.9 95.4 L155.6 96.5 L155.2 95.4 L154.9 94.6 L154.5 94.3 L154.2 93.9 L153.8 93.8 L153.5 94.5 L153.1 94.8 L152.7 94.5 L152.3 94.0 L152.0 92.6 L151.6 92.7 L151.2 90.6 L150.9 92.5 L150.5 90.2 L150.1 89.4 L149.7 88.8 L149.4 88.3 L149.0 88.6 L148.6 88.7 L148.2 87.8 L147.8 87.5 L147.4 86.6 L147.0 85.7 L146.6 86.4 L146.3 86.3 L145.9 86.6 L145.5 87.2 L145.1 87.3 L144.8 87.9 L144.4 89.2 L144.0 89.1 L143.6 87.8 L143.3 88.3 L142.9 89.5 L142.5 89.0 L142.2 90.5 L141.8 89.3 L141.4 89.8 L141.0 91.1 L140.7 91.8 L140.3 91.2 L139.9 92.1 L139.5 94.4 L139.2 93.2 L138.8 92.7 L138.4 93.7 L138.1 94.1 L137.7 94.3 L137.3 94.9 L137.0 95.5 L136.6 95.3 L136.2 94.7 L135.9 95.1 L135.5 96.6 L135.2 95.0 L134.8 96.6 L134.4 96.4 L134.1 96.6 L133.7 94.8 L133.4 95.4 L133.0 95.1 L132.6 94.2 L132.3 94.4 L131.9 95.0 L131.6 93.7 L131.2 93.0 L130.8 93.6 L130.5 95.8 L130.1 94.2 L129.8 93.9 L129.4 94.9 L129.1 93.4 L128.7 94.6 L128.3 93.6 L128.0 94.4 L127.6 94.6 L127.3 94.5 L126.9 95.5 L126.5 94.4 L126.2 95.7 L125.8 95.4 L125.5 95.4 L125.1 95.7 L124.7 95.7 L124.4 95.4 L124.0 96.9 L123.7 97.0 L123.3 95.6 L123.0 96.0 L122.6 97.2 L122.3 96.0 L121.9 96.5 L121.6 96.5 L121.2 96.4 L120.9 96.6 L120.5 96.6 L120.2 97.1 L119.8 96.8 L119.5 97.1 L119.1 97.4 L118.8 97.6 L118.4 97.2 L118.1 97.8 L117.7 97.7 L117.4 97.4 L117.0 98.2 L116.7 98.0 L116.3 98.3 L116.0 97.6 L115.6 98.2 L115.2 98.3 L114.9 97.8 L114.5 97.7 L114.2 98.0 L113.8 98.6 L113.5 98.4 L113.1 97.9 L112.8 98.3 L112.4 98.4 L112.1 98.2 L111.7 98.2 L111.4 98.1 L111.0 98.3 L110.7 98.6 L110.3 98.2 L109.9 98.3 L109.6 98.8 L109.2 98.6 L108.9 98.7 L108.5 98.4 L108.2 98.5 L107.8 98.6 L107.5 98.7 L107.1 98.6 L106.8 98.9 L106.4 98.8 L106.1 98.9 L105.7 98.8 L105.4 98.8 L105.0 98.8Z" fill="#0a0a0a" stroke="#0a0a0a" stroke-width="0.25" stroke-linejoin="round"/>
<path d="M105.0 104.9 L105.4 104.8 L105.7 104.6 L106.1 104.7 L106.4 104.5 L106.8 104.0 L107.1 104.3 L107.5 104.4 L107.8 103.9 L108.2 103.8 L108.5 104.3 L108.9 104.0 L109.2 104.1 L109.6 104.0 L109.9 104.0 L110.3 103.6 L110.7 103.8 L111.0 103.8 L111.4 103.3 L111.7 103.6 L112.1 103.3 L112.4 103.0 L112.8 103.4 L113.1 102.6 L113.5 102.7 L113.8 103.4 L114.2 103.1 L114.5 102.5 L114.9 103.0 L115.2 101.6 L115.6 102.8 L116.0 102.6 L116.3 102.8 L116.7 102.6 L117.0 102.8 L117.4 101.7 L117.7 102.3 L118.1 102.5 L118.5 101.8 L118.8 100.7 L119.2 101.1 L119.5 101.8 L119.9 100.0 L120.3 100.7 L120.6 101.7 L121.0 101.5 L121.3 101.3 L121.7 101.4 L122.1 100.9 L122.4 99.9 L122.8 98.8 L123.1 99.8 L123.5 99.1 L123.8 100.7 L124.2 99.6 L124.6 98.7 L124.9 100.3 L125.3 97.6 L125.6 100.2 L126.0 100.0 L126.4 100.3 L126.7 98.8 L127.1 97.7 L127.5 99.8 L127.9 98.6 L128.2 98.7 L128.6 96.6 L129.0 98.9 L129.4 97.0 L129.7 98.0 L130.1 95.2 L130.5 96.7 L130.8 92.8 L131.2 95.3 L131.6 97.3 L131.9 96.6 L132.3 97.4 L132.6 98.4 L133.0 99.6 L133.4 98.9 L133.7 100.3 L134.1 98.7 L134.5 97.8 L134.8 98.6 L135.2 99.2 L135.6 98.8 L135.9 99.7 L136.3 99.5 L136.7 98.1 L137.1 97.8 L137.4 99.2 L137.8 98.6 L138.2 98.7 L138.6 96.8 L138.9 98.3 L139.3 97.3 L139.7 97.3 L140.0 97.5 L140.4 96.8 L140.8 95.1 L141.2 94.3 L141.5 93.9 L141.9 94.3 L142.3 92.3 L142.7 93.9 L143.0 92.7 L143.4 91.9 L143.8 92.3 L144.1 91.7 L144.5 92.1 L144.9 89.9 L145.2 90.8 L145.6 90.6 L146.0 91.6 L146.3 88.6 L146.7 90.6 L147.1 90.5 L147.4 88.0 L147.8 90.1 L148.2 89.8 L148.5 89.7 L148.9 91.6 L149.3 90.4 L149.6 91.4 L150.0 91.1 L150.4 93.4 L150.7 92.4 L151.1 92.7 L151.5 95.1 L151.9 93.6 L152.2 96.4 L152.6 95.9 L153.0 97.7 L153.3 98.0 L153.7 98.3 L154.1 97.5 L154.5 96.4 L154.8 98.5 L155.2 98.1 L155.6 99.1 L156.0 100.2 L156.3 99.6 L156.7 100.8 L157.1 101.1 L157.5 101.3 L157.8 101.6 L158.2 101.4 L158.6 102.5 L159.0 102.5 L159.3 102.7 L159.7 101.9 L160.1 103.2 L160.5 103.4 L160.8 103.6 L161.2 104.0 L161.2 106.1 L160.8 105.8 L160.5 105.5 L160.1 105.4 L159.7 105.3 L159.3 105.0 L159.0 105.5 L158.6 105.1 L158.2 104.5 L157.8 104.8 L157.5 103.8 L157.1 103.5 L156.7 103.8 L156.3 103.6 L156.0 102.7 L155.6 102.4 L155.2 104.4 L154.8 103.2 L154.5 101.8 L154.1 101.1 L153.7 101.4 L153.3 100.5 L153.0 102.5 L152.6 99.8 L152.2 99.1 L151.9 100.2 L151.5 99.0 L151.1 98.1 L150.7 97.3 L150.4 96.2 L150.0 95.6 L149.6 96.0 L149.3 96.2 L148.9 96.0 L148.5 93.3 L148.2 94.7 L147.8 92.9 L147.4 93.7 L147.1 92.8 L146.7 94.2 L146.3 95.3 L146.0 93.6 L145.6 94.3 L145.2 94.8 L144.9 94.4 L144.5 94.6 L144.1 95.4 L143.8 96.1 L143.4 96.2 L143.0 96.6 L142.7 96.7 L142.3 96.9 L141.9 98.7 L141.5 98.6 L141.2 98.3 L140.8 100.4 L140.4 101.2 L140.0 100.0 L139.7 100.0 L139.3 102.4 L138.9 101.8 L138.6 102.1 L138.2 102.6 L137.8 103.1 L137.4 103.4 L137.1 102.8 L136.7 102.2 L136.3 101.8 L135.9 102.3 L135.6 102.0 L135.2 102.0 L134.8 102.2 L134.5 103.3 L134.1 102.8 L133.7 103.0 L133.4 102.7 L133.0 102.2 L132.6 102.5 L132.3 101.1 L131.9 101.3 L131.6 102.3 L131.2 102.2 L130.8 101.5 L130.5 100.1 L130.1 102.0 L129.7 100.8 L129.4 101.8 L129.0 101.6 L128.6 101.1 L128.2 101.4 L127.9 101.9 L127.5 101.9 L127.1 103.1 L126.7 102.6 L126.4 102.3 L126.0 104.1 L125.6 102.6 L125.3 103.0 L124.9 103.6 L124.6 103.7 L124.2 103.0 L123.8 104.1 L123.5 103.3 L123.1 104.2 L122.8 103.7 L122.4 104.1 L122.1 104.6 L121.7 104.8 L121.3 103.6 L121.0 103.8 L120.6 105.0 L120.3 104.8 L119.9 104.4 L119.5 104.3 L119.2 105.6 L118.8 105.2 L118.5 104.5 L118.1 105.1 L117.7 104.7 L117.4 105.4 L117.0 104.9 L116.7 104.7 L116.3 105.0 L116.0 104.9 L115.6 105.6 L115.2 105.6 L114.9 105.6 L114.5 105.1 L114.2 105.5 L113.8 105.7 L113.5 105.4 L113.1 105.7 L112.8 105.4 L112.4 106.0 L112.1 105.5 L111.7 106.0 L111.4 106.2 L111.0 106.2 L110.7 106.0 L110.3 105.9 L109.9 106.0 L109.6 105.9 L109.2 106.0 L108.9 106.1 L108.5 106.0 L108.2 106.1 L107.8 106.3 L107.5 106.3 L107.1 106.2 L106.8 106.4 L106.4 106.4 L106.1 106.6 L105.7 106.5 L105.4 106.8 L105.0 106.7Z" fill="#0a0a0a" stroke="#0a0a0a" stroke-width="0.25" stroke-linejoin="round"/>
<path d="M114.7 112.3 L115.1 112.2 L115.4 111.6 L115.8 112.0 L116.1 111.3 L116.5 111.4 L116.8 110.9 L117.2 110.8 L117.6 110.5 L117.9 110.9 L118.3 110.3 L118.6 110.6 L119.0 110.3 L119.4 109.8 L119.7 109.8 L120.1 109.3 L120.4 109.9 L120.8 109.5 L121.2 109.1 L121.5 108.7 L121.9 109.0 L122.3 108.5 L122.6 109.0 L123.0 108.2 L123.4 108.0 L123.8 106.5 L124.1 108.3 L124.5 107.4 L124.9 107.9 L125.3 107.4 L125.6 107.1 L126.0 107.1 L126.4 106.6 L126.7 106.7 L127.1 107.9 L127.5 104.6 L127.9 106.4 L128.2 107.8 L128.6 105.4 L129.0 108.4 L129.4 107.1 L129.7 107.7 L130.1 108.2 L130.5 108.2 L130.8 107.3 L131.2 106.7 L131.6 107.5 L132.0 106.1 L132.3 107.3 L132.7 107.3 L133.1 108.2 L133.5 107.5 L133.8 108.0 L134.2 107.2 L134.6 107.4 L135.0 107.3 L135.3 107.4 L135.7 107.3 L136.1 106.3 L136.4 106.0 L136.8 107.1 L137.2 105.3 L137.6 104.5 L137.9 106.6 L138.3 106.1 L138.7 105.5 L139.1 103.5 L139.4 105.3 L139.8 105.1 L140.2 104.9 L140.5 104.5 L140.9 104.7 L141.3 104.4 L141.7 103.1 L142.0 102.0 L142.4 100.4 L142.8 102.1 L143.2 99.7 L143.5 100.9 L143.9 101.0 L144.3 99.4 L144.6 99.2 L145.0 99.8 L145.4 99.4 L145.7 98.7 L146.1 99.0 L146.5 98.6 L146.8 97.2 L147.2 97.2 L147.5 95.6 L147.9 97.9 L148.3 97.3 L148.6 97.3 L149.0 98.2 L149.4 98.0 L149.7 99.5 L150.1 97.4 L150.5 99.6 L150.9 99.0 L151.2 100.2 L151.6 101.5 L152.0 102.2 L152.3 102.3 L152.7 100.8 L153.1 102.0 L153.5 104.0 L153.8 102.3 L154.2 101.3 L154.6 102.3 L155.0 105.8 L155.3 106.0 L155.7 105.6 L156.1 106.6 L156.4 105.4 L156.8 107.3 L157.2 106.9 L157.6 108.4 L157.9 108.7 L158.3 107.9 L158.7 108.8 L159.0 109.6 L159.4 109.1 L159.8 109.5 L160.1 110.7 L160.5 110.8 L160.9 111.0 L161.2 110.9 L161.2 113.4 L160.9 113.4 L160.5 113.1 L160.1 112.7 L159.8 112.5 L159.4 113.4 L159.0 112.6 L158.7 111.8 L158.3 112.1 L157.9 111.0 L157.6 111.2 L157.2 110.8 L156.8 109.9 L156.4 109.4 L156.1 110.1 L155.7 110.4 L155.3 108.9 L155.0 109.4 L154.6 107.6 L154.2 107.7 L153.8 107.7 L153.5 107.7 L153.1 108.0 L152.7 105.6 L152.3 106.9 L152.0 106.4 L151.6 107.2 L151.2 104.3 L150.9 104.2 L150.5 103.8 L150.1 102.4 L149.7 102.2 L149.4 101.0 L149.0 100.6 L148.6 101.8 L148.3 101.8 L147.9 100.7 L147.5 102.1 L147.2 101.5 L146.8 101.4 L146.5 102.5 L146.1 101.3 L145.7 101.8 L145.4 102.6 L145.0 104.7 L144.6 102.8 L144.3 104.6 L143.9 104.5 L143.5 104.5 L143.2 104.3 L142.8 105.6 L142.4 105.6 L142.0 107.5 L141.7 106.8 L141.3 108.4 L140.9 107.4 L140.5 109.8 L140.2 109.6 L139.8 107.7 L139.4 109.0 L139.1 109.5 L138.7 108.8 L138.3 110.0 L137.9 110.1 L137.6 110.9 L137.2 111.6 L136.8 109.6 L136.4 109.7 L136.1 110.5 L135.7 110.0 L135.3 110.2 L135.0 110.6 L134.6 110.2 L134.2 111.7 L133.8 110.4 L133.5 112.1 L133.1 110.6 L132.7 111.3 L132.3 110.3 L132.0 110.8 L131.6 111.0 L131.2 110.9 L130.8 110.5 L130.5 111.0 L130.1 110.7 L129.7 110.3 L129.4 111.3 L129.0 110.8 L128.6 111.1 L128.2 110.6 L127.9 110.4 L127.5 111.6 L127.1 110.7 L126.7 111.1 L126.4 112.8 L126.0 110.1 L125.6 110.4 L125.3 110.8 L124.9 110.5 L124.5 110.2 L124.1 110.5 L123.8 110.6 L123.4 110.8 L123.0 111.8 L122.6 111.9 L122.3 111.0 L121.9 111.3 L121.5 112.8 L121.2 112.6 L120.8 112.1 L120.4 112.2 L120.1 111.9 L119.7 113.1 L119.4 112.2 L119.0 112.8 L118.6 112.4 L118.3 113.2 L117.9 113.0 L117.6 113.0 L117.2 113.5 L116.8 113.7 L116.5 113.5 L116.1 113.6 L115.8 114.3 L115.4 114.0 L115.1 114.3 L114.7 114.2Z" fill="#0a0a0a" stroke="#0a0a0a" stroke-width="0.25" stroke-linejoin="round"/>
<text x="88" y="125.6" font-size="10.5" text-anchor="start">Day 2</text>
<path d="M85.9 128.6V159.6M95.6 128.6V159.6M105.3 128.6V159.6M115.0 128.6V159.6M124.7 128.6V159.6M134.4 128.6V159.6M144.1 128.6V159.6M153.8 128.6V159.6M163.5 128.6V159.6M85.9 128.6H163.5M85.9 138.6H163.5M85.9 149.1H163.5M85.9 159.6H163.5" stroke="#4a4a4a" stroke-width="0.75" fill="none"/>
<path d="M114.7 127.7 L115.1 127.5 L115.4 127.4 L115.8 127.0 L116.1 126.9 L116.5 126.7 L116.8 126.6 L117.2 126.4 L117.6 126.0 L117.9 125.7 L118.3 125.9 L118.6 125.6 L119.0 125.7 L119.3 125.8 L119.7 126.0 L120.1 125.8 L120.4 125.7 L120.8 125.7 L121.1 125.4 L121.5 125.5 L121.8 125.8 L122.2 125.5 L122.5 125.3 L122.9 125.5 L123.2 125.8 L123.6 125.7 L124.0 124.9 L124.3 124.9 L124.7 125.8 L125.0 125.5 L125.4 125.4 L125.7 125.0 L126.1 125.0 L126.4 125.7 L126.8 125.3 L127.1 125.4 L127.5 125.3 L127.9 125.6 L128.2 125.5 L128.6 125.5 L128.9 125.5 L129.3 125.5 L129.6 124.8 L130.0 124.9 L130.3 124.6 L130.7 125.2 L131.0 124.3 L131.4 125.4 L131.8 125.3 L132.1 124.7 L132.5 125.2 L132.8 124.8 L133.2 125.1 L133.5 124.8 L133.9 124.9 L134.2 124.6 L134.6 124.7 L134.9 124.8 L135.3 124.8 L135.6 124.0 L136.0 124.6 L136.3 124.5 L136.7 124.4 L137.0 124.0 L137.4 122.8 L137.7 124.1 L138.1 124.0 L138.4 123.9 L138.8 123.4 L139.1 123.6 L139.5 123.4 L139.8 123.5 L140.2 123.5 L140.5 122.7 L140.9 121.9 L141.3 122.4 L141.7 123.0 L142.0 122.5 L142.4 123.2 L142.8 122.0 L143.2 122.4 L143.5 122.7 L143.9 121.3 L144.3 121.9 L144.6 122.6 L145.0 121.9 L145.4 122.7 L145.7 121.5 L146.1 121.1 L146.5 120.5 L146.8 120.8 L147.2 120.4 L147.5 119.9 L147.9 119.8 L148.3 118.3 L148.6 118.7 L149.0 118.7 L149.3 119.0 L149.7 120.1 L150.1 120.5 L150.4 120.8 L150.8 121.3 L151.1 122.4 L151.5 122.4 L151.9 122.9 L152.2 123.6 L152.6 123.8 L153.0 124.2 L153.3 124.5 L153.7 124.4 L154.1 123.8 L154.5 124.6 L154.8 125.7 L155.2 125.9 L155.6 126.0 L156.0 126.4 L156.3 126.8 L156.7 127.0 L157.1 127.0 L157.4 126.7 L157.8 126.9 L158.1 127.1 L158.5 127.1 L158.8 127.2 L159.2 127.4 L159.6 127.4 L159.9 127.3 L160.3 127.4 L160.6 127.5 L161.0 127.6 L161.3 127.5 L161.7 127.7 L162.1 127.5 L162.4 127.7 L162.8 127.8 L163.1 127.8 L163.5 127.9 L163.5 129.0 L163.1 129.0 L162.8 128.9 L162.4 129.0 L162.1 128.9 L161.7 128.9 L161.3 128.7 L161.0 128.7 L160.6 128.7 L160.3 128.6 L159.9 128.7 L159.6 128.5 L159.2 128.5 L158.8 128.6 L158.5 128.5 L158.1 128.4 L157.8 128.5 L157.4 128.4 L157.1 128.3 L156.7 128.2 L156.3 128.3 L156.0 127.8 L155.6 127.7 L155.2 127.1 L154.8 127.3 L154.5 126.9 L154.1 126.7 L153.7 126.1 L153.3 126.2 L153.0 125.7 L152.6 125.9 L152.2 124.9 L151.9 125.7 L151.5 124.1 L151.1 124.8 L150.8 123.7 L150.4 122.8 L150.1 122.7 L149.7 121.9 L149.3 121.2 L149.0 120.8 L148.6 120.1 L148.3 120.9 L147.9 121.9 L147.5 122.0 L147.2 121.8 L146.8 122.8 L146.5 123.7 L146.1 123.3 L145.7 123.4 L145.4 124.8 L145.0 124.7 L144.6 124.4 L144.3 124.0 L143.9 124.5 L143.5 124.8 L143.2 124.6 L142.8 124.4 L142.4 125.0 L142.0 125.0 L141.7 125.0 L141.3 125.1 L140.9 125.0 L140.5 125.1 L140.2 125.1 L139.8 125.3 L139.5 125.4 L139.1 125.5 L138.8 125.1 L138.4 125.7 L138.1 125.4 L137.7 125.5 L137.4 126.1 L137.0 125.6 L136.7 125.6 L136.3 126.3 L136.0 125.8 L135.6 126.5 L135.3 126.7 L134.9 126.2 L134.6 126.1 L134.2 126.4 L133.9 126.6 L133.5 126.5 L133.2 126.5 L132.8 126.6 L132.5 127.2 L132.1 126.8 L131.8 126.9 L131.4 127.1 L131.0 126.7 L130.7 126.7 L130.3 126.8 L130.0 126.8 L129.6 126.7 L129.3 126.8 L128.9 127.0 L128.6 126.8 L128.2 126.9 L127.9 127.3 L127.5 127.1 L127.1 126.9 L126.8 126.9 L126.4 127.4 L126.1 127.1 L125.7 127.2 L125.4 127.0 L125.0 127.0 L124.7 127.0 L124.3 127.1 L124.0 127.7 L123.6 127.0 L123.2 127.8 L122.9 127.1 L122.5 127.3 L122.2 127.7 L121.8 127.3 L121.5 127.6 L121.1 127.4 L120.8 127.4 L120.4 127.1 L120.1 127.1 L119.7 127.6 L119.3 127.2 L119.0 127.6 L118.6 127.6 L118.3 127.3 L117.9 127.3 L117.6 127.4 L117.2 127.8 L116.8 128.1 L116.5 128.0 L116.1 128.3 L115.8 128.3 L115.4 128.5 L115.1 128.7 L114.7 128.8Z" fill="#606060" stroke="#606060" stroke-width="0.25" stroke-linejoin="round"/>
<path d="M108.2 137.6 L108.6 137.4 L109.0 137.2 L109.3 137.2 L109.7 137.1 L110.0 136.7 L110.4 136.7 L110.7 136.6 L111.1 136.6 L111.5 136.2 L111.8 136.3 L112.2 136.2 L112.5 135.5 L112.9 136.0 L113.3 135.8 L113.6 135.5 L114.0 135.6 L114.3 135.3 L114.7 134.8 L115.1 134.2 L115.5 134.7 L115.9 134.3 L116.3 134.0 L116.7 132.1 L117.1 132.5 L117.5 131.8 L117.9 133.0 L118.3 130.7 L118.7 132.0 L119.1 131.7 L119.5 131.5 L119.9 131.2 L120.2 131.5 L120.6 131.9 L121.0 132.2 L121.3 132.0 L121.7 132.2 L122.0 131.1 L122.4 133.3 L122.8 133.0 L123.1 132.9 L123.5 133.3 L123.8 133.5 L124.2 132.7 L124.6 133.3 L124.9 133.0 L125.3 133.2 L125.6 133.8 L126.0 132.4 L126.4 132.9 L126.7 132.9 L127.1 133.9 L127.4 133.8 L127.8 133.7 L128.2 132.9 L128.5 134.3 L128.9 134.2 L129.2 134.2 L129.6 134.4 L130.0 134.2 L130.3 133.9 L130.7 133.2 L131.0 134.7 L131.4 134.3 L131.7 134.8 L132.1 134.2 L132.5 134.1 L132.8 134.4 L133.2 134.1 L133.5 134.5 L133.9 134.0 L134.3 133.8 L134.6 134.8 L135.0 134.2 L135.3 134.2 L135.7 134.1 L136.1 133.7 L136.4 134.8 L136.8 134.6 L137.1 133.0 L137.5 134.8 L137.9 134.2 L138.2 134.7 L138.6 134.7 L138.9 134.1 L139.3 134.6 L139.6 132.2 L140.0 134.7 L140.4 134.5 L140.7 134.1 L141.1 134.8 L141.4 134.0 L141.8 134.7 L142.2 134.6 L142.5 134.5 L142.9 134.4 L143.2 134.2 L143.6 134.8 L144.0 133.1 L144.3 134.7 L144.7 134.4 L145.0 133.6 L145.4 134.5 L145.7 134.7 L146.1 134.4 L146.5 134.3 L146.8 133.5 L147.2 134.6 L147.5 134.9 L147.9 133.7 L148.3 134.5 L148.6 134.4 L149.0 134.8 L149.3 135.2 L149.7 135.2 L150.1 135.2 L150.4 135.5 L150.8 135.4 L151.1 135.5 L151.5 135.3 L151.9 135.7 L152.2 135.9 L152.6 135.7 L153.0 136.0 L153.3 136.0 L153.7 136.4 L154.1 136.5 L154.5 136.4 L154.8 136.3 L155.2 136.8 L155.6 137.0 L156.0 137.2 L156.3 137.3 L156.7 137.2 L157.1 137.2 L157.4 137.2 L157.8 137.4 L158.1 137.4 L158.5 137.4 L158.8 137.5 L159.2 137.5 L159.6 137.5 L159.9 137.3 L160.3 137.6 L160.6 137.5 L161.0 137.6 L161.3 137.6 L161.7 137.4 L162.1 137.6 L162.4 137.6 L162.8 137.5 L163.1 137.7 L163.5 137.8 L163.5 139.5 L163.1 139.5 L162.8 139.5 L162.4 139.5 L162.1 139.5 L161.7 139.4 L161.3 139.4 L161.0 139.5 L160.6 139.4 L160.3 139.3 L159.9 139.4 L159.6 139.5 L159.2 139.4 L158.8 139.3 L158.5 139.3 L158.1 139.3 L157.8 139.3 L157.4 139.3 L157.1 139.2 L156.7 139.3 L156.3 139.2 L156.0 139.3 L155.6 138.8 L155.2 138.9 L154.8 138.7 L154.5 138.9 L154.1 138.3 L153.7 138.3 L153.3 138.3 L153.0 138.3 L152.6 138.0 L152.2 137.8 L151.9 138.2 L151.5 137.7 L151.1 138.2 L150.8 137.4 L150.4 137.8 L150.1 137.5 L149.7 137.5 L149.3 138.2 L149.0 137.6 L148.6 137.4 L148.3 137.1 L147.9 137.2 L147.5 137.3 L147.2 137.4 L146.8 137.4 L146.5 136.8 L146.1 137.0 L145.7 137.1 L145.4 136.6 L145.0 136.6 L144.7 137.4 L144.3 137.1 L144.0 137.1 L143.6 136.6 L143.2 136.7 L142.9 137.1 L142.5 137.1 L142.2 136.6 L141.8 136.8 L141.4 136.7 L141.1 136.7 L140.7 136.8 L140.4 137.1 L140.0 137.0 L139.6 136.7 L139.3 137.4 L138.9 136.6 L138.6 137.4 L138.2 137.6 L137.9 136.8 L137.5 137.0 L137.1 136.9 L136.8 137.4 L136.4 137.3 L136.1 138.0 L135.7 136.9 L135.3 136.7 L135.0 136.7 L134.6 137.3 L134.3 137.0 L133.9 136.9 L133.5 136.6 L133.2 136.9 L132.8 136.8 L132.5 137.1 L132.1 136.8 L131.7 136.8 L131.4 136.5 L131.0 136.8 L130.7 136.5 L130.3 137.0 L130.0 136.6 L129.6 136.6 L129.2 136.4 L128.9 136.6 L128.5 136.9 L128.2 137.1 L127.8 137.2 L127.4 137.2 L127.1 136.5 L126.7 136.4 L126.4 137.0 L126.0 135.9 L125.6 135.9 L125.3 136.4 L124.9 136.4 L124.6 136.1 L124.2 135.6 L123.8 135.8 L123.5 136.8 L123.1 136.0 L122.8 135.4 L122.4 136.1 L122.0 135.0 L121.7 135.1 L121.3 135.1 L121.0 134.6 L120.6 133.7 L120.2 134.2 L119.9 133.0 L119.5 133.5 L119.1 135.0 L118.7 134.4 L118.3 134.6 L117.9 134.8 L117.5 135.8 L117.1 135.9 L116.7 135.9 L116.3 136.8 L115.9 136.3 L115.5 137.0 L115.1 137.8 L114.7 138.0 L114.3 137.5 L114.0 138.0 L113.6 138.1 L113.3 138.3 L112.9 138.3 L112.5 138.1 L112.2 138.2 L111.8 138.2 L111.5 138.5 L111.1 138.7 L110.7 138.9 L110.4 139.1 L110.0 138.9 L109.7 139.0 L109.3 139.2 L109.0 139.1 L108.6 139.2 L108.2 139.3Z" fill="#0a0a0a" stroke="#0a0a0a" stroke-width="0.25" stroke-linejoin="round"/>
<path d="M108.2 148.2 L108.6 148.2 L108.9 148.2 L109.3 148.2 L109.6 148.1 L110.0 148.1 L110.3 148.0 L110.7 148.1 L111.0 148.0 L111.4 148.0 L111.7 148.0 L112.1 148.0 L112.4 148.0 L112.8 147.9 L113.1 147.8 L113.5 147.7 L113.9 147.8 L114.2 148.0 L114.6 147.7 L114.9 147.8 L115.3 147.7 L115.6 147.6 L116.0 147.9 L116.3 147.7 L116.7 147.8 L117.0 147.6 L117.4 147.6 L117.7 147.8 L118.1 147.6 L118.4 147.7 L118.8 147.6 L119.1 147.7 L119.5 147.6 L119.8 147.6 L120.2 147.3 L120.5 147.5 L120.9 147.2 L121.2 147.4 L121.6 147.0 L121.9 147.5 L122.3 147.4 L122.6 147.1 L123.0 147.2 L123.3 147.4 L123.7 147.4 L124.0 147.3 L124.4 147.4 L124.7 147.2 L125.1 147.3 L125.4 147.2 L125.8 146.9 L126.2 147.0 L126.5 146.7 L126.9 146.4 L127.2 146.9 L127.6 146.5 L127.9 146.8 L128.3 146.8 L128.6 146.7 L129.0 146.7 L129.3 146.2 L129.7 145.8 L130.0 145.7 L130.4 146.1 L130.7 146.4 L131.1 146.0 L131.5 146.0 L131.8 146.2 L132.2 145.8 L132.5 145.5 L132.9 146.1 L133.2 146.0 L133.6 145.8 L133.9 145.5 L134.3 145.6 L134.6 145.7 L135.0 145.3 L135.3 145.4 L135.7 144.8 L136.1 144.9 L136.4 144.8 L136.8 145.0 L137.2 144.1 L137.6 144.9 L137.9 143.7 L138.3 143.4 L138.7 144.0 L139.1 143.6 L139.4 143.7 L139.8 143.5 L140.2 142.7 L140.5 141.8 L140.9 141.0 L141.3 140.2 L141.7 142.0 L142.0 142.0 L142.4 140.4 L142.8 140.5 L143.2 140.5 L143.5 140.6 L143.9 140.4 L144.3 140.1 L144.6 139.3 L145.0 139.5 L145.4 139.0 L145.8 138.9 L146.1 138.7 L146.5 136.2 L146.9 138.2 L147.3 137.6 L147.6 136.0 L148.0 136.7 L148.4 137.0 L148.7 136.1 L149.1 135.4 L149.5 136.0 L149.9 135.0 L150.2 134.8 L150.6 132.5 L151.0 135.2 L151.3 135.8 L151.7 137.0 L152.0 136.9 L152.4 138.1 L152.7 137.9 L153.1 138.9 L153.5 139.3 L153.8 139.7 L154.2 139.4 L154.5 139.8 L154.9 141.6 L155.3 141.4 L155.6 141.8 L156.0 143.7 L156.3 144.0 L156.7 143.5 L157.1 144.6 L157.4 145.0 L157.8 145.3 L158.1 144.0 L158.5 145.8 L158.8 145.7 L159.2 145.1 L159.6 146.1 L159.9 145.7 L160.3 146.2 L160.6 146.3 L161.0 146.3 L161.3 147.0 L161.7 147.1 L162.1 147.3 L162.4 147.0 L162.8 147.5 L163.1 147.7 L163.5 147.9 L163.5 149.7 L163.1 149.5 L162.8 149.5 L162.4 149.4 L162.1 149.1 L161.7 149.3 L161.3 148.8 L161.0 149.1 L160.6 148.7 L160.3 148.5 L159.9 148.3 L159.6 148.1 L159.2 148.1 L158.8 148.7 L158.5 148.0 L158.1 147.4 L157.8 147.4 L157.4 147.1 L157.1 147.0 L156.7 147.3 L156.3 146.7 L156.0 146.1 L155.6 145.1 L155.3 145.3 L154.9 143.8 L154.5 143.0 L154.2 143.3 L153.8 142.0 L153.5 142.0 L153.1 142.5 L152.7 141.3 L152.4 140.6 L152.0 140.5 L151.7 140.7 L151.3 140.2 L151.0 139.1 L150.6 138.7 L150.2 137.6 L149.9 138.6 L149.5 139.1 L149.1 138.8 L148.7 140.3 L148.4 139.4 L148.0 139.2 L147.6 139.6 L147.3 140.9 L146.9 140.3 L146.5 140.4 L146.1 140.9 L145.8 142.4 L145.4 143.5 L145.0 141.7 L144.6 142.6 L144.3 142.7 L143.9 143.3 L143.5 143.6 L143.2 144.2 L142.8 143.9 L142.4 143.7 L142.0 144.4 L141.7 144.2 L141.3 145.1 L140.9 145.7 L140.5 146.0 L140.2 146.3 L139.8 145.6 L139.4 146.1 L139.1 146.1 L138.7 146.3 L138.3 146.5 L137.9 146.8 L137.6 146.7 L137.2 147.8 L136.8 147.5 L136.4 147.5 L136.1 148.1 L135.7 148.0 L135.3 148.2 L135.0 148.0 L134.6 147.8 L134.3 148.3 L133.9 147.9 L133.6 148.3 L133.2 148.5 L132.9 148.0 L132.5 148.3 L132.2 148.1 L131.8 148.6 L131.5 148.2 L131.1 148.4 L130.7 148.7 L130.4 148.4 L130.0 148.6 L129.7 148.8 L129.3 148.5 L129.0 148.8 L128.6 148.6 L128.3 149.1 L127.9 148.9 L127.6 148.9 L127.2 149.0 L126.9 148.9 L126.5 149.0 L126.2 149.0 L125.8 149.4 L125.4 149.2 L125.1 149.3 L124.7 149.1 L124.4 149.4 L124.0 149.3 L123.7 149.4 L123.3 149.5 L123.0 149.3 L122.6 149.3 L122.3 149.4 L121.9 149.4 L121.6 149.6 L121.2 149.5 L120.9 149.5 L120.5 149.4 L120.2 149.7 L119.8 149.6 L119.5 149.5 L119.1 149.5 L118.8 149.5 L118.4 149.7 L118.1 149.6 L117.7 149.5 L117.4 149.6 L117.0 149.7 L116.7 149.9 L116.3 149.6 L116.0 149.6 L115.6 149.8 L115.3 149.8 L114.9 149.7 L114.6 149.7 L114.2 149.8 L113.9 149.9 L113.5 149.8 L113.1 150.0 L112.8 149.8 L112.4 149.8 L112.1 149.9 L111.7 149.8 L111.4 149.9 L111.0 149.8 L110.7 149.9 L110.3 149.9 L110.0 149.9 L109.6 149.9 L109.3 150.0 L108.9 150.0 L108.6 150.0 L108.2 150.0Z" fill="#0a0a0a" stroke="#0a0a0a" stroke-width="0.25" stroke-linejoin="round"/>
<path d="M116.3 158.6 L116.7 158.6 L117.0 158.5 L117.4 158.6 L117.7 158.6 L118.1 158.5 L118.4 158.4 L118.8 158.5 L119.1 158.4 L119.5 158.5 L119.9 158.4 L120.2 158.3 L120.6 158.0 L120.9 158.2 L121.3 158.2 L121.6 158.1 L122.0 157.8 L122.3 158.2 L122.7 158.1 L123.0 158.0 L123.4 158.1 L123.8 157.6 L124.1 157.7 L124.5 157.7 L124.8 157.9 L125.2 157.6 L125.5 157.7 L125.9 157.6 L126.2 157.7 L126.6 157.8 L126.9 157.6 L127.3 157.8 L127.7 157.6 L128.0 157.5 L128.4 157.4 L128.7 157.4 L129.1 157.5 L129.4 157.5 L129.8 157.1 L130.1 157.4 L130.5 157.4 L130.8 157.3 L131.2 157.2 L131.6 157.0 L132.0 156.7 L132.3 156.9 L132.7 156.2 L133.1 156.2 L133.5 156.1 L133.8 155.5 L134.2 155.7 L134.6 155.4 L135.0 155.2 L135.3 155.5 L135.7 155.3 L136.1 154.8 L136.4 154.5 L136.8 154.9 L137.2 154.4 L137.6 152.2 L137.9 152.7 L138.3 154.1 L138.7 152.0 L139.1 152.8 L139.4 152.8 L139.8 152.9 L140.2 152.4 L140.5 151.4 L140.9 150.8 L141.3 152.2 L141.6 152.0 L142.0 151.8 L142.3 151.0 L142.7 150.5 L143.1 149.4 L143.4 151.0 L143.8 150.3 L144.1 150.8 L144.5 150.4 L144.9 150.4 L145.2 149.7 L145.6 149.6 L145.9 149.5 L146.3 150.2 L146.6 149.3 L147.0 149.8 L147.4 149.0 L147.7 149.0 L148.1 148.1 L148.4 148.8 L148.8 148.4 L149.1 147.9 L149.5 147.1 L149.8 146.5 L150.2 145.3 L150.6 146.5 L150.9 146.0 L151.3 147.7 L151.6 147.8 L152.0 148.8 L152.4 148.3 L152.7 149.9 L153.1 150.1 L153.5 150.2 L153.8 151.1 L154.2 152.1 L154.5 151.4 L154.9 153.5 L155.3 154.0 L155.6 152.4 L156.0 154.4 L156.3 155.2 L156.7 156.1 L157.1 155.6 L157.4 156.2 L157.8 156.6 L158.1 156.2 L158.5 156.1 L158.8 156.2 L159.2 157.1 L159.6 157.2 L159.9 156.9 L160.3 156.6 L160.6 157.1 L161.0 157.3 L161.3 157.7 L161.7 157.7 L162.1 158.0 L162.4 158.0 L162.8 158.0 L163.1 158.0 L163.5 158.3 L163.5 160.4 L163.1 160.3 L162.8 160.0 L162.4 159.9 L162.1 160.0 L161.7 160.1 L161.3 159.6 L161.0 159.4 L160.6 159.3 L160.3 159.4 L159.9 159.3 L159.6 159.4 L159.2 159.0 L158.8 159.1 L158.5 159.0 L158.1 158.5 L157.8 158.5 L157.4 158.7 L157.1 158.7 L156.7 158.6 L156.3 158.5 L156.0 158.0 L155.6 156.8 L155.3 157.7 L154.9 156.6 L154.5 155.9 L154.2 155.1 L153.8 154.0 L153.5 154.2 L153.1 153.8 L152.7 153.4 L152.4 151.9 L152.0 151.7 L151.6 151.1 L151.3 149.8 L150.9 149.2 L150.6 148.4 L150.2 148.8 L149.8 150.1 L149.5 149.5 L149.1 149.9 L148.8 150.8 L148.4 150.8 L148.1 151.7 L147.7 152.1 L147.4 153.7 L147.0 152.7 L146.6 153.0 L146.3 152.2 L145.9 152.6 L145.6 152.7 L145.2 153.1 L144.9 153.5 L144.5 152.6 L144.1 153.9 L143.8 154.3 L143.4 153.5 L143.1 153.4 L142.7 153.9 L142.3 153.9 L142.0 155.2 L141.6 155.8 L141.3 155.5 L140.9 155.4 L140.5 156.1 L140.2 155.2 L139.8 155.4 L139.4 156.0 L139.1 156.5 L138.7 157.5 L138.3 156.1 L137.9 157.5 L137.6 156.9 L137.2 157.3 L136.8 157.0 L136.4 156.9 L136.1 157.5 L135.7 158.5 L135.3 157.6 L135.0 157.7 L134.6 158.0 L134.2 158.3 L133.8 158.3 L133.5 158.8 L133.1 158.4 L132.7 158.9 L132.3 158.8 L132.0 158.9 L131.6 159.2 L131.2 159.2 L130.8 159.3 L130.5 159.3 L130.1 159.7 L129.8 159.4 L129.4 159.5 L129.1 159.6 L128.7 159.4 L128.4 159.5 L128.0 159.5 L127.7 159.7 L127.3 159.6 L126.9 159.6 L126.6 159.7 L126.2 160.2 L125.9 159.8 L125.5 159.7 L125.2 159.9 L124.8 159.8 L124.5 159.8 L124.1 160.1 L123.8 160.0 L123.4 160.0 L123.0 160.0 L122.7 159.9 L122.3 160.1 L122.0 160.1 L121.6 160.1 L121.3 160.2 L120.9 160.2 L120.6 160.3 L120.2 160.2 L119.9 160.2 L119.5 160.3 L119.1 160.4 L118.8 160.3 L118.4 160.4 L118.1 160.5 L117.7 160.5 L117.4 160.6 L117.0 160.4 L116.7 160.6 L116.3 160.5Z" fill="#0a0a0a" stroke="#0a0a0a" stroke-width="0.25" stroke-linejoin="round"/>
<text x="88" y="172.8" font-size="10.5" text-anchor="start">Day 3</text>
<path d="M85.6 175.7V203.6M95.3 175.7V203.6M105.1 175.7V203.6M114.8 175.7V203.6M124.5 175.7V203.6M134.3 175.7V203.6M144.0 175.7V203.6M153.8 175.7V203.6M163.5 175.7V203.6M85.6 175.7H163.5M85.6 185H163.5M85.6 194.4H163.5M85.6 203.6H163.5" stroke="#4a4a4a" stroke-width="0.75" fill="none"/>
<path d="M114.7 174.5 L115.1 174.5 L115.4 174.4 L115.8 174.5 L116.1 174.3 L116.5 174.2 L116.8 174.4 L117.2 174.3 L117.6 174.1 L117.9 173.3 L118.3 174.2 L118.6 174.0 L119.0 173.9 L119.4 173.7 L119.7 174.0 L120.1 174.0 L120.4 173.9 L120.8 173.6 L121.2 173.9 L121.5 173.5 L121.9 173.8 L122.2 173.4 L122.6 173.8 L123.0 173.1 L123.3 173.6 L123.7 173.4 L124.0 173.1 L124.4 173.5 L124.7 172.9 L125.1 173.4 L125.5 173.1 L125.8 172.4 L126.2 171.6 L126.5 171.9 L126.9 172.3 L127.3 170.7 L127.6 170.5 L128.0 169.3 L128.3 172.1 L128.7 172.0 L129.1 171.9 L129.4 170.8 L129.8 170.2 L130.1 170.1 L130.5 167.1 L130.8 170.7 L131.2 167.7 L131.6 168.6 L132.0 169.7 L132.3 170.0 L132.7 168.5 L133.1 169.4 L133.5 169.1 L133.8 167.7 L134.2 167.9 L134.6 168.0 L135.0 168.0 L135.3 167.0 L135.7 168.0 L136.1 166.0 L136.4 167.4 L136.8 165.2 L137.1 167.7 L137.5 165.8 L137.9 166.0 L138.2 167.0 L138.6 165.6 L138.9 164.5 L139.3 167.1 L139.6 162.4 L140.0 167.3 L140.4 165.6 L140.7 167.7 L141.1 166.1 L141.4 165.3 L141.8 167.9 L142.2 168.6 L142.5 168.6 L142.9 167.9 L143.3 167.2 L143.6 163.0 L144.0 165.0 L144.4 164.1 L144.7 166.2 L145.1 163.9 L145.5 164.1 L145.8 164.9 L146.2 162.8 L146.6 164.1 L146.9 162.5 L147.3 163.4 L147.7 164.7 L148.0 165.7 L148.4 166.9 L148.8 163.3 L149.1 166.4 L149.5 167.9 L149.9 166.7 L150.2 166.1 L150.6 168.7 L151.0 167.7 L151.4 166.4 L151.7 170.1 L152.1 169.8 L152.5 170.3 L152.8 170.3 L153.2 169.9 L153.6 169.6 L154.0 171.6 L154.3 171.3 L154.7 172.0 L155.1 172.8 L155.5 172.7 L155.8 172.7 L156.2 172.9 L156.6 173.4 L156.9 173.1 L157.3 172.6 L157.7 172.4 L158.1 173.8 L158.4 173.8 L158.8 173.8 L159.2 173.7 L159.6 173.9 L159.9 174.4 L160.3 174.4 L160.6 174.1 L161.0 174.5 L161.4 174.3 L161.7 174.6 L162.1 174.5 L162.4 174.4 L162.8 174.6 L163.1 174.8 L163.5 174.5 L163.5 176.7 L163.1 176.6 L162.8 176.6 L162.4 176.5 L162.1 176.5 L161.7 176.7 L161.4 176.4 L161.0 176.7 L160.6 176.5 L160.3 176.3 L159.9 176.5 L159.6 177.0 L159.2 176.3 L158.8 176.4 L158.4 176.1 L158.1 176.8 L157.7 176.4 L157.3 175.4 L156.9 175.9 L156.6 176.2 L156.2 175.2 L155.8 175.0 L155.5 174.7 L155.1 175.5 L154.7 174.5 L154.3 175.5 L154.0 174.1 L153.6 174.3 L153.2 175.1 L152.8 172.8 L152.5 173.7 L152.1 173.1 L151.7 176.2 L151.4 173.6 L151.0 171.2 L150.6 171.7 L150.2 171.2 L149.9 171.6 L149.5 174.1 L149.1 173.0 L148.8 169.8 L148.4 172.2 L148.0 168.5 L147.7 168.2 L147.3 167.7 L146.9 168.5 L146.6 168.9 L146.2 168.9 L145.8 170.5 L145.5 167.4 L145.1 169.1 L144.7 171.0 L144.4 169.3 L144.0 174.8 L143.6 170.4 L143.3 172.7 L142.9 171.7 L142.5 171.4 L142.2 174.9 L141.8 172.1 L141.4 172.3 L141.1 171.9 L140.7 171.6 L140.4 170.3 L140.0 170.4 L139.6 169.7 L139.3 171.5 L138.9 171.0 L138.6 170.1 L138.2 170.4 L137.9 170.0 L137.5 169.4 L137.1 170.1 L136.8 169.8 L136.4 171.2 L136.1 171.4 L135.7 170.1 L135.3 171.2 L135.0 172.6 L134.6 172.3 L134.2 171.7 L133.8 172.8 L133.5 171.9 L133.1 173.9 L132.7 172.8 L132.3 173.1 L132.0 173.5 L131.6 173.2 L131.2 174.2 L130.8 173.7 L130.5 173.3 L130.1 175.0 L129.8 174.1 L129.4 174.3 L129.1 173.8 L128.7 174.4 L128.3 174.2 L128.0 174.6 L127.6 175.9 L127.3 176.5 L126.9 175.1 L126.5 175.9 L126.2 174.9 L125.8 175.4 L125.5 175.9 L125.1 176.2 L124.7 175.8 L124.4 176.0 L124.0 175.6 L123.7 176.4 L123.3 175.8 L123.0 175.9 L122.6 176.2 L122.2 175.7 L121.9 175.8 L121.5 176.0 L121.2 176.3 L120.8 176.0 L120.4 176.1 L120.1 176.3 L119.7 175.9 L119.4 176.5 L119.0 176.0 L118.6 176.0 L118.3 176.4 L117.9 176.1 L117.6 176.4 L117.2 176.4 L116.8 176.5 L116.5 176.4 L116.1 176.7 L115.8 176.5 L115.4 176.5 L115.1 176.4 L114.7 176.6Z" fill="#0a0a0a" stroke="#0a0a0a" stroke-width="0.25" stroke-linejoin="round"/>
<path d="M108.2 184.1 L108.6 183.6 L109.0 183.2 L109.4 183.3 L109.7 183.1 L110.1 183.2 L110.5 183.1 L110.8 182.7 L111.2 182.2 L111.6 182.1 L112.0 180.9 L112.3 181.9 L112.7 181.2 L113.1 181.2 L113.4 181.4 L113.8 178.1 L114.2 180.6 L114.5 181.0 L114.9 179.0 L115.2 179.2 L115.6 179.9 L116.0 179.1 L116.3 178.3 L116.7 179.2 L117.0 176.6 L117.4 179.8 L117.7 178.5 L118.1 180.3 L118.4 180.0 L118.8 180.4 L119.1 176.8 L119.5 180.2 L119.8 178.2 L120.2 178.8 L120.5 177.9 L120.9 179.1 L121.2 180.1 L121.6 179.7 L121.9 180.1 L122.3 179.4 L122.6 178.1 L123.0 179.1 L123.3 180.0 L123.7 178.1 L124.0 178.6 L124.4 180.5 L124.7 179.1 L125.1 179.5 L125.4 178.1 L125.8 177.7 L126.1 180.5 L126.5 180.4 L126.8 180.0 L127.2 179.5 L127.5 178.5 L127.9 179.1 L128.3 179.5 L128.6 176.5 L129.0 179.9 L129.3 179.6 L129.7 179.5 L130.0 176.9 L130.4 179.1 L130.7 179.2 L131.1 178.4 L131.4 178.8 L131.8 175.9 L132.1 178.0 L132.5 178.6 L132.8 176.3 L133.2 177.5 L133.6 176.2 L134.0 177.9 L134.3 176.8 L134.7 176.4 L135.1 177.2 L135.4 176.7 L135.8 176.5 L136.2 175.8 L136.6 176.1 L136.9 176.2 L137.3 175.8 L137.7 173.7 L138.1 173.5 L138.5 172.8 L138.9 174.9 L139.3 174.1 L139.7 174.3 L140.1 173.0 L140.5 171.7 L140.9 175.2 L141.4 174.4 L141.8 175.5 L142.2 175.5 L142.5 178.9 L142.9 177.5 L143.2 178.7 L143.6 179.6 L144.0 179.9 L144.3 176.6 L144.7 178.7 L145.0 180.3 L145.4 179.8 L145.7 178.5 L146.1 180.0 L146.5 179.4 L146.8 178.5 L147.2 180.0 L147.5 179.2 L147.9 178.5 L148.3 180.1 L148.6 181.6 L149.0 181.3 L149.3 181.5 L149.7 180.1 L150.1 180.6 L150.4 180.7 L150.8 180.9 L151.1 182.0 L151.5 181.3 L151.9 182.3 L152.2 181.2 L152.6 181.5 L152.9 182.2 L153.3 182.8 L153.6 182.9 L154.0 182.7 L154.4 181.8 L154.7 182.5 L155.1 182.8 L155.4 183.1 L155.8 183.4 L156.1 183.3 L156.5 183.4 L156.8 183.0 L157.2 183.4 L157.5 183.2 L157.9 183.5 L158.2 183.6 L158.6 182.7 L158.9 183.7 L159.3 183.4 L159.6 183.3 L160.0 183.6 L160.3 183.5 L160.7 183.6 L161.0 183.7 L161.4 183.7 L161.7 183.6 L162.1 183.9 L162.4 183.8 L162.8 184.0 L163.1 184.0 L163.5 184.1 L163.5 186.0 L163.1 185.9 L162.8 186.1 L162.4 186.0 L162.1 186.1 L161.7 185.7 L161.4 185.7 L161.0 185.8 L160.7 185.9 L160.3 185.7 L160.0 185.7 L159.6 185.6 L159.3 185.6 L158.9 185.6 L158.6 185.7 L158.2 185.5 L157.9 185.4 L157.5 185.4 L157.2 185.4 L156.8 185.6 L156.5 185.2 L156.1 185.7 L155.8 185.3 L155.4 185.1 L155.1 185.1 L154.7 185.3 L154.4 185.3 L154.0 186.0 L153.6 185.3 L153.3 185.0 L152.9 184.8 L152.6 185.4 L152.2 184.4 L151.9 184.5 L151.5 184.7 L151.1 184.2 L150.8 184.1 L150.4 184.7 L150.1 185.3 L149.7 183.9 L149.3 184.3 L149.0 185.0 L148.6 183.9 L148.3 184.0 L147.9 185.9 L147.5 183.9 L147.2 184.6 L146.8 184.2 L146.5 183.7 L146.1 183.5 L145.7 182.8 L145.4 182.8 L145.0 184.6 L144.7 183.3 L144.3 182.6 L144.0 185.0 L143.6 183.0 L143.2 182.9 L142.9 181.8 L142.5 181.2 L142.2 181.3 L141.8 181.4 L141.4 179.7 L140.9 179.7 L140.5 178.0 L140.1 179.2 L139.7 176.7 L139.3 179.2 L138.9 179.9 L138.5 177.5 L138.1 179.7 L137.7 179.9 L137.3 179.1 L136.9 179.3 L136.6 180.5 L136.2 178.8 L135.8 180.4 L135.4 181.3 L135.1 180.1 L134.7 181.0 L134.3 180.0 L134.0 181.5 L133.6 184.0 L133.2 181.1 L132.8 181.4 L132.5 182.3 L132.1 183.8 L131.8 181.7 L131.4 181.6 L131.1 181.4 L130.7 183.1 L130.4 181.6 L130.0 182.0 L129.7 182.5 L129.3 182.9 L129.0 184.9 L128.6 182.3 L128.3 183.1 L127.9 182.6 L127.5 183.6 L127.2 183.6 L126.8 183.4 L126.5 182.4 L126.1 183.2 L125.8 184.2 L125.4 182.9 L125.1 183.1 L124.7 184.4 L124.4 183.7 L124.0 184.5 L123.7 184.9 L123.3 182.9 L123.0 184.0 L122.6 182.5 L122.3 182.5 L121.9 183.6 L121.6 183.1 L121.2 184.3 L120.9 183.4 L120.5 182.4 L120.2 183.0 L119.8 182.3 L119.5 183.1 L119.1 182.5 L118.8 182.2 L118.4 183.8 L118.1 183.8 L117.7 182.9 L117.4 183.7 L117.0 183.1 L116.7 183.9 L116.3 183.4 L116.0 182.2 L115.6 183.1 L115.2 184.0 L114.9 183.6 L114.5 183.1 L114.2 185.5 L113.8 183.9 L113.4 183.7 L113.1 184.1 L112.7 185.3 L112.3 184.0 L112.0 184.9 L111.6 184.4 L111.2 184.8 L110.8 184.9 L110.5 185.4 L110.1 185.0 L109.7 185.3 L109.4 185.3 L109.0 186.1 L108.6 186.1 L108.2 185.9Z" fill="#0a0a0a" stroke="#0a0a0a" stroke-width="0.25" stroke-linejoin="round"/>
<path d="M114.7 193.2 L115.0 193.1 L115.4 192.4 L115.8 192.7 L116.1 192.8 L116.5 193.1 L116.8 193.0 L117.2 193.0 L117.5 192.6 L117.9 192.5 L118.2 192.7 L118.6 192.6 L119.0 192.4 L119.3 192.7 L119.7 192.4 L120.0 192.7 L120.4 192.8 L120.7 192.4 L121.1 192.3 L121.4 191.8 L121.8 192.6 L122.1 192.6 L122.5 192.2 L122.9 191.8 L123.2 192.3 L123.6 190.9 L123.9 191.9 L124.3 191.0 L124.6 191.7 L125.0 192.1 L125.3 191.3 L125.7 191.6 L126.0 192.1 L126.4 191.8 L126.8 191.9 L127.1 191.6 L127.5 191.7 L127.8 191.3 L128.2 192.1 L128.5 191.0 L128.9 190.9 L129.2 191.3 L129.6 191.9 L130.0 191.2 L130.3 190.1 L130.7 190.5 L131.0 190.7 L131.4 189.9 L131.7 190.8 L132.1 191.0 L132.5 189.4 L132.8 187.6 L133.2 189.2 L133.5 188.5 L133.9 189.4 L134.3 189.9 L134.6 189.4 L135.0 189.0 L135.3 189.5 L135.7 187.4 L136.1 187.8 L136.4 187.4 L136.8 185.7 L137.2 183.1 L137.6 187.6 L137.9 185.7 L138.3 185.8 L138.7 186.4 L139.1 185.0 L139.4 180.8 L139.8 185.5 L140.2 178.6 L140.5 184.3 L140.9 183.1 L141.3 181.4 L141.7 182.9 L142.0 181.4 L142.4 181.6 L142.8 180.5 L143.2 181.3 L143.5 178.9 L143.9 177.2 L144.3 174.4 L144.6 178.6 L145.0 174.4 L145.4 173.2 L145.8 174.9 L146.2 174.9 L146.6 177.9 L147.0 177.7 L147.4 177.6 L147.8 175.3 L148.2 178.1 L148.5 176.5 L148.9 179.5 L149.3 177.7 L149.6 178.8 L150.0 180.6 L150.4 181.0 L150.7 182.8 L151.1 181.8 L151.5 180.3 L151.9 184.4 L152.2 185.0 L152.6 182.4 L153.0 184.5 L153.3 184.7 L153.7 185.3 L154.1 184.6 L154.5 187.6 L154.8 185.2 L155.2 188.2 L155.6 187.5 L156.0 189.2 L156.3 190.7 L156.7 188.4 L157.1 191.1 L157.4 190.8 L157.8 189.7 L158.1 190.3 L158.5 191.0 L158.8 190.8 L159.2 191.3 L159.6 191.7 L159.9 192.3 L160.3 191.3 L160.6 191.8 L161.0 191.8 L161.3 192.4 L161.7 192.8 L162.1 192.6 L162.4 192.8 L162.8 192.6 L163.1 193.3 L163.5 193.2 L163.5 195.6 L163.1 195.5 L162.8 195.2 L162.4 195.3 L162.1 195.6 L161.7 195.2 L161.3 195.2 L161.0 194.9 L160.6 194.7 L160.3 194.6 L159.9 194.9 L159.6 195.7 L159.2 195.4 L158.8 194.8 L158.5 195.4 L158.1 195.2 L157.8 194.0 L157.4 194.4 L157.1 193.6 L156.7 193.9 L156.3 192.8 L156.0 192.5 L155.6 192.0 L155.2 191.4 L154.8 193.0 L154.5 193.3 L154.1 190.9 L153.7 189.6 L153.3 190.5 L153.0 189.0 L152.6 191.2 L152.2 191.2 L151.9 188.6 L151.5 191.8 L151.1 188.7 L150.7 185.1 L150.4 187.2 L150.0 187.6 L149.6 183.7 L149.3 183.1 L148.9 185.2 L148.5 182.8 L148.2 181.8 L147.8 181.4 L147.4 181.9 L147.0 180.6 L146.6 182.6 L146.2 181.0 L145.8 181.4 L145.4 182.1 L145.0 183.6 L144.6 183.1 L144.3 184.9 L143.9 183.0 L143.5 185.4 L143.2 185.5 L142.8 184.0 L142.4 184.6 L142.0 187.6 L141.7 187.8 L141.3 187.2 L140.9 188.9 L140.5 188.3 L140.2 188.5 L139.8 189.8 L139.4 189.8 L139.1 189.5 L138.7 191.3 L138.3 190.1 L137.9 189.6 L137.6 190.4 L137.2 193.7 L136.8 192.3 L136.4 194.2 L136.1 191.5 L135.7 194.7 L135.3 194.4 L135.0 192.0 L134.6 193.6 L134.3 192.5 L133.9 192.5 L133.5 193.8 L133.2 193.4 L132.8 193.5 L132.5 193.0 L132.1 193.2 L131.7 193.6 L131.4 193.4 L131.0 194.9 L130.7 194.9 L130.3 195.9 L130.0 194.6 L129.6 194.0 L129.2 194.5 L128.9 194.2 L128.5 195.3 L128.2 194.6 L127.8 194.5 L127.5 194.7 L127.1 194.4 L126.8 194.4 L126.4 194.8 L126.0 195.0 L125.7 194.8 L125.3 194.5 L125.0 195.3 L124.6 194.6 L124.3 194.8 L123.9 194.6 L123.6 194.9 L123.2 195.0 L122.9 194.8 L122.5 195.4 L122.1 195.2 L121.8 195.2 L121.4 195.3 L121.1 195.1 L120.7 195.0 L120.4 195.0 L120.0 194.9 L119.7 195.1 L119.3 195.2 L119.0 195.7 L118.6 195.0 L118.2 195.4 L117.9 195.3 L117.5 195.2 L117.2 195.2 L116.8 195.5 L116.5 195.2 L116.1 195.2 L115.8 195.5 L115.4 195.4 L115.0 195.3 L114.7 195.3Z" fill="#0a0a0a" stroke="#0a0a0a" stroke-width="0.25" stroke-linejoin="round"/>
<path d="M111.5 202.3 L111.8 202.2 L112.2 202.5 L112.5 202.3 L112.9 201.8 L113.2 202.2 L113.6 202.2 L113.9 202.2 L114.3 202.2 L114.7 202.3 L115.0 202.1 L115.4 202.3 L115.7 201.7 L116.1 201.5 L116.4 201.8 L116.8 202.0 L117.1 202.1 L117.5 201.9 L117.8 201.5 L118.2 201.8 L118.6 201.7 L118.9 201.6 L119.3 201.5 L119.6 201.7 L120.0 200.9 L120.3 201.5 L120.7 201.7 L121.0 201.3 L121.4 201.1 L121.7 201.6 L122.1 201.2 L122.5 201.2 L122.8 200.9 L123.2 199.7 L123.5 200.7 L123.9 200.8 L124.2 200.3 L124.6 201.2 L124.9 200.5 L125.3 201.4 L125.6 201.2 L126.0 201.2 L126.4 201.1 L126.7 200.7 L127.1 200.2 L127.4 199.8 L127.8 199.5 L128.2 199.7 L128.5 199.0 L128.9 199.3 L129.2 198.4 L129.6 198.9 L130.0 197.2 L130.3 196.8 L130.7 198.4 L131.0 195.4 L131.4 197.3 L131.7 196.6 L132.1 198.7 L132.5 196.8 L132.8 197.9 L133.2 195.4 L133.6 195.9 L134.0 196.3 L134.3 195.0 L134.7 193.6 L135.1 195.4 L135.4 193.3 L135.8 195.4 L136.2 193.3 L136.6 192.5 L136.9 191.0 L137.3 190.5 L137.7 192.4 L138.1 190.6 L138.4 190.2 L138.8 192.0 L139.2 189.9 L139.5 188.0 L139.9 190.7 L140.3 190.0 L140.7 187.5 L141.0 189.9 L141.4 186.8 L141.8 187.4 L142.2 182.2 L142.5 183.6 L142.9 186.6 L143.3 187.0 L143.6 184.2 L144.0 186.2 L144.4 184.8 L144.7 184.7 L145.1 179.6 L145.5 184.2 L145.8 181.4 L146.2 180.4 L146.6 181.6 L147.0 181.3 L147.4 183.4 L147.8 182.6 L148.2 183.1 L148.6 180.8 L149.0 178.7 L149.4 185.5 L149.7 185.8 L150.1 187.4 L150.5 186.4 L150.9 189.0 L151.2 187.9 L151.6 187.5 L152.0 191.5 L152.3 190.3 L152.7 191.8 L153.1 192.9 L153.5 194.4 L153.8 194.8 L154.2 195.1 L154.6 194.3 L155.0 193.2 L155.3 191.9 L155.7 191.0 L156.1 196.3 L156.4 194.8 L156.8 198.8 L157.2 198.3 L157.6 197.7 L157.9 199.0 L158.3 200.7 L158.7 200.7 L159.1 201.1 L159.4 200.9 L159.8 201.3 L160.2 201.2 L160.5 201.5 L160.9 201.1 L161.3 201.9 L161.6 201.4 L162.0 201.3 L162.4 202.2 L162.7 202.3 L163.1 202.3 L163.5 202.3 L163.5 204.9 L163.1 204.6 L162.7 204.4 L162.4 204.4 L162.0 204.5 L161.6 204.2 L161.3 204.2 L160.9 204.0 L160.5 204.0 L160.2 204.0 L159.8 204.0 L159.4 203.5 L159.1 204.1 L158.7 203.2 L158.3 203.5 L157.9 203.8 L157.6 203.0 L157.2 202.4 L156.8 201.1 L156.4 202.5 L156.1 201.3 L155.7 199.8 L155.3 200.3 L155.0 200.0 L154.6 200.1 L154.2 197.9 L153.8 200.3 L153.5 198.4 L153.1 197.2 L152.7 197.3 L152.3 196.3 L152.0 193.7 L151.6 193.7 L151.2 194.3 L150.9 192.8 L150.5 192.1 L150.1 193.8 L149.7 190.4 L149.4 190.8 L149.0 189.8 L148.6 188.9 L148.2 187.9 L147.8 187.9 L147.4 189.7 L147.0 185.9 L146.6 186.7 L146.2 188.2 L145.8 187.2 L145.5 186.5 L145.1 192.0 L144.7 189.6 L144.4 189.5 L144.0 190.0 L143.6 190.3 L143.3 191.3 L142.9 190.5 L142.5 194.3 L142.2 192.4 L141.8 193.1 L141.4 191.8 L141.0 193.6 L140.7 195.8 L140.3 193.5 L139.9 196.7 L139.5 194.0 L139.2 196.0 L138.8 195.1 L138.4 195.8 L138.1 196.8 L137.7 197.4 L137.3 197.8 L136.9 199.8 L136.6 199.3 L136.2 200.4 L135.8 201.0 L135.4 198.4 L135.1 200.6 L134.7 199.1 L134.3 201.9 L134.0 199.4 L133.6 202.3 L133.2 202.5 L132.8 200.4 L132.5 200.6 L132.1 200.8 L131.7 201.0 L131.4 201.3 L131.0 202.9 L130.7 203.8 L130.3 201.9 L130.0 202.7 L129.6 202.8 L129.2 202.1 L128.9 203.7 L128.5 202.7 L128.2 205.6 L127.8 202.7 L127.4 204.1 L127.1 203.4 L126.7 205.7 L126.4 203.2 L126.0 204.5 L125.6 203.5 L125.3 203.6 L124.9 204.0 L124.6 203.7 L124.2 204.3 L123.9 204.1 L123.5 203.9 L123.2 203.9 L122.8 204.3 L122.5 204.1 L122.1 204.0 L121.7 203.8 L121.4 204.7 L121.0 203.9 L120.7 204.1 L120.3 203.9 L120.0 204.7 L119.6 204.5 L119.3 204.1 L118.9 204.1 L118.6 204.5 L118.2 204.2 L117.8 204.2 L117.5 204.4 L117.1 204.1 L116.8 204.4 L116.4 204.3 L116.1 204.3 L115.7 204.5 L115.4 204.7 L115.0 204.6 L114.7 204.7 L114.3 204.6 L113.9 204.7 L113.6 204.5 L113.2 204.6 L112.9 204.8 L112.5 204.7 L112.2 204.6 L111.8 204.6 L111.5 205.0Z" fill="#0a0a0a" stroke="#0a0a0a" stroke-width="0.25" stroke-linejoin="round"/>
<text transform="translate(176.4,64.6) rotate(-90)" font-size="11.1" text-anchor="start">Control day 0</text>
<text transform="translate(190.5,64.6) rotate(-90)" font-size="11.1" text-anchor="start">Media</text>
<text transform="translate(201.8,64.6) rotate(-90)" font-size="11.1" text-anchor="start">MSC CM</text>
<text transform="translate(216.8,64.6) rotate(-90)" font-size="11.1" text-anchor="start">Isotype</text>
<text transform="translate(231.1,64.6) rotate(-90)" font-size="11.1" text-anchor="start">α-CCL2</text>
<text x="186.6" y="84.25" font-size="15" text-anchor="middle" style="font-weight:normal;stroke:#222;stroke-width:.12">-</text>
<text x="198.5" y="85.16" font-size="13.8" text-anchor="middle" style="font-weight:normal;stroke:#222;stroke-width:.3">+</text>
<text x="213.9" y="84.25" font-size="15" text-anchor="middle" style="font-weight:normal;stroke:#222;stroke-width:.12">-</text>
<text x="228.5" y="85.16" font-size="13.8" text-anchor="middle" style="font-weight:normal;stroke:#222;stroke-width:.3">+</text>
<text x="186.6" y="92.25" font-size="15" text-anchor="middle" style="font-weight:normal;stroke:#222;stroke-width:.12">-</text>
<text x="198.5" y="92.16" font-size="13.8" text-anchor="middle" style="font-weight:normal;stroke:#222;stroke-width:.3">+</text>
<text x="213.5" y="92.16" font-size="13.8" text-anchor="middle" style="font-weight:normal;stroke:#222;stroke-width:.3">+</text>
<text x="228" y="92.25" font-size="15" text-anchor="middle" style="font-weight:normal;stroke:#222;stroke-width:.12">-</text>
<text x="186.5" y="101.16" font-size="13.8" text-anchor="middle" style="font-weight:normal;stroke:#222;stroke-width:.3">+</text>
<text x="198.5" y="101.16" font-size="13.8" text-anchor="middle" style="font-weight:normal;stroke:#222;stroke-width:.3">+</text>
<text x="213.9" y="100.25" font-size="15" text-anchor="middle" style="font-weight:normal;stroke:#222;stroke-width:.12">-</text>
<text x="228" y="100.25" font-size="15" text-anchor="middle" style="font-weight:normal;stroke:#222;stroke-width:.12">-</text>
<text x="186.5" y="110.16" font-size="13.8" text-anchor="middle" style="font-weight:normal;stroke:#222;stroke-width:.3">+</text>
<text x="198.9" y="109.25" font-size="15" text-anchor="middle" style="font-weight:normal;stroke:#222;stroke-width:.12">-</text>
<text x="213.5" y="110.16" font-size="13.8" text-anchor="middle" style="font-weight:normal;stroke:#222;stroke-width:.3">+</text>
<text x="228" y="109.25" font-size="15" text-anchor="middle" style="font-weight:normal;stroke:#222;stroke-width:.12">-</text>
<text x="173.5" y="119.16" font-size="13.8" text-anchor="middle" style="font-weight:normal;stroke:#222;stroke-width:.3">+</text>
<text x="186.5" y="119.16" font-size="13.8" text-anchor="middle" style="font-weight:normal;stroke:#222;stroke-width:.3">+</text>
<text x="198.9" y="118.25" font-size="15" text-anchor="middle" style="font-weight:normal;stroke:#222;stroke-width:.12">-</text>
<text x="213.9" y="118.25" font-size="15" text-anchor="middle" style="font-weight:normal;stroke:#222;stroke-width:.12">-</text>
<text x="228" y="118.25" font-size="15" text-anchor="middle" style="font-weight:normal;stroke:#222;stroke-width:.12">-</text>
<text x="186.6" y="130.25" font-size="15" text-anchor="middle" style="font-weight:normal;stroke:#222;stroke-width:.12">-</text>
<text x="198.5" y="131.16" font-size="13.8" text-anchor="middle" style="font-weight:normal;stroke:#222;stroke-width:.3">+</text>
<text x="213.9" y="130.25" font-size="15" text-anchor="middle" style="font-weight:normal;stroke:#222;stroke-width:.12">-</text>
<text x="228.5" y="131.16" font-size="13.8" text-anchor="middle" style="font-weight:normal;stroke:#222;stroke-width:.3">+</text>
<text x="186.6" y="143.25" font-size="15" text-anchor="middle" style="font-weight:normal;stroke:#222;stroke-width:.12">-</text>
<text x="198.5" y="143.16" font-size="13.8" text-anchor="middle" style="font-weight:normal;stroke:#222;stroke-width:.3">+</text>
<text x="213.5" y="143.16" font-size="13.8" text-anchor="middle" style="font-weight:normal;stroke:#222;stroke-width:.3">+</text>
<text x="228" y="143.25" font-size="15" text-anchor="middle" style="font-weight:normal;stroke:#222;stroke-width:.12">-</text>
<text x="186.5" y="153.16" font-size="13.8" text-anchor="middle" style="font-weight:normal;stroke:#222;stroke-width:.3">+</text>
<text x="198.5" y="153.16" font-size="13.8" text-anchor="middle" style="font-weight:normal;stroke:#222;stroke-width:.3">+</text>
<text x="213.9" y="152.25" font-size="15" text-anchor="middle" style="font-weight:normal;stroke:#222;stroke-width:.12">-</text>
<text x="228" y="152.25" font-size="15" text-anchor="middle" style="font-weight:normal;stroke:#222;stroke-width:.12">-</text>
<text x="186.5" y="164.16" font-size="13.8" text-anchor="middle" style="font-weight:normal;stroke:#222;stroke-width:.3">+</text>
<text x="198.9" y="164.25" font-size="15" text-anchor="middle" style="font-weight:normal;stroke:#222;stroke-width:.12">-</text>
<text x="213.5" y="164.16" font-size="13.8" text-anchor="middle" style="font-weight:normal;stroke:#222;stroke-width:.3">+</text>
<text x="228" y="164.25" font-size="15" text-anchor="middle" style="font-weight:normal;stroke:#222;stroke-width:.12">-</text>
<text x="186.6" y="177.25" font-size="15" text-anchor="middle" style="font-weight:normal;stroke:#222;stroke-width:.12">-</text>
<text x="198.5" y="178.16" font-size="13.8" text-anchor="middle" style="font-weight:normal;stroke:#222;stroke-width:.3">+</text>
<text x="213.9" y="177.25" font-size="15" text-anchor="middle" style="font-weight:normal;stroke:#222;stroke-width:.12">-</text>
<text x="228.5" y="178.16" font-size="13.8" text-anchor="middle" style="font-weight:normal;stroke:#222;stroke-width:.3">+</text>
<text x="186.6" y="187.25" font-size="15" text-anchor="middle" style="font-weight:normal;stroke:#222;stroke-width:.12">-</text>
<text x="198.5" y="188.16" font-size="13.8" text-anchor="middle" style="font-weight:normal;stroke:#222;stroke-width:.3">+</text>
<text x="213.5" y="188.16" font-size="13.8" text-anchor="middle" style="font-weight:normal;stroke:#222;stroke-width:.3">+</text>
<text x="228" y="187.25" font-size="15" text-anchor="middle" style="font-weight:normal;stroke:#222;stroke-width:.12">-</text>
<text x="186.5" y="197.16" font-size="13.8" text-anchor="middle" style="font-weight:normal;stroke:#222;stroke-width:.3">+</text>
<text x="198.5" y="197.16" font-size="13.8" text-anchor="middle" style="font-weight:normal;stroke:#222;stroke-width:.3">+</text>
<text x="213.9" y="197.25" font-size="15" text-anchor="middle" style="font-weight:normal;stroke:#222;stroke-width:.12">-</text>
<text x="228" y="197.25" font-size="15" text-anchor="middle" style="font-weight:normal;stroke:#222;stroke-width:.12">-</text>
<text x="186.5" y="208.16" font-size="13.8" text-anchor="middle" style="font-weight:normal;stroke:#222;stroke-width:.3">+</text>
<text x="198.9" y="207.25" font-size="15" text-anchor="middle" style="font-weight:normal;stroke:#222;stroke-width:.12">-</text>
<text x="213.5" y="208.16" font-size="13.8" text-anchor="middle" style="font-weight:normal;stroke:#222;stroke-width:.3">+</text>
<text x="228" y="207.25" font-size="15" text-anchor="middle" style="font-weight:normal;stroke:#222;stroke-width:.12">-</text>
<text x="72" y="271.6" font-size="10.4" text-anchor="middle">Media</text>
<text x="176.2" y="270" font-size="10.4" text-anchor="middle">MSC CM</text>
<path d="M25 278.6H117.5M130.8 278.2H219.6" stroke="#a0a0a0" stroke-width="0.9"/>
<path d="M15.7 277V397.2M18 397.2H238" stroke="#8a8a8a" stroke-width="0.8" fill="none"/>
<path d="M15.7 275.3l-1.1 2.4h2.2zM240 397.2l-2.6-1.1v2.2z" fill="#444"/>
<text x="50" y="299.7" font-size="10.4" text-anchor="middle">Isotype</text>
<text x="100.3" y="299.7" font-size="10.4" text-anchor="middle">Test</text>
<text x="156.7" y="299.6" font-size="10.4" text-anchor="middle">Isotype</text>
<text x="206.5" y="299.6" font-size="10.4" text-anchor="middle">Test</text>
<text x="233.6" y="327.2" font-size="10.4" text-anchor="start">Isotype</text>
<text x="232" y="376.4" font-size="10.4" text-anchor="start">α-CCL2</text>
<text transform="translate(7.4,345.4) rotate(-90)" font-size="9.8" text-anchor="middle">CD138</text>
<text x="126" y="408.6" font-size="9.8" text-anchor="middle">CD19</text>
<path d="M28.5 305.4H65.5V340.5H28.5Z" fill="none" stroke="#333" stroke-width="0.8"/>
<path d="M45.7 305.4V340.5M28.5 321.6H65.5" fill="none" stroke="#444" stroke-width="0.7"/>
<path d="M27.2 305.4H28.5" stroke="#222" stroke-width=".6"/>
<text transform="translate(26.9,306.4) scale(0.29)" font-size="10" text-anchor="end" class="s" style="font-weight:bold;fill:#111">10</text>
<path d="M28.5 340.5v1.3" stroke="#222" stroke-width=".6"/>
<text transform="translate(28.5,344.1) scale(0.29)" font-size="10" text-anchor="middle" class="s" style="font-weight:bold;fill:#111">10</text>
<path d="M27.2 314.17499999999995H28.5" stroke="#222" stroke-width=".6"/>
<text transform="translate(26.9,315.17499999999995) scale(0.29)" font-size="10" text-anchor="end" class="s" style="font-weight:bold;fill:#111">10</text>
<path d="M37.75 340.5v1.3" stroke="#222" stroke-width=".6"/>
<text transform="translate(37.75,344.1) scale(0.29)" font-size="10" text-anchor="middle" class="s" style="font-weight:bold;fill:#111">10</text>
<path d="M27.2 322.95H28.5" stroke="#222" stroke-width=".6"/>
<text transform="translate(26.9,323.95) scale(0.29)" font-size="10" text-anchor="end" class="s" style="font-weight:bold;fill:#111">10</text>
<path d="M47.0 340.5v1.3" stroke="#222" stroke-width=".6"/>
<text transform="translate(47.0,344.1) scale(0.29)" font-size="10" text-anchor="middle" class="s" style="font-weight:bold;fill:#111">10</text>
<path d="M27.2 331.725H28.5" stroke="#222" stroke-width=".6"/>
<text transform="translate(26.9,332.725) scale(0.29)" font-size="10" text-anchor="end" class="s" style="font-weight:bold;fill:#111">10</text>
<path d="M56.25 340.5v1.3" stroke="#222" stroke-width=".6"/>
<text transform="translate(56.25,344.1) scale(0.29)" font-size="10" text-anchor="middle" class="s" style="font-weight:bold;fill:#111">10</text>
<path d="M27.2 340.5H28.5" stroke="#222" stroke-width=".6"/>
<text transform="translate(26.9,341.5) scale(0.29)" font-size="10" text-anchor="end" class="s" style="font-weight:bold;fill:#111">10</text>
<path d="M65.5 340.5v1.3" stroke="#222" stroke-width=".6"/>
<text transform="translate(65.5,344.1) scale(0.29)" font-size="10" text-anchor="middle" class="s" style="font-weight:bold;fill:#111">10</text>
<text transform="translate(45.0,304.29999999999995) scale(0.21000000000000002)" font-size="10" text-anchor="middle" class="s" style="font-weight:bold;fill:#111">Specimen_001</text>
<text transform="translate(46.0,345.9) scale(0.21000000000000002)" font-size="10" text-anchor="middle" class="s" style="font-weight:bold;fill:#111">CD19</text>
<text transform="translate(24.5,320.95) rotate(-90) scale(0.21000000000000002)" font-size="10" text-anchor="middle" class="s" style="font-weight:bold;fill:#111">CD138</text>
<path d="M37.9 330.7h.01M37.3 332.6h.01M35.1 334.1h.01M42.9 327.0h.01M39.7 329.3h.01M43.6 323.3h.01M35.2 334.0h.01M31.8 336.8h.01M31.8 337.4h.01M35.6 332.1h.01M41.3 327.6h.01M30.5 338.3h.01M39.3 330.0h.01M39.5 329.1h.01M33.4 335.4h.01M33.6 334.9h.01M40.3 326.1h.01M35.2 334.4h.01M36.1 333.1h.01M44.1 324.1h.01M31.6 337.0h.01M42.0 325.8h.01M29.7 339.3h.01M39.1 328.3h.01M41.3 329.4h.01M40.7 328.0h.01M38.2 330.5h.01M29.7 339.3h.01M35.8 331.7h.01M34.5 334.7h.01M40.4 326.7h.01M30.6 338.3h.01M35.6 332.3h.01M40.8 326.5h.01M44.5 327.5h.01M33.3 334.8h.01M36.2 333.5h.01M42.1 326.8h.01M32.7 336.3h.01M37.3 332.8h.01M29.3 339.7h.01M42.1 327.0h.01M42.9 326.4h.01M37.4 331.1h.01M38.6 330.1h.01M29.1 339.9h.01M29.4 339.8h.01M29.5 339.7h.01M29.3 339.9h.01M32.8 339.5h.01M31.6 339.0h.01M32.6 340.0h.01M29.2 339.9h.01M29.3 339.9h.01M29.4 339.8h.01M29.3 339.8h.01M38.0 334.1h.01M29.1 339.9h.01M29.1 339.9h.01M35.8 336.1h.01M39.4 335.9h.01M36.0 339.3h.01M37.5 332.5h.01M30.9 338.5h.01M38.3 336.1h.01M29.8 339.7h.01M29.5 339.9h.01M41.2 338.9h.01M30.5 339.6h.01M33.6 335.4h.01M29.2 339.9h.01M30.0 339.6h.01M30.6 338.4h.01M29.7 339.3h.01M40.4 339.8h.01M37.5 339.7h.01M29.9 339.5h.01M30.8 338.5h.01M31.9 337.1h.01M38.0 331.6h.01M35.2 338.1h.01M33.8 336.8h.01M35.4 340.0h.01M29.4 339.7h.01M29.1 339.9h.01M29.2 339.9h.01M30.7 338.6h.01M34.1 334.7h.01M29.4 339.8h.01M33.6 338.4h.01M37.7 332.9h.01M29.1 339.9h.01M34.5 336.8h.01M36.8 335.6h.01M33.2 336.8h.01M29.2 339.8h.01M33.3 335.9h.01M29.4 339.9h.01M30.0 339.4h.01M29.7 339.3h.01M32.0 338.8h.01M29.9 339.2h.01M34.4 335.3h.01M40.5 334.5h.01M34.9 335.0h.01M29.1 339.9h.01M34.6 339.1h.01M34.5 339.6h.01M30.8 339.5h.01M36.8 334.0h.01M31.1 338.6h.01M41.7 334.3h.01M32.6 336.7h.01M40.5 339.5h.01M29.2 339.9h.01M29.4 339.7h.01M34.3 336.4h.01M40.6 338.7h.01M33.0 335.8h.01M35.3 333.7h.01M37.8 336.6h.01M33.8 335.5h.01M30.7 339.8h.01M30.4 339.1h.01M31.6 339.6h.01M31.9 339.7h.01M36.2 339.6h.01M41.3 338.1h.01M34.3 339.6h.01M29.5 339.7h.01M32.5 338.1h.01M29.4 339.7h.01M38.1 336.5h.01M29.7 339.6h.01M39.5 337.3h.01M31.9 339.9h.01M31.2 339.0h.01M29.2 339.9h.01M31.1 338.3h.01M31.5 339.4h.01M29.2 339.9h.01M35.3 335.1h.01M30.2 339.8h.01M30.2 339.9h.01M36.1 336.9h.01M38.3 336.1h.01M32.0 337.0h.01M29.3 339.9h.01M29.2 339.8h.01M29.1 339.9h.01M43.2 339.7h.01M32.8 338.7h.01M29.2 339.8h.01M30.6 339.5h.01M36.0 335.3h.01M29.4 339.7h.01M40.1 335.9h.01M30.5 339.7h.01M41.6 333.4h.01M35.4 340.0h.01M32.4 338.7h.01M29.2 339.8h.01M30.1 339.4h.01M34.7 336.1h.01M29.3 339.8h.01M34.5 336.2h.01M35.9 336.7h.01M29.6 339.5h.01M36.7 335.3h.01M40.3 337.8h.01M41.7 337.0h.01M41.2 334.0h.01M35.4 334.5h.01M31.6 339.2h.01M37.0 336.0h.01M39.8 336.4h.01M32.5 339.4h.01M29.4 339.9h.01M29.1 339.9h.01M33.6 337.8h.01M37.4 337.4h.01M34.7 337.4h.01M30.3 339.9h.01M29.4 339.9h.01M29.2 339.8h.01M30.6 339.2h.01M38.2 334.6h.01M39.5 331.8h.01M30.4 338.6h.01M34.6 334.3h.01M30.3 339.7h.01M38.2 336.0h.01M40.2 339.4h.01M33.0 337.6h.01M30.7 339.4h.01M35.6 337.8h.01M35.5 337.7h.01M29.2 339.9h.01M38.1 338.8h.01M29.6 339.7h.01M31.3 340.0h.01M29.1 339.9h.01M30.0 339.9h.01M34.9 335.0h.01M31.0 339.6h.01M35.5 337.8h.01M30.5 339.6h.01M29.7 339.7h.01M36.2 337.5h.01M29.1 339.9h.01M33.1 338.8h.01M30.9 339.6h.01M30.5 339.2h.01M39.7 338.6h.01M40.6 339.7h.01M33.0 339.7h.01M30.9 339.1h.01M38.7 334.8h.01M29.1 339.9h.01M39.7 338.5h.01M35.9 336.5h.01M30.2 339.6h.01M32.6 337.8h.01M29.3 339.7h.01M35.2 338.3h.01M31.1 338.1h.01M29.2 339.8h.01M30.2 339.3h.01M29.9 339.4h.01M29.9 339.8h.01M34.8 336.2h.01M30.6 338.5h.01M38.0 339.7h.01M35.9 338.7h.01M31.3 339.0h.01M29.6 339.9h.01M31.2 338.5h.01M35.9 334.1h.01M41.7 334.4h.01M31.0 340.0h.01M29.1 339.9h.01M29.3 339.8h.01M29.8 339.5h.01M31.6 339.2h.01M29.4 339.8h.01M33.5 337.4h.01M42.5 339.5h.01M29.6 339.9h.01M30.6 339.6h.01M39.7 335.7h.01M33.3 339.7h.01M29.7 339.6h.01M31.4 339.3h.01M35.3 334.6h.01" stroke="#222" stroke-width="0.66" stroke-linecap="round" fill="none" opacity="1"/>
<path d="M36.2 331.1h.01M43.2 330.4h.01M38.0 334.0h.01M34.9 332.2h.01M29.9 338.9h.01M39.4 335.9h.01M32.9 332.6h.01M35.1 332.0h.01M34.4 331.1h.01M45.4 328.7h.01M40.8 329.5h.01M43.5 330.0h.01M41.6 335.7h.01M41.6 332.9h.01M47.0 327.2h.01M45.2 330.3h.01M34.1 328.1h.01M32.4 333.6h.01M33.2 339.6h.01M43.3 330.4h.01M30.4 334.3h.01M44.0 330.4h.01M35.6 332.3h.01M33.0 333.9h.01M31.3 335.0h.01M36.0 339.8h.01M30.0 333.2h.01M32.9 335.9h.01M35.0 333.2h.01M38.2 332.1h.01M33.1 330.0h.01M29.4 335.0h.01M36.8 331.3h.01" stroke="#444" stroke-width="0.56" stroke-linecap="round" fill="none" opacity="1"/>
<path d="M78 306H116.2V341.2H78Z" fill="none" stroke="#333" stroke-width="0.8"/>
<path d="M95 306V341.2M78 322.4H116.2" fill="none" stroke="#444" stroke-width="0.7"/>
<path d="M76.7 306.0H78" stroke="#222" stroke-width=".6"/>
<text transform="translate(76.4,307.0) scale(0.29)" font-size="10" text-anchor="end" class="s" style="font-weight:bold;fill:#111">10</text>
<path d="M78.0 341.2v1.3" stroke="#222" stroke-width=".6"/>
<text transform="translate(78.0,344.8) scale(0.29)" font-size="10" text-anchor="middle" class="s" style="font-weight:bold;fill:#111">10</text>
<path d="M76.7 314.8H78" stroke="#222" stroke-width=".6"/>
<text transform="translate(76.4,315.8) scale(0.29)" font-size="10" text-anchor="end" class="s" style="font-weight:bold;fill:#111">10</text>
<path d="M87.55 341.2v1.3" stroke="#222" stroke-width=".6"/>
<text transform="translate(87.55,344.8) scale(0.29)" font-size="10" text-anchor="middle" class="s" style="font-weight:bold;fill:#111">10</text>
<path d="M76.7 323.6H78" stroke="#222" stroke-width=".6"/>
<text transform="translate(76.4,324.6) scale(0.29)" font-size="10" text-anchor="end" class="s" style="font-weight:bold;fill:#111">10</text>
<path d="M97.1 341.2v1.3" stroke="#222" stroke-width=".6"/>
<text transform="translate(97.1,344.8) scale(0.29)" font-size="10" text-anchor="middle" class="s" style="font-weight:bold;fill:#111">10</text>
<path d="M76.7 332.4H78" stroke="#222" stroke-width=".6"/>
<text transform="translate(76.4,333.4) scale(0.29)" font-size="10" text-anchor="end" class="s" style="font-weight:bold;fill:#111">10</text>
<path d="M106.65 341.2v1.3" stroke="#222" stroke-width=".6"/>
<text transform="translate(106.65,344.8) scale(0.29)" font-size="10" text-anchor="middle" class="s" style="font-weight:bold;fill:#111">10</text>
<path d="M76.7 341.2H78" stroke="#222" stroke-width=".6"/>
<text transform="translate(76.4,342.2) scale(0.29)" font-size="10" text-anchor="end" class="s" style="font-weight:bold;fill:#111">10</text>
<path d="M116.2 341.2v1.3" stroke="#222" stroke-width=".6"/>
<text transform="translate(116.2,344.8) scale(0.29)" font-size="10" text-anchor="middle" class="s" style="font-weight:bold;fill:#111">10</text>
<text transform="translate(95.1,304.9) scale(0.21000000000000002)" font-size="10" text-anchor="middle" class="s" style="font-weight:bold;fill:#111">Specimen_001</text>
<text transform="translate(96.1,346.59999999999997) scale(0.21000000000000002)" font-size="10" text-anchor="middle" class="s" style="font-weight:bold;fill:#111">CD19</text>
<text transform="translate(74,321.6) rotate(-90) scale(0.21000000000000002)" font-size="10" text-anchor="middle" class="s" style="font-weight:bold;fill:#111">CD138</text>
<path d="M78.9 340.2h.01M93.0 325.6h.01M79.2 340.0h.01M87.7 331.7h.01M81.5 337.2h.01M95.4 324.7h.01M79.9 339.4h.01M82.8 336.3h.01M81.5 337.4h.01M82.2 336.2h.01M90.2 328.2h.01M78.9 340.3h.01M88.5 332.0h.01M87.5 330.5h.01M85.4 334.4h.01M83.6 335.1h.01M86.6 333.2h.01M89.5 330.0h.01M91.9 326.7h.01M84.7 334.4h.01M90.9 328.1h.01M88.9 329.0h.01M86.4 331.8h.01M89.8 329.2h.01M80.8 338.2h.01M90.6 329.4h.01M80.1 339.1h.01M91.4 324.9h.01M81.2 338.0h.01M89.7 329.3h.01M90.2 329.8h.01M85.9 334.5h.01M85.1 332.8h.01M93.2 325.7h.01M83.6 335.7h.01M80.2 338.9h.01M87.9 331.3h.01M81.4 337.7h.01M89.4 328.1h.01M80.4 338.8h.01M79.2 340.1h.01M90.1 329.1h.01M87.1 332.0h.01M87.9 329.1h.01M92.4 327.4h.01M79.4 339.8h.01M89.7 329.1h.01M86.7 332.8h.01M85.9 333.9h.01M80.4 338.6h.01M94.4 325.0h.01M94.5 323.8h.01M85.9 334.6h.01M85.8 332.6h.01M84.0 334.4h.01M94.2 324.1h.01M81.7 337.6h.01M82.0 337.2h.01M88.9 327.7h.01M85.8 333.3h.01M81.9 336.8h.01M92.7 324.3h.01M81.0 338.6h.01M89.6 327.8h.01M86.9 331.8h.01M87.5 328.0h.01M82.5 336.9h.01M84.6 334.6h.01M90.4 328.1h.01M87.0 332.2h.01M92.6 325.2h.01M85.2 334.0h.01M81.9 337.3h.01M85.1 333.6h.01M93.5 326.7h.01M94.8 324.3h.01M82.8 335.8h.01M83.9 335.9h.01M88.6 330.6h.01M87.9 332.5h.01M89.5 328.2h.01M84.8 335.0h.01M80.7 338.6h.01M78.8 340.4h.01M90.4 327.5h.01M90.4 329.8h.01M79.4 339.8h.01M79.1 340.1h.01M91.7 325.3h.01M94.2 328.3h.01M84.7 334.3h.01M91.2 328.3h.01M85.2 333.1h.01M90.8 328.7h.01M87.6 333.8h.01M87.6 331.3h.01M85.3 334.5h.01M86.0 330.4h.01M87.7 332.2h.01M92.8 324.2h.01M81.9 336.9h.01M89.8 328.9h.01M82.8 336.6h.01M79.0 340.2h.01M92.8 327.3h.01M83.2 336.2h.01M87.2 331.8h.01M79.5 339.7h.01M82.0 337.3h.01M91.2 328.5h.01M90.6 329.2h.01M80.7 338.7h.01M87.5 330.3h.01M89.3 330.0h.01M80.5 338.7h.01M92.5 324.2h.01M89.2 329.9h.01M88.0 330.5h.01M83.7 334.4h.01M89.6 329.9h.01M81.9 337.7h.01M84.3 333.2h.01M94.0 325.4h.01M81.1 337.7h.01M82.1 337.0h.01M82.1 337.2h.01M90.2 328.6h.01M84.2 333.9h.01M89.7 328.9h.01M81.6 337.5h.01M78.8 340.4h.01M82.7 336.0h.01M94.3 325.5h.01M80.6 338.7h.01M84.4 333.9h.01M90.7 326.2h.01M94.4 326.3h.01M80.3 338.8h.01M88.6 329.9h.01M90.4 329.5h.01M81.7 337.4h.01M80.5 338.7h.01M91.4 328.2h.01M90.2 327.6h.01M84.6 333.3h.01M80.5 338.7h.01M89.4 329.1h.01M84.3 335.2h.01M82.2 336.5h.01M84.8 333.6h.01M80.5 338.3h.01M81.8 337.2h.01M80.8 338.4h.01M79.0 340.3h.01M94.1 325.6h.01M85.1 334.2h.01M85.8 334.5h.01M92.1 325.6h.01M82.6 336.3h.01M92.2 324.0h.01M80.6 338.8h.01M83.5 336.3h.01M81.9 336.8h.01M86.5 331.3h.01M81.5 337.5h.01M81.0 338.2h.01M90.1 326.7h.01M80.3 338.7h.01M87.8 331.8h.01M89.9 329.1h.01M79.4 340.3h.01M85.7 339.4h.01M79.7 339.6h.01M79.1 340.4h.01M82.7 339.1h.01M83.3 339.5h.01M78.6 340.6h.01M80.7 340.5h.01M82.4 340.3h.01M83.2 338.3h.01M82.3 337.4h.01M78.7 340.5h.01M88.1 332.6h.01M87.2 336.3h.01M80.7 339.6h.01M81.5 340.3h.01M86.0 335.9h.01M81.2 338.4h.01M79.8 339.5h.01M80.8 340.6h.01M86.2 337.2h.01M78.6 340.6h.01M78.9 340.4h.01M81.8 338.0h.01M82.1 340.3h.01M79.0 340.3h.01M78.6 340.6h.01M83.2 340.2h.01M82.7 338.2h.01M78.9 340.3h.01M82.3 340.6h.01M80.4 340.1h.01M89.2 337.4h.01M84.9 339.3h.01M79.4 340.2h.01M79.1 340.1h.01M79.0 340.5h.01M84.1 337.2h.01M78.7 340.6h.01M79.8 340.0h.01M83.8 338.2h.01M78.6 340.6h.01M87.1 334.1h.01M79.1 340.6h.01M87.8 337.5h.01M91.5 337.7h.01M90.3 340.1h.01M83.4 340.5h.01M83.7 335.6h.01M79.7 339.6h.01M87.0 332.5h.01M86.7 339.0h.01M79.0 340.3h.01M86.5 338.2h.01M89.5 335.4h.01M81.0 339.8h.01M79.4 340.5h.01M79.2 340.1h.01M85.4 334.7h.01M79.5 340.2h.01M78.7 340.6h.01M89.1 332.5h.01M79.2 340.0h.01M80.4 339.0h.01M90.0 337.4h.01M83.5 336.8h.01M78.7 340.6h.01M79.4 340.5h.01M82.8 340.1h.01M79.1 340.5h.01M79.8 339.6h.01M78.6 340.6h.01M78.6 340.6h.01M78.6 340.6h.01M83.3 338.8h.01M79.1 340.4h.01M89.4 332.1h.01M88.6 333.1h.01M79.7 339.5h.01M80.5 339.7h.01M78.8 340.4h.01M81.1 340.2h.01M91.6 334.8h.01M78.6 340.6h.01M89.1 337.5h.01M82.0 340.4h.01M87.4 336.1h.01M83.3 339.4h.01M88.5 331.1h.01M79.8 340.0h.01M85.0 337.0h.01M83.9 337.5h.01M85.3 338.6h.01M79.2 340.4h.01M82.6 340.4h.01M79.5 340.5h.01M80.2 340.2h.01M91.7 336.3h.01M82.2 339.1h.01M82.3 339.5h.01M81.4 338.5h.01M79.9 340.0h.01M79.1 340.5h.01M79.5 340.6h.01M80.7 340.6h.01M78.7 340.5h.01M80.7 339.2h.01M80.6 339.5h.01M83.6 336.9h.01M82.5 340.3h.01M86.1 339.2h.01M79.1 340.5h.01M92.7 340.7h.01M79.3 340.6h.01M78.6 340.6h.01M80.8 339.9h.01M85.9 336.3h.01M79.4 339.8h.01M79.1 340.6h.01M79.4 340.6h.01M88.7 335.3h.01M79.4 340.6h.01M82.0 337.7h.01M78.6 340.6h.01M79.1 340.6h.01M78.6 340.6h.01M87.3 337.1h.01M79.5 340.6h.01M83.3 339.1h.01M83.8 337.2h.01M79.9 340.2h.01M80.9 339.4h.01M81.2 338.2h.01M83.9 338.0h.01M81.5 339.5h.01M82.7 338.2h.01M79.3 339.8h.01M91.4 335.5h.01M81.8 338.2h.01M78.9 340.5h.01M80.7 339.9h.01M79.3 340.4h.01M82.6 339.1h.01M84.4 340.3h.01M78.9 340.4h.01M78.6 340.6h.01M84.3 338.4h.01M82.9 339.2h.01M78.6 340.6h.01M81.9 340.6h.01M83.6 336.0h.01M79.3 340.4h.01M84.2 340.2h.01M80.1 339.5h.01M79.5 340.6h.01M85.6 336.3h.01M89.3 337.3h.01M78.6 340.6h.01M89.8 339.1h.01M78.7 340.6h.01M80.4 340.2h.01M78.6 340.6h.01M81.3 338.2h.01M78.6 340.6h.01M89.9 335.2h.01M87.4 335.0h.01M83.2 336.8h.01M79.7 340.6h.01M80.5 339.7h.01M78.6 340.6h.01M83.2 336.8h.01M81.3 340.0h.01M78.8 340.5h.01M79.1 340.3h.01M85.3 334.7h.01M79.9 339.4h.01M79.7 340.1h.01M91.3 337.2h.01M88.9 330.5h.01M80.9 338.6h.01M88.8 334.8h.01M90.1 336.7h.01M79.3 340.1h.01M84.8 338.9h.01M79.3 340.5h.01M78.7 340.6h.01M89.4 331.0h.01M81.2 338.6h.01M83.9 337.0h.01M81.9 339.5h.01M79.2 340.6h.01M80.1 340.2h.01M79.2 340.3h.01M89.3 338.8h.01M88.8 333.3h.01M78.9 340.4h.01M87.7 337.0h.01M79.1 340.3h.01M82.8 339.0h.01M79.3 340.6h.01M83.6 337.3h.01M82.6 339.2h.01M79.9 340.0h.01M86.2 340.3h.01M80.5 339.3h.01M86.5 335.1h.01M86.4 335.9h.01M78.6 340.6h.01M80.5 338.9h.01M84.7 336.3h.01M83.1 340.4h.01M85.9 340.3h.01M80.2 340.2h.01M87.6 338.8h.01M79.5 340.1h.01M78.9 340.4h.01M82.5 337.7h.01M82.7 337.7h.01M83.2 335.9h.01M82.9 339.0h.01M79.4 340.2h.01M87.3 338.6h.01M89.3 332.4h.01M81.4 338.9h.01M85.1 338.6h.01M89.8 334.4h.01M80.1 339.6h.01M78.6 340.6h.01M80.4 339.3h.01M78.6 340.6h.01M89.3 336.3h.01M86.0 339.1h.01M83.4 337.3h.01M79.2 340.3h.01M82.5 338.3h.01M81.0 338.2h.01M89.9 337.6h.01M79.8 340.0h.01M78.8 340.5h.01M89.6 339.2h.01M87.0 337.5h.01M81.3 340.2h.01M87.5 339.1h.01M80.3 339.8h.01M79.1 340.5h.01M85.0 339.7h.01M78.7 340.6h.01M81.0 339.9h.01M79.9 339.3h.01M91.7 336.5h.01M80.8 339.2h.01M79.1 340.4h.01M81.4 340.3h.01M78.7 340.5h.01M78.9 340.5h.01M79.8 340.0h.01M86.0 336.4h.01M80.3 340.1h.01M79.1 340.6h.01M86.6 336.4h.01" stroke="#1a1a1a" stroke-width="0.68" stroke-linecap="round" fill="none" opacity="1"/>
<path d="M90.5 340.2h.01M99.5 334.6h.01M85.3 329.1h.01M86.0 332.7h.01M92.6 332.2h.01M81.8 330.8h.01M90.7 336.6h.01M92.1 332.5h.01M91.2 327.4h.01M86.7 329.9h.01M87.0 332.3h.01M83.0 337.7h.01M87.6 339.0h.01M88.4 332.7h.01M82.9 332.3h.01M91.0 333.6h.01M97.7 333.9h.01M84.6 330.8h.01M85.6 338.7h.01M94.6 321.1h.01M81.6 335.3h.01M90.6 334.1h.01M85.6 333.6h.01M84.8 334.3h.01M93.8 328.6h.01M87.4 340.7h.01M86.3 335.3h.01M96.5 328.9h.01M92.0 332.1h.01M91.6 332.2h.01M92.2 336.0h.01M98.4 328.2h.01M92.9 335.1h.01M99.3 338.2h.01M83.6 331.5h.01M97.1 331.4h.01M86.9 330.0h.01M93.9 323.8h.01M84.3 336.6h.01M87.4 334.4h.01M87.8 334.5h.01M85.8 330.4h.01M88.0 338.9h.01M91.4 333.9h.01M84.2 335.0h.01M97.4 331.2h.01" stroke="#444" stroke-width="0.56" stroke-linecap="round" fill="none" opacity="1"/>
<path d="M102.3 328.7h.01M105.0 326.5h.01M103.3 326.5h.01M103.1 329.0h.01M101.2 330.6h.01M102.1 330.6h.01M102.8 328.7h.01M101.8 331.8h.01M102.9 329.0h.01M102.7 329.4h.01M102.5 329.0h.01M103.8 327.4h.01M101.5 329.5h.01M102.2 329.2h.01M102.0 329.8h.01M102.3 330.1h.01M101.9 329.3h.01M102.0 329.1h.01M102.6 328.1h.01M100.7 332.7h.01M99.6 331.2h.01M102.7 328.6h.01" stroke="#111" stroke-width="0.66" stroke-linecap="round" fill="none" opacity="1"/>
<text x="113.8" y="315.8" font-size="7.6" text-anchor="end">0%</text>
<text x="115.6" y="330" font-size="7.6" text-anchor="end">10%</text>
<path d="M28.2 352.6H66.5V389H28.2Z" fill="none" stroke="#333" stroke-width="0.8"/>
<path d="M45.7 352.6V389M28.2 369.3H66.5" fill="none" stroke="#444" stroke-width="0.7"/>
<path d="M26.9 352.6H28.2" stroke="#222" stroke-width=".6"/>
<text transform="translate(26.599999999999998,353.6) scale(0.29)" font-size="10" text-anchor="end" class="s" style="font-weight:bold;fill:#111">10</text>
<path d="M28.2 389v1.3" stroke="#222" stroke-width=".6"/>
<text transform="translate(28.2,392.6) scale(0.29)" font-size="10" text-anchor="middle" class="s" style="font-weight:bold;fill:#111">10</text>
<path d="M26.9 361.70000000000005H28.2" stroke="#222" stroke-width=".6"/>
<text transform="translate(26.599999999999998,362.70000000000005) scale(0.29)" font-size="10" text-anchor="end" class="s" style="font-weight:bold;fill:#111">10</text>
<path d="M37.775 389v1.3" stroke="#222" stroke-width=".6"/>
<text transform="translate(37.775,392.6) scale(0.29)" font-size="10" text-anchor="middle" class="s" style="font-weight:bold;fill:#111">10</text>
<path d="M26.9 370.8H28.2" stroke="#222" stroke-width=".6"/>
<text transform="translate(26.599999999999998,371.8) scale(0.29)" font-size="10" text-anchor="end" class="s" style="font-weight:bold;fill:#111">10</text>
<path d="M47.349999999999994 389v1.3" stroke="#222" stroke-width=".6"/>
<text transform="translate(47.349999999999994,392.6) scale(0.29)" font-size="10" text-anchor="middle" class="s" style="font-weight:bold;fill:#111">10</text>
<path d="M26.9 379.9H28.2" stroke="#222" stroke-width=".6"/>
<text transform="translate(26.599999999999998,380.9) scale(0.29)" font-size="10" text-anchor="end" class="s" style="font-weight:bold;fill:#111">10</text>
<path d="M56.925 389v1.3" stroke="#222" stroke-width=".6"/>
<text transform="translate(56.925,392.6) scale(0.29)" font-size="10" text-anchor="middle" class="s" style="font-weight:bold;fill:#111">10</text>
<path d="M26.9 389.0H28.2" stroke="#222" stroke-width=".6"/>
<text transform="translate(26.599999999999998,390.0) scale(0.29)" font-size="10" text-anchor="end" class="s" style="font-weight:bold;fill:#111">10</text>
<path d="M66.5 389v1.3" stroke="#222" stroke-width=".6"/>
<text transform="translate(66.5,392.6) scale(0.29)" font-size="10" text-anchor="middle" class="s" style="font-weight:bold;fill:#111">10</text>
<text transform="translate(45.35,351.5) scale(0.21000000000000002)" font-size="10" text-anchor="middle" class="s" style="font-weight:bold;fill:#111">Specimen_001</text>
<text transform="translate(46.35,394.4) scale(0.21000000000000002)" font-size="10" text-anchor="middle" class="s" style="font-weight:bold;fill:#111">CD19</text>
<text transform="translate(24.2,368.8) rotate(-90) scale(0.21000000000000002)" font-size="10" text-anchor="middle" class="s" style="font-weight:bold;fill:#111">CD138</text>
<path d="M36.4 379.9h.01M40.7 375.7h.01M33.6 383.4h.01M40.8 376.8h.01M36.7 380.6h.01M28.8 388.4h.01M30.0 387.0h.01M34.7 382.0h.01M39.7 377.4h.01M31.4 385.0h.01M44.3 371.4h.01M39.0 379.1h.01M29.9 387.2h.01M42.8 376.3h.01M40.7 376.1h.01M35.1 382.0h.01M36.9 380.4h.01M30.0 386.9h.01M37.5 379.0h.01M44.7 372.1h.01M38.3 377.9h.01M37.8 379.3h.01M44.2 374.6h.01M31.8 385.0h.01M38.0 378.4h.01M32.5 385.2h.01M32.4 384.0h.01M34.9 381.1h.01M34.7 382.8h.01M40.5 376.4h.01M32.2 385.1h.01M43.8 372.7h.01M43.2 374.0h.01M43.4 372.3h.01M42.1 374.5h.01M38.2 379.1h.01M32.0 384.4h.01M30.8 386.4h.01M43.5 374.7h.01M35.4 381.7h.01M40.2 377.5h.01M37.3 380.1h.01M44.1 371.6h.01M36.0 380.4h.01M44.8 371.1h.01M39.0 377.7h.01M30.7 386.4h.01M36.5 380.3h.01M44.9 370.8h.01M42.8 372.4h.01M40.0 377.1h.01M32.4 383.9h.01M44.2 370.7h.01M36.1 379.5h.01M36.1 379.4h.01M40.8 375.3h.01M37.0 378.9h.01M42.7 372.0h.01M30.6 386.5h.01M43.4 373.4h.01M34.2 383.6h.01M32.9 384.9h.01M34.3 382.5h.01M36.1 380.2h.01M29.0 388.2h.01M32.2 384.8h.01M35.0 382.7h.01M40.9 374.1h.01M43.5 370.6h.01M35.4 381.8h.01M45.9 371.7h.01M30.8 386.2h.01M31.2 385.9h.01M29.7 387.5h.01M42.0 372.7h.01M30.2 387.1h.01M36.9 379.8h.01M30.3 387.0h.01M33.9 382.6h.01M36.8 380.5h.01M42.6 374.1h.01M39.1 378.2h.01M29.9 387.3h.01M37.1 379.8h.01M31.3 385.8h.01M43.6 373.2h.01M30.7 386.3h.01M36.0 381.5h.01M38.8 379.7h.01M40.3 377.5h.01M29.7 387.3h.01M36.3 380.7h.01M31.5 385.8h.01M41.6 377.1h.01M33.6 383.3h.01M43.0 372.0h.01M37.3 379.3h.01M39.6 378.6h.01M45.5 373.1h.01M40.8 373.7h.01M30.8 386.4h.01M38.0 379.0h.01M41.7 372.6h.01M31.2 385.9h.01M39.8 378.0h.01M32.6 384.0h.01M34.7 381.8h.01M39.0 378.7h.01M29.6 387.7h.01M42.7 372.0h.01M39.0 378.8h.01M41.7 376.7h.01M39.8 378.9h.01M40.2 376.3h.01M42.6 374.0h.01M35.8 381.6h.01M42.2 373.8h.01M31.7 385.4h.01M31.8 385.4h.01M43.5 373.3h.01M35.3 382.2h.01M30.7 386.4h.01M42.5 372.7h.01M34.2 382.2h.01M29.3 387.9h.01M42.5 373.4h.01M34.1 380.8h.01M41.7 372.7h.01M41.5 377.3h.01M41.0 377.1h.01M38.6 378.8h.01M43.1 372.6h.01M41.1 375.8h.01M33.4 384.5h.01M34.5 382.0h.01M32.7 385.2h.01M43.6 374.9h.01M33.5 384.1h.01M40.4 378.5h.01M39.0 375.9h.01M43.5 375.2h.01M31.6 385.7h.01M37.3 380.4h.01M29.2 387.8h.01M33.4 383.8h.01M31.3 385.7h.01M39.9 374.3h.01M44.7 371.4h.01M30.4 386.6h.01M41.5 376.2h.01M29.7 387.5h.01M45.0 372.2h.01M33.9 383.5h.01M44.5 372.4h.01M39.0 378.1h.01M29.5 387.6h.01M41.4 376.5h.01M43.9 373.6h.01M39.2 377.1h.01M39.3 377.8h.01M29.5 387.6h.01M31.2 385.9h.01M40.7 375.7h.01M33.0 384.2h.01M39.6 373.1h.01M38.5 378.5h.01M30.9 386.6h.01M36.6 379.3h.01M31.7 386.0h.01M44.4 371.1h.01M33.4 383.4h.01M29.2 388.0h.01M40.8 374.3h.01M29.1 388.0h.01M44.3 373.7h.01M31.7 385.2h.01M45.9 373.4h.01M45.3 371.6h.01M40.2 376.9h.01M37.8 378.2h.01M37.8 376.9h.01M41.2 374.6h.01M28.9 388.2h.01M37.9 378.8h.01M30.6 386.4h.01M41.4 375.1h.01M44.7 373.6h.01M34.1 382.5h.01M41.8 375.1h.01M34.1 383.5h.01M37.6 377.1h.01M33.0 384.1h.01M34.7 381.2h.01M30.8 386.4h.01M31.5 386.1h.01M39.4 377.0h.01M39.3 375.5h.01M36.4 380.3h.01M28.9 388.4h.01M32.8 384.6h.01M41.0 374.3h.01M39.6 376.9h.01M31.8 384.9h.01M29.4 387.8h.01M30.3 387.0h.01M40.3 377.7h.01M44.1 374.9h.01M43.2 374.8h.01M39.0 379.4h.01M32.3 385.0h.01M29.9 387.2h.01M32.9 383.8h.01M37.3 378.9h.01M43.2 372.8h.01M43.0 374.8h.01M31.5 385.4h.01M29.6 387.5h.01M28.9 388.3h.01M29.1 388.1h.01M42.4 373.2h.01M29.8 387.5h.01M33.8 382.0h.01M33.9 383.0h.01M33.8 383.4h.01M31.0 386.4h.01M42.8 372.0h.01M29.2 387.9h.01M32.6 384.3h.01M35.9 380.1h.01M30.4 386.8h.01M35.2 381.8h.01M37.1 379.6h.01M42.4 375.1h.01M44.8 373.2h.01M41.8 375.5h.01M36.0 380.3h.01M35.7 381.2h.01M37.1 379.1h.01M37.3 380.6h.01M30.5 386.5h.01M31.3 385.9h.01M45.0 371.6h.01M37.3 379.2h.01M36.8 379.8h.01M32.2 385.2h.01M34.7 381.7h.01M41.2 376.4h.01M35.3 379.8h.01M36.1 382.6h.01M31.6 385.3h.01M36.6 381.1h.01M41.5 375.6h.01M33.8 382.8h.01M30.4 386.9h.01M41.9 375.7h.01M38.3 378.3h.01M31.4 386.1h.01M42.8 376.5h.01M38.2 378.7h.01M29.5 387.7h.01M43.0 374.4h.01M34.6 381.9h.01M40.0 376.7h.01M44.7 373.0h.01M33.2 384.7h.01M33.7 383.3h.01M30.1 387.0h.01M35.9 380.0h.01M29.5 387.7h.01M40.9 375.0h.01M31.8 385.4h.01M37.2 379.8h.01M32.9 384.0h.01M32.3 385.3h.01M30.7 386.6h.01M36.0 381.7h.01M34.4 382.7h.01M40.4 376.1h.01M38.7 377.7h.01M37.0 380.3h.01M31.8 385.7h.01M35.4 380.7h.01M32.7 384.6h.01M35.6 382.7h.01M40.5 373.5h.01M32.6 384.1h.01M32.0 384.7h.01M39.3 377.9h.01M34.7 381.7h.01M42.6 373.6h.01M35.7 381.6h.01M32.5 384.5h.01M44.3 373.9h.01M37.4 380.4h.01M41.0 377.3h.01M43.5 370.4h.01M34.2 383.1h.01M42.9 374.7h.01M41.8 371.8h.01M45.3 372.9h.01M29.1 388.4h.01M29.9 388.3h.01M30.5 387.8h.01M28.8 388.4h.01M32.1 387.6h.01M31.8 388.4h.01M33.2 384.5h.01M36.6 381.1h.01M28.8 388.4h.01M33.2 388.3h.01M29.8 387.6h.01M36.9 387.8h.01M31.4 387.3h.01M32.8 388.1h.01M35.1 385.4h.01M28.8 388.4h.01M29.8 387.6h.01M30.2 388.0h.01M30.8 386.9h.01M31.7 388.3h.01M28.8 388.4h.01M30.6 388.4h.01M28.8 388.4h.01M40.6 387.5h.01M41.8 382.6h.01M41.1 382.9h.01M30.4 387.4h.01M29.0 388.4h.01M33.7 384.9h.01M29.1 388.3h.01M39.9 382.3h.01M43.4 385.9h.01M29.2 388.2h.01M35.8 387.6h.01M29.1 388.1h.01M29.0 388.4h.01M29.4 388.3h.01M29.4 388.2h.01M29.4 388.1h.01M31.0 388.0h.01M28.8 388.4h.01M28.8 388.4h.01M28.8 388.4h.01M39.5 384.3h.01M29.8 387.9h.01M31.0 387.7h.01M28.8 388.4h.01M29.0 388.4h.01M30.1 388.2h.01M33.9 388.1h.01M32.2 388.0h.01M31.5 386.7h.01M36.0 383.6h.01M29.3 388.2h.01M35.4 388.4h.01M29.7 388.1h.01M29.1 388.4h.01M31.0 386.5h.01M36.8 382.0h.01M29.4 388.3h.01M29.3 388.0h.01M40.3 382.6h.01M30.9 387.6h.01M36.5 380.9h.01M33.9 383.7h.01M28.8 388.4h.01M39.1 383.8h.01M29.3 388.0h.01M29.4 387.8h.01M29.6 388.3h.01M37.8 379.1h.01M31.7 387.6h.01M36.1 382.8h.01M30.0 387.4h.01M32.2 387.9h.01M32.5 385.0h.01M29.1 388.1h.01M40.2 383.7h.01M36.9 384.6h.01M30.8 386.9h.01M34.5 385.0h.01M32.1 387.2h.01M37.8 381.6h.01M30.0 387.2h.01M32.3 386.4h.01M29.3 388.0h.01M29.5 388.1h.01M34.4 384.2h.01M28.9 388.4h.01M33.5 388.0h.01M30.0 387.6h.01M33.4 388.3h.01M30.9 387.3h.01M30.2 388.1h.01M38.1 386.9h.01M35.6 386.4h.01M29.3 388.2h.01M34.9 387.2h.01M38.3 380.6h.01M29.6 388.3h.01M29.2 388.4h.01M35.7 386.4h.01M32.3 385.3h.01M30.5 388.2h.01M29.7 388.3h.01M31.7 387.0h.01M29.7 388.3h.01M32.9 384.9h.01M29.9 387.8h.01M36.8 386.7h.01M34.6 388.5h.01M32.8 384.6h.01M28.8 388.4h.01M29.1 388.2h.01M34.3 386.6h.01M29.6 387.9h.01M39.3 382.2h.01M30.6 387.7h.01M38.3 382.7h.01M39.6 381.9h.01M39.8 380.6h.01M34.9 387.3h.01M28.9 388.4h.01M41.5 385.1h.01M29.9 388.2h.01M39.3 378.7h.01M30.0 387.6h.01M28.8 388.4h.01M28.8 388.4h.01M29.4 388.2h.01M30.8 386.8h.01M31.2 386.5h.01M30.1 388.0h.01M31.4 388.4h.01M38.9 378.8h.01M28.9 388.3h.01M38.2 385.1h.01M28.8 388.4h.01M28.9 388.4h.01M34.7 384.5h.01M28.8 388.4h.01M36.4 383.7h.01M28.9 388.4h.01M35.1 382.1h.01M29.2 388.4h.01M29.1 388.2h.01M29.0 388.3h.01M31.8 388.3h.01M38.2 384.2h.01M30.3 388.4h.01M32.8 388.3h.01M30.1 388.3h.01M32.9 384.4h.01M33.1 385.9h.01M35.2 387.5h.01M28.9 388.3h.01M29.9 387.5h.01M34.6 387.6h.01M29.0 388.2h.01M32.0 388.0h.01M32.1 387.9h.01M28.8 388.4h.01M29.2 388.3h.01M33.4 387.9h.01M30.8 386.5h.01M34.9 385.6h.01M39.5 379.7h.01M29.1 388.3h.01M32.5 385.1h.01M29.0 388.3h.01M28.9 388.3h.01M28.9 388.4h.01M30.9 387.8h.01M40.0 382.0h.01M33.0 387.0h.01M30.5 387.9h.01M28.8 388.4h.01M36.0 387.1h.01M34.0 384.6h.01M30.8 387.7h.01M29.5 388.3h.01M32.0 385.1h.01M32.4 387.3h.01M29.7 388.0h.01M31.0 387.7h.01M37.5 380.8h.01M31.4 387.9h.01M42.0 386.4h.01M31.8 388.2h.01M31.5 388.5h.01M28.8 388.4h.01M32.0 388.1h.01M29.8 388.0h.01M30.0 388.4h.01M28.9 388.4h.01M29.3 388.2h.01M35.2 385.6h.01M32.0 388.5h.01M39.0 382.8h.01M37.4 383.2h.01M29.3 388.1h.01M35.2 383.6h.01M40.5 383.8h.01M40.8 388.3h.01M32.5 387.4h.01M29.0 388.2h.01M28.8 388.4h.01M42.3 388.5h.01M31.1 388.1h.01M41.5 387.6h.01M38.6 384.4h.01M31.5 387.9h.01M33.4 387.6h.01M32.5 386.1h.01M29.8 387.9h.01M28.8 388.4h.01M34.9 387.8h.01M36.1 381.1h.01M41.7 386.2h.01M32.9 386.9h.01M33.3 385.9h.01M37.8 380.8h.01M40.1 385.8h.01M35.1 386.9h.01M34.3 387.9h.01M43.2 385.2h.01M30.4 387.5h.01M28.9 388.3h.01M33.6 385.2h.01M31.5 388.5h.01M43.6 387.5h.01M34.3 388.1h.01M28.9 388.3h.01M32.0 385.4h.01M29.5 388.0h.01M30.1 388.3h.01M29.2 388.4h.01M30.5 387.7h.01M29.0 388.3h.01M32.3 387.9h.01M29.8 387.8h.01M29.0 388.4h.01M30.5 387.9h.01M29.3 388.0h.01M36.3 386.5h.01M28.8 388.4h.01M37.5 379.8h.01M29.7 388.2h.01M29.3 388.2h.01M38.0 381.8h.01M30.5 387.3h.01M38.9 380.4h.01M34.9 387.7h.01M43.1 386.8h.01M30.5 387.2h.01M29.6 387.8h.01M32.2 388.3h.01M31.5 388.3h.01M32.3 385.6h.01M29.3 388.3h.01M31.9 387.0h.01M29.0 388.2h.01M31.2 387.5h.01M29.2 388.3h.01M32.5 387.3h.01M30.0 388.2h.01M40.7 383.3h.01M30.1 387.9h.01M32.3 388.4h.01M28.9 388.4h.01M33.6 386.6h.01M36.1 386.5h.01M28.8 388.4h.01M32.4 388.4h.01M32.5 386.5h.01M30.2 388.2h.01M30.4 387.4h.01M29.3 388.2h.01M31.4 387.0h.01M40.4 379.8h.01M33.8 383.7h.01M29.6 388.1h.01M30.7 387.2h.01M28.9 388.4h.01M35.0 385.2h.01M29.0 388.3h.01M34.3 387.6h.01M40.2 387.6h.01M32.8 384.7h.01M32.9 387.6h.01M30.0 387.6h.01M33.0 386.0h.01M35.2 382.7h.01M32.2 386.4h.01M32.5 385.2h.01M29.8 387.8h.01M32.9 388.2h.01M42.5 386.3h.01M40.3 386.6h.01M29.2 388.3h.01M29.9 387.9h.01M32.4 384.7h.01M29.9 388.3h.01M31.9 388.2h.01M29.9 387.9h.01M31.0 387.1h.01M33.8 384.5h.01M38.5 386.6h.01M29.4 388.4h.01M42.1 388.5h.01M38.1 384.3h.01M28.9 388.3h.01M28.8 388.4h.01M36.4 383.7h.01M39.8 385.1h.01M31.4 386.6h.01M29.1 388.3h.01M32.7 388.3h.01M29.1 388.3h.01M28.9 388.4h.01M34.8 387.1h.01M32.4 388.1h.01M40.1 387.5h.01M41.4 386.6h.01M39.0 379.2h.01M35.1 387.1h.01M42.8 388.1h.01M28.8 388.4h.01M28.9 388.4h.01M41.3 385.1h.01M29.8 387.7h.01M28.8 388.4h.01M30.5 387.6h.01M41.2 388.0h.01M41.6 381.1h.01M33.4 385.9h.01M31.7 388.2h.01M31.9 385.7h.01" stroke="#1a1a1a" stroke-width="0.7" stroke-linecap="round" fill="none" opacity="1"/>
<path d="M40.0 378.7h.01M33.8 383.0h.01M38.6 382.3h.01M41.1 382.0h.01M38.9 382.1h.01M29.1 386.6h.01M47.4 373.7h.01M44.7 380.1h.01M42.2 378.1h.01M37.4 381.9h.01M46.0 382.0h.01M34.2 378.5h.01M39.3 374.7h.01M31.9 375.4h.01M32.8 379.7h.01M38.8 385.0h.01M38.8 381.2h.01M38.1 380.3h.01M38.9 380.9h.01M48.3 380.3h.01M36.8 378.8h.01M35.0 385.9h.01M39.4 377.8h.01M36.9 381.1h.01M37.2 378.4h.01M33.5 385.2h.01M44.0 387.1h.01M33.8 380.1h.01M33.9 383.3h.01M32.5 382.8h.01M33.3 377.9h.01M35.2 378.6h.01M34.5 380.6h.01M41.1 378.8h.01M33.5 380.1h.01M39.8 380.1h.01M44.8 381.6h.01M35.7 380.1h.01" stroke="#444" stroke-width="0.56" stroke-linecap="round" fill="none" opacity="1"/>
<path d="M78 353.4H116.2V388.7H78Z" fill="none" stroke="#333" stroke-width="0.8"/>
<path d="M95 353.4V388.7M78 370.4H116.2" fill="none" stroke="#444" stroke-width="0.7"/>
<path d="M76.7 353.4H78" stroke="#222" stroke-width=".6"/>
<text transform="translate(76.4,354.4) scale(0.29)" font-size="10" text-anchor="end" class="s" style="font-weight:bold;fill:#111">10</text>
<path d="M78.0 388.7v1.3" stroke="#222" stroke-width=".6"/>
<text transform="translate(78.0,392.3) scale(0.29)" font-size="10" text-anchor="middle" class="s" style="font-weight:bold;fill:#111">10</text>
<path d="M76.7 362.22499999999997H78" stroke="#222" stroke-width=".6"/>
<text transform="translate(76.4,363.22499999999997) scale(0.29)" font-size="10" text-anchor="end" class="s" style="font-weight:bold;fill:#111">10</text>
<path d="M87.55 388.7v1.3" stroke="#222" stroke-width=".6"/>
<text transform="translate(87.55,392.3) scale(0.29)" font-size="10" text-anchor="middle" class="s" style="font-weight:bold;fill:#111">10</text>
<path d="M76.7 371.04999999999995H78" stroke="#222" stroke-width=".6"/>
<text transform="translate(76.4,372.04999999999995) scale(0.29)" font-size="10" text-anchor="end" class="s" style="font-weight:bold;fill:#111">10</text>
<path d="M97.1 388.7v1.3" stroke="#222" stroke-width=".6"/>
<text transform="translate(97.1,392.3) scale(0.29)" font-size="10" text-anchor="middle" class="s" style="font-weight:bold;fill:#111">10</text>
<path d="M76.7 379.875H78" stroke="#222" stroke-width=".6"/>
<text transform="translate(76.4,380.875) scale(0.29)" font-size="10" text-anchor="end" class="s" style="font-weight:bold;fill:#111">10</text>
<path d="M106.65 388.7v1.3" stroke="#222" stroke-width=".6"/>
<text transform="translate(106.65,392.3) scale(0.29)" font-size="10" text-anchor="middle" class="s" style="font-weight:bold;fill:#111">10</text>
<path d="M76.7 388.7H78" stroke="#222" stroke-width=".6"/>
<text transform="translate(76.4,389.7) scale(0.29)" font-size="10" text-anchor="end" class="s" style="font-weight:bold;fill:#111">10</text>
<path d="M116.2 388.7v1.3" stroke="#222" stroke-width=".6"/>
<text transform="translate(116.2,392.3) scale(0.29)" font-size="10" text-anchor="middle" class="s" style="font-weight:bold;fill:#111">10</text>
<text transform="translate(95.1,352.29999999999995) scale(0.21000000000000002)" font-size="10" text-anchor="middle" class="s" style="font-weight:bold;fill:#111">Specimen_001</text>
<text transform="translate(96.1,394.09999999999997) scale(0.21000000000000002)" font-size="10" text-anchor="middle" class="s" style="font-weight:bold;fill:#111">CD19</text>
<text transform="translate(74,369.04999999999995) rotate(-90) scale(0.21000000000000002)" font-size="10" text-anchor="middle" class="s" style="font-weight:bold;fill:#111">CD138</text>
<path d="M89.3 378.1h.01M78.7 388.0h.01M84.3 382.7h.01M95.1 373.4h.01M89.2 377.3h.01M91.9 375.1h.01M80.4 386.3h.01M85.2 380.6h.01M90.2 377.0h.01M80.5 386.7h.01M79.4 387.3h.01M82.0 384.8h.01M95.6 371.2h.01M84.3 382.6h.01M81.9 384.8h.01M94.8 371.3h.01M90.1 375.5h.01M95.1 371.6h.01M93.0 372.6h.01M86.4 378.4h.01M94.0 370.2h.01M78.7 388.0h.01M87.5 378.5h.01M81.8 384.7h.01M91.4 371.6h.01M90.7 376.7h.01M92.7 370.9h.01M82.6 384.3h.01M82.1 384.7h.01M83.1 383.1h.01M91.7 373.8h.01M86.0 379.4h.01M80.8 385.8h.01M90.8 375.8h.01M81.0 385.7h.01M79.8 386.8h.01M80.7 386.0h.01M83.2 383.2h.01M94.3 371.0h.01M91.3 375.9h.01M79.5 387.1h.01M83.0 382.6h.01M80.9 385.4h.01M94.3 370.7h.01M84.2 381.4h.01M81.5 385.1h.01M83.5 383.5h.01M91.8 375.0h.01M79.7 386.8h.01M79.0 387.7h.01M93.7 370.7h.01M81.5 385.4h.01M81.6 385.3h.01M78.7 387.9h.01M93.5 376.0h.01M88.0 378.3h.01M79.8 386.8h.01M82.6 383.5h.01M80.8 386.2h.01M79.1 387.7h.01M90.0 376.4h.01M80.8 385.6h.01M79.6 387.0h.01M94.3 373.2h.01M93.7 372.8h.01M89.0 377.5h.01M83.9 383.3h.01M85.5 381.9h.01M85.3 380.9h.01M89.3 374.7h.01M94.4 375.4h.01M81.8 384.8h.01M86.2 379.9h.01M93.6 372.3h.01M92.3 376.1h.01M86.1 380.4h.01M83.4 382.9h.01M86.3 378.7h.01M92.2 376.2h.01M85.5 381.1h.01M95.4 372.7h.01M94.7 370.8h.01M80.8 386.1h.01M83.3 383.1h.01M80.4 386.4h.01M81.3 385.8h.01M94.2 373.5h.01M87.0 378.8h.01M86.1 380.3h.01M82.6 384.1h.01M93.8 371.6h.01M85.8 379.6h.01M87.2 380.9h.01M87.3 378.1h.01M94.8 370.6h.01M79.1 387.5h.01M94.2 370.9h.01M88.4 377.4h.01M81.3 384.9h.01M81.2 385.6h.01M84.5 381.8h.01M93.4 370.2h.01M86.8 379.0h.01M80.7 386.2h.01M90.1 375.3h.01M84.4 382.2h.01M80.3 386.4h.01M93.0 373.3h.01M79.4 387.3h.01M86.7 379.4h.01M90.4 376.6h.01M80.5 385.7h.01M90.6 376.6h.01M85.9 380.9h.01M93.9 371.8h.01M86.4 378.6h.01M93.0 372.9h.01M93.1 374.2h.01M80.0 386.6h.01M79.3 387.4h.01M81.0 385.8h.01M93.5 372.1h.01M80.7 386.0h.01M89.0 377.0h.01M87.0 379.5h.01M82.2 385.1h.01M96.3 372.1h.01M82.5 384.7h.01M95.9 371.6h.01M81.7 384.9h.01M93.9 374.0h.01M95.2 375.3h.01M91.4 376.3h.01M92.3 374.1h.01M90.5 376.5h.01M79.9 386.7h.01M81.7 384.8h.01M89.7 376.4h.01M84.7 382.9h.01M81.8 384.6h.01M85.5 381.2h.01M92.3 374.0h.01M89.5 374.7h.01M83.4 383.4h.01M86.7 378.7h.01M92.9 374.2h.01M91.9 374.4h.01M82.0 384.6h.01M91.0 375.8h.01M93.6 371.7h.01M85.6 381.8h.01M83.0 383.4h.01M84.0 381.8h.01M90.0 376.1h.01M88.4 378.8h.01M91.9 372.5h.01M88.8 377.3h.01M94.4 370.2h.01M79.1 387.6h.01M91.3 375.8h.01M82.9 383.5h.01M78.8 387.9h.01M89.0 378.7h.01M89.1 377.6h.01M88.3 377.3h.01M79.5 387.1h.01M79.2 387.3h.01M92.8 370.5h.01M96.5 372.3h.01M86.9 379.6h.01M87.5 380.0h.01M84.3 380.4h.01M81.6 385.3h.01M92.5 375.1h.01M94.1 372.5h.01M87.1 379.6h.01M80.4 386.3h.01M90.4 378.0h.01M86.0 380.8h.01M91.9 372.3h.01M85.3 379.5h.01M84.2 381.3h.01M84.5 381.7h.01M80.6 386.2h.01M88.7 377.0h.01M91.4 376.2h.01M86.5 380.0h.01M87.2 378.8h.01M88.9 376.7h.01M84.3 382.9h.01M91.9 376.0h.01M80.4 386.4h.01M88.8 378.0h.01M90.9 373.3h.01M93.4 375.7h.01M83.1 383.7h.01M93.1 373.7h.01M87.3 379.2h.01M78.8 387.9h.01M91.2 374.3h.01M91.1 374.6h.01M94.6 370.7h.01M80.9 385.7h.01M92.6 372.9h.01M91.3 376.6h.01M89.2 375.3h.01M79.1 387.6h.01M85.5 380.4h.01M86.9 379.7h.01M79.5 387.3h.01M92.9 373.9h.01M86.6 380.2h.01M81.3 385.3h.01M91.7 376.4h.01M80.8 385.7h.01M88.9 378.1h.01M80.8 385.1h.01M79.6 387.1h.01M89.4 377.5h.01M89.2 376.6h.01M94.3 371.2h.01M80.4 385.9h.01M79.3 387.3h.01M90.3 375.7h.01M93.6 372.6h.01M79.2 387.5h.01M84.8 381.7h.01M92.1 374.5h.01M79.9 386.6h.01M89.3 377.5h.01M80.4 386.3h.01M82.3 383.9h.01M84.4 380.0h.01M88.1 380.1h.01M80.4 386.8h.01M88.2 378.9h.01M84.8 382.5h.01M87.1 379.2h.01M87.3 379.4h.01M81.8 384.3h.01M84.7 382.4h.01M79.4 387.3h.01M95.6 371.5h.01M80.8 386.0h.01M78.8 387.9h.01M87.2 378.7h.01M94.5 372.1h.01M82.8 383.7h.01M90.2 377.7h.01M81.8 384.7h.01M85.1 381.8h.01M88.8 379.3h.01M82.8 384.3h.01M80.0 386.6h.01M78.7 388.0h.01M86.2 381.1h.01M87.6 379.4h.01M87.7 378.4h.01M84.5 381.5h.01M86.6 381.5h.01M90.6 375.6h.01M79.2 387.4h.01M81.3 385.1h.01M80.8 385.8h.01M93.3 371.4h.01M79.5 387.2h.01M83.9 382.1h.01M93.1 372.6h.01M89.0 378.6h.01M92.8 374.4h.01M85.8 381.2h.01M91.3 374.3h.01M79.3 387.3h.01M89.2 376.4h.01M85.3 380.2h.01M88.2 378.7h.01M79.1 387.6h.01M88.7 379.9h.01M83.3 382.5h.01M86.5 381.4h.01M85.6 382.2h.01M81.7 384.6h.01M90.3 378.0h.01M91.9 374.7h.01M83.8 382.2h.01M92.1 372.6h.01M80.4 386.3h.01M92.9 373.7h.01M93.1 372.8h.01M95.7 372.4h.01M84.4 382.0h.01M93.9 372.5h.01M91.3 374.2h.01M93.4 375.1h.01M89.5 377.2h.01M92.0 372.4h.01M85.6 380.1h.01M81.5 385.5h.01M81.7 384.6h.01M80.2 386.6h.01M81.4 386.5h.01M78.9 388.1h.01M85.1 386.6h.01M80.3 388.0h.01M85.7 384.4h.01M85.6 380.9h.01M82.7 387.6h.01M82.2 386.3h.01M80.2 387.3h.01M84.6 387.1h.01M83.5 384.0h.01M90.4 381.4h.01M82.9 387.3h.01M83.2 384.5h.01M82.0 388.2h.01M79.0 387.8h.01M92.3 383.9h.01M82.3 386.8h.01M87.9 383.4h.01M89.7 384.1h.01M80.3 387.0h.01M79.5 387.6h.01M81.6 388.1h.01M79.6 388.1h.01M89.5 379.4h.01M78.9 388.1h.01M81.1 387.4h.01M87.8 387.3h.01M82.4 387.7h.01M84.2 387.0h.01M81.7 387.9h.01M78.6 388.1h.01M78.6 388.1h.01M83.5 384.3h.01M90.2 386.1h.01M81.7 387.8h.01M82.7 385.5h.01M78.6 388.1h.01M91.7 386.5h.01M79.4 387.4h.01M84.1 388.1h.01M90.1 386.6h.01M85.0 382.3h.01M85.6 383.1h.01M80.0 387.0h.01M78.6 388.1h.01M80.7 386.8h.01M84.8 381.9h.01M85.1 385.8h.01M83.2 385.8h.01M79.2 388.1h.01M85.3 386.9h.01M82.6 384.5h.01M83.1 385.0h.01M79.3 388.0h.01M85.8 384.6h.01M84.9 386.0h.01M79.7 387.8h.01M80.7 387.9h.01M78.7 388.0h.01M78.6 388.1h.01M79.8 387.3h.01M79.3 387.5h.01M85.2 388.2h.01M87.8 385.4h.01M80.7 386.9h.01M84.2 384.9h.01M79.0 388.0h.01M82.4 386.0h.01M78.9 388.1h.01M78.7 388.1h.01M80.4 387.3h.01M86.3 386.4h.01M78.6 388.1h.01M91.7 381.5h.01M91.4 381.5h.01M79.1 388.0h.01M79.2 388.0h.01M79.3 388.0h.01M87.3 384.6h.01M78.6 388.1h.01M83.1 384.9h.01M78.6 388.1h.01M78.7 388.0h.01M79.7 387.9h.01M89.2 380.3h.01M86.3 381.2h.01M80.8 386.3h.01M79.2 388.1h.01M78.7 388.1h.01M79.8 388.0h.01M79.6 388.1h.01M79.1 387.7h.01M88.2 384.1h.01M86.0 388.3h.01M78.6 388.1h.01M85.4 382.2h.01M92.2 387.4h.01M83.5 385.7h.01M78.6 388.1h.01M84.6 384.4h.01M78.6 388.1h.01M79.6 387.6h.01M89.1 385.4h.01M78.7 388.0h.01M84.8 384.3h.01M90.7 382.4h.01M84.0 386.0h.01M79.7 388.1h.01M80.9 387.6h.01M78.7 388.1h.01M78.6 388.1h.01M83.1 387.3h.01M79.9 388.1h.01M84.6 383.6h.01M78.9 388.0h.01M87.7 382.0h.01M80.8 388.0h.01M84.7 385.4h.01M88.2 386.8h.01M86.7 383.9h.01M83.3 383.7h.01M79.5 387.6h.01M80.3 387.8h.01M82.4 385.2h.01M90.2 385.8h.01M91.7 382.6h.01M85.2 384.4h.01M92.7 384.4h.01M84.4 385.9h.01M82.0 387.0h.01M80.2 387.9h.01M86.0 385.7h.01M79.0 388.1h.01M81.1 386.7h.01M78.6 388.1h.01M88.0 384.8h.01M79.8 387.3h.01M80.4 387.3h.01M78.7 388.1h.01M89.5 386.4h.01M79.5 388.0h.01M84.7 385.3h.01M79.6 387.6h.01M78.6 388.1h.01M80.0 387.1h.01M79.1 388.0h.01M78.8 388.0h.01M78.7 388.1h.01M82.2 387.6h.01M78.7 388.1h.01M78.6 388.1h.01M79.6 387.8h.01M79.6 388.1h.01M84.8 385.9h.01M80.3 387.8h.01M82.7 384.5h.01M79.1 387.9h.01M88.9 380.7h.01M88.9 386.4h.01M81.4 387.3h.01M79.3 388.1h.01M79.0 388.0h.01M89.1 380.0h.01M87.5 386.0h.01M83.0 387.1h.01M90.6 386.6h.01M82.9 386.3h.01M81.5 386.0h.01M85.1 385.5h.01M82.7 386.5h.01M78.8 388.0h.01M92.4 386.0h.01M78.6 388.1h.01M83.1 387.5h.01M92.0 382.5h.01M78.6 388.1h.01M90.1 379.5h.01M89.7 380.6h.01M83.8 386.6h.01M86.3 383.5h.01M86.7 382.9h.01M87.3 385.9h.01M90.8 382.0h.01M83.6 386.9h.01M84.9 382.9h.01M78.8 388.0h.01M79.8 388.0h.01M78.6 388.1h.01M78.7 388.0h.01M79.5 388.0h.01M85.1 385.1h.01M79.0 387.7h.01M89.2 387.7h.01M89.7 382.6h.01M78.7 388.0h.01M79.1 388.0h.01M79.5 387.8h.01M87.6 380.7h.01M93.4 386.3h.01M79.9 386.8h.01M88.7 379.6h.01M79.9 387.2h.01M85.9 384.2h.01M81.4 387.4h.01M78.9 388.1h.01M79.5 387.4h.01M80.6 386.9h.01M79.4 387.6h.01M84.7 387.9h.01M79.0 388.0h.01M81.6 387.0h.01M83.7 383.7h.01M80.9 387.3h.01M78.7 388.0h.01M83.4 387.1h.01M82.1 384.8h.01M92.3 386.2h.01M79.0 387.8h.01M78.6 388.1h.01M79.0 387.8h.01M84.3 383.7h.01M82.1 385.7h.01M78.6 388.1h.01M78.6 388.1h.01M86.4 384.8h.01M81.0 387.9h.01M78.8 388.0h.01M83.6 387.4h.01M78.8 388.1h.01M91.3 386.2h.01M78.7 388.0h.01M80.5 387.2h.01M79.3 388.1h.01M78.6 388.1h.01M79.3 387.4h.01M91.4 384.7h.01M78.8 388.1h.01M79.7 387.7h.01M83.0 387.1h.01M80.2 386.6h.01M80.3 388.1h.01M80.4 386.6h.01M79.3 388.1h.01M80.1 387.9h.01M84.6 386.7h.01M78.6 388.1h.01M88.2 387.3h.01M85.4 382.4h.01M85.2 387.3h.01M84.9 387.9h.01M88.6 386.6h.01M80.8 386.4h.01M89.6 381.0h.01M82.9 384.4h.01M80.0 387.4h.01M78.8 388.0h.01M78.7 388.1h.01M84.7 387.8h.01M79.0 388.0h.01M79.3 387.4h.01M81.4 386.8h.01M93.2 386.3h.01M88.1 381.6h.01M90.4 385.5h.01M88.3 379.4h.01M78.8 388.1h.01M78.7 388.1h.01M78.6 388.1h.01M80.0 387.6h.01M78.6 388.1h.01M90.0 380.8h.01M80.6 387.7h.01M79.5 387.5h.01M90.1 378.9h.01M81.4 387.7h.01M82.7 387.7h.01M92.0 384.0h.01M90.9 380.2h.01M86.4 382.3h.01M84.4 386.4h.01M80.1 388.0h.01M89.1 378.5h.01M81.7 387.8h.01M83.6 386.5h.01M79.3 387.8h.01M80.6 386.4h.01M84.5 383.9h.01M81.0 385.7h.01M86.2 384.4h.01M78.6 388.1h.01M83.9 384.1h.01M86.2 383.0h.01M89.7 386.6h.01M90.1 381.8h.01M88.4 383.6h.01M78.9 388.1h.01M84.2 385.6h.01M78.6 388.1h.01M78.6 388.1h.01M79.1 387.7h.01M82.6 385.6h.01M79.9 387.9h.01M82.3 387.5h.01M82.4 387.3h.01M78.7 388.1h.01M79.3 387.7h.01M80.1 386.7h.01M85.7 386.8h.01M79.9 387.0h.01M79.7 387.4h.01M79.3 387.3h.01M78.6 388.1h.01M83.4 385.9h.01M80.7 387.7h.01M80.1 387.6h.01M82.5 387.6h.01M78.6 388.1h.01M79.2 387.6h.01M79.1 387.9h.01M80.4 387.1h.01M80.5 387.2h.01M78.7 388.1h.01M80.2 386.5h.01M88.6 385.6h.01M87.3 386.2h.01M78.7 388.1h.01M79.4 387.7h.01M93.0 386.2h.01M80.7 386.2h.01M83.5 384.4h.01M78.8 388.1h.01M78.9 387.9h.01M82.5 385.4h.01M87.0 386.8h.01M80.7 386.0h.01M80.4 386.3h.01M81.3 388.2h.01M90.5 384.9h.01M91.1 382.8h.01" stroke="#1a1a1a" stroke-width="0.7" stroke-linecap="round" fill="none" opacity="1"/>
<path d="M92.2 381.3h.01M88.1 381.2h.01M86.7 382.6h.01M93.3 382.2h.01M86.2 387.8h.01M88.2 380.8h.01M84.4 377.2h.01M85.8 386.0h.01M93.0 377.9h.01M91.6 379.8h.01M89.9 383.2h.01M88.4 385.9h.01M88.9 385.9h.01M99.0 376.1h.01M93.5 379.1h.01M98.8 381.2h.01M88.2 382.4h.01M96.2 373.8h.01M95.2 378.3h.01M90.3 379.3h.01M88.6 383.9h.01M93.0 377.6h.01M86.4 383.9h.01M93.5 375.8h.01M89.9 379.9h.01M85.6 383.6h.01M88.1 383.0h.01M80.5 385.8h.01M91.7 377.4h.01M98.6 373.2h.01M92.1 381.1h.01M88.7 382.1h.01M95.1 372.2h.01M91.3 382.8h.01M87.8 382.7h.01M86.5 380.3h.01M89.7 377.7h.01M84.2 384.0h.01M89.1 376.1h.01M89.5 377.6h.01M91.1 376.7h.01M82.2 382.4h.01M83.0 386.6h.01M96.9 381.1h.01M88.9 383.0h.01" stroke="#444" stroke-width="0.56" stroke-linecap="round" fill="none" opacity="1"/>
<path d="M103.6 378.3h.01M101.6 379.8h.01M101.8 380.5h.01M101.5 380.9h.01M101.0 381.3h.01M102.4 380.7h.01M100.5 382.7h.01M100.6 382.9h.01M102.8 379.9h.01M102.3 380.2h.01M102.0 380.3h.01M102.2 380.5h.01M98.0 386.0h.01M102.3 380.9h.01M101.9 379.6h.01M105.6 377.1h.01M101.4 380.4h.01M100.0 382.8h.01M102.1 379.4h.01M103.4 379.8h.01M101.7 380.1h.01M102.7 379.5h.01M101.8 382.7h.01M100.3 382.6h.01M102.0 380.3h.01M102.7 379.9h.01M99.4 381.4h.01M101.1 381.6h.01M102.9 378.7h.01M103.0 380.1h.01" stroke="#111" stroke-width="0.66" stroke-linecap="round" fill="none" opacity="1"/>
<text x="113.8" y="360.8" font-size="7.6" text-anchor="end">0%</text>
<text x="115.8" y="376" font-size="7.6" text-anchor="end">11%</text>
<path d="M133.5 307.2H171.2V341.7H133.5Z" fill="none" stroke="#333" stroke-width="0.8"/>
<path d="M144.5 307.2V341.7M133.5 332.8H171.2" fill="none" stroke="#444" stroke-width="0.7"/>
<path d="M132.2 307.2H133.5" stroke="#222" stroke-width=".6"/>
<text transform="translate(131.9,308.2) scale(0.29)" font-size="10" text-anchor="end" class="s" style="font-weight:bold;fill:#111">10</text>
<path d="M133.5 341.7v1.3" stroke="#222" stroke-width=".6"/>
<text transform="translate(133.5,345.3) scale(0.29)" font-size="10" text-anchor="middle" class="s" style="font-weight:bold;fill:#111">10</text>
<path d="M132.2 315.825H133.5" stroke="#222" stroke-width=".6"/>
<text transform="translate(131.9,316.825) scale(0.29)" font-size="10" text-anchor="end" class="s" style="font-weight:bold;fill:#111">10</text>
<path d="M142.925 341.7v1.3" stroke="#222" stroke-width=".6"/>
<text transform="translate(142.925,345.3) scale(0.29)" font-size="10" text-anchor="middle" class="s" style="font-weight:bold;fill:#111">10</text>
<path d="M132.2 324.45H133.5" stroke="#222" stroke-width=".6"/>
<text transform="translate(131.9,325.45) scale(0.29)" font-size="10" text-anchor="end" class="s" style="font-weight:bold;fill:#111">10</text>
<path d="M152.35 341.7v1.3" stroke="#222" stroke-width=".6"/>
<text transform="translate(152.35,345.3) scale(0.29)" font-size="10" text-anchor="middle" class="s" style="font-weight:bold;fill:#111">10</text>
<path d="M132.2 333.075H133.5" stroke="#222" stroke-width=".6"/>
<text transform="translate(131.9,334.075) scale(0.29)" font-size="10" text-anchor="end" class="s" style="font-weight:bold;fill:#111">10</text>
<path d="M161.77499999999998 341.7v1.3" stroke="#222" stroke-width=".6"/>
<text transform="translate(161.77499999999998,345.3) scale(0.29)" font-size="10" text-anchor="middle" class="s" style="font-weight:bold;fill:#111">10</text>
<path d="M132.2 341.7H133.5" stroke="#222" stroke-width=".6"/>
<text transform="translate(131.9,342.7) scale(0.29)" font-size="10" text-anchor="end" class="s" style="font-weight:bold;fill:#111">10</text>
<path d="M171.2 341.7v1.3" stroke="#222" stroke-width=".6"/>
<text transform="translate(171.2,345.3) scale(0.29)" font-size="10" text-anchor="middle" class="s" style="font-weight:bold;fill:#111">10</text>
<text transform="translate(150.35,306.09999999999997) scale(0.21000000000000002)" font-size="10" text-anchor="middle" class="s" style="font-weight:bold;fill:#111">Specimen_001</text>
<text transform="translate(151.35,347.09999999999997) scale(0.21000000000000002)" font-size="10" text-anchor="middle" class="s" style="font-weight:bold;fill:#111">CD19</text>
<text transform="translate(129.5,322.45) rotate(-90) scale(0.21000000000000002)" font-size="10" text-anchor="middle" class="s" style="font-weight:bold;fill:#111">CD138</text>
<path d="M141.2 337.1h.01M136.5 339.3h.01M139.1 336.9h.01M139.2 338.3h.01M133.9 340.9h.01M138.3 336.6h.01M140.5 335.9h.01M138.5 338.8h.01M136.2 338.1h.01M139.7 335.8h.01M133.9 340.0h.01M141.7 334.9h.01M138.1 337.7h.01M136.2 339.6h.01M137.3 338.6h.01M139.6 338.0h.01M136.9 339.1h.01M137.1 338.3h.01M139.2 337.7h.01M135.9 340.3h.01M135.8 338.6h.01M139.1 336.5h.01M139.9 337.5h.01M138.8 338.2h.01M139.0 338.6h.01M135.5 339.7h.01M139.5 339.8h.01M135.3 340.1h.01M141.6 340.2h.01M139.9 336.6h.01M141.4 338.4h.01M138.3 340.0h.01M136.4 338.7h.01M137.4 339.0h.01M141.6 337.3h.01M137.0 338.2h.01M139.6 337.6h.01M138.8 338.4h.01M137.2 338.2h.01M136.6 337.2h.01M138.4 338.3h.01M138.1 338.5h.01M137.7 338.9h.01M140.4 338.3h.01M136.3 339.6h.01M137.4 338.7h.01M140.8 337.5h.01M136.7 338.2h.01M137.1 338.9h.01M136.2 338.6h.01M140.3 337.2h.01M136.4 339.1h.01M136.6 338.5h.01M137.8 338.0h.01M139.2 338.7h.01M138.5 337.8h.01M138.9 336.0h.01M137.7 339.1h.01M136.7 339.4h.01M138.3 339.6h.01M136.0 339.3h.01M134.3 339.7h.01M138.4 339.2h.01M138.7 338.3h.01M137.1 338.5h.01M138.1 338.8h.01M139.8 336.4h.01M134.7 339.7h.01M138.9 338.7h.01M138.2 338.5h.01M137.8 339.5h.01M139.1 336.0h.01M138.7 337.8h.01M137.9 339.5h.01M139.8 339.3h.01M137.5 338.8h.01M139.3 337.0h.01M138.5 338.2h.01M138.7 340.1h.01M138.3 341.0h.01M137.1 337.8h.01M139.5 338.0h.01M138.6 339.1h.01M137.8 338.9h.01M135.9 339.6h.01M139.6 337.2h.01M137.5 336.6h.01M139.0 335.3h.01M139.4 337.8h.01M137.0 340.3h.01M136.6 338.6h.01M138.2 338.1h.01M136.9 338.5h.01M138.0 336.4h.01M140.0 336.7h.01M136.7 338.1h.01M136.2 338.7h.01M137.0 339.3h.01M139.9 339.4h.01M136.4 338.4h.01M137.9 338.3h.01M137.5 337.0h.01M137.9 339.0h.01M137.7 339.0h.01M139.5 335.9h.01M135.2 340.2h.01M138.3 336.7h.01M138.1 339.4h.01M138.1 338.2h.01M136.2 339.5h.01M138.4 338.4h.01M135.9 338.0h.01M137.2 338.9h.01M136.2 337.9h.01M140.5 338.9h.01M139.1 336.9h.01M138.3 338.4h.01M141.6 336.6h.01M139.1 339.9h.01M139.0 338.2h.01M137.3 339.3h.01M138.9 339.2h.01M138.1 339.3h.01M135.7 336.9h.01M137.7 338.4h.01M139.1 337.9h.01M140.0 337.1h.01M138.0 336.0h.01M138.0 339.5h.01M136.2 340.0h.01M136.4 337.8h.01M137.9 339.0h.01M139.8 336.9h.01M137.8 338.0h.01M137.8 338.3h.01M137.2 338.6h.01M138.0 338.1h.01M137.6 338.8h.01M137.5 339.0h.01M136.5 340.0h.01M137.4 339.7h.01M139.7 337.8h.01M140.7 336.5h.01M138.0 337.9h.01M137.2 338.8h.01M138.5 338.4h.01M138.9 338.6h.01M139.2 336.7h.01M138.5 336.9h.01M137.0 338.1h.01M136.6 339.5h.01M137.1 338.9h.01M138.0 340.2h.01M136.0 337.9h.01M139.5 335.8h.01M136.4 339.9h.01M137.0 338.8h.01M139.4 338.9h.01M137.3 338.7h.01M138.1 336.8h.01M140.2 336.0h.01M139.2 339.8h.01M135.5 339.5h.01M135.9 338.7h.01M141.4 337.5h.01M135.3 341.0h.01M138.6 338.1h.01M137.0 338.5h.01M139.4 337.9h.01M138.6 338.9h.01M139.2 339.6h.01M138.0 337.8h.01M138.4 338.3h.01M139.2 336.7h.01M136.3 337.9h.01M138.9 336.5h.01M136.5 339.0h.01M135.1 340.7h.01M138.0 339.8h.01M139.8 338.8h.01M140.9 336.9h.01M138.6 338.1h.01M136.8 338.4h.01M139.1 337.2h.01M136.4 338.4h.01M135.4 341.0h.01M137.3 337.8h.01M138.6 337.2h.01M140.3 336.1h.01M137.1 339.5h.01M135.6 340.4h.01M136.7 338.5h.01M134.7 338.2h.01M138.0 338.4h.01M138.7 338.9h.01M136.2 340.6h.01M137.3 338.8h.01M138.6 338.8h.01M137.1 339.5h.01M139.5 337.6h.01M135.8 341.1h.01M138.6 337.8h.01M136.5 340.2h.01M136.9 339.0h.01M137.1 338.3h.01M140.3 336.9h.01M135.5 339.5h.01M137.4 338.9h.01M137.4 338.8h.01M139.2 337.6h.01M137.8 338.1h.01M138.2 338.0h.01M139.1 339.3h.01M139.7 338.4h.01M138.0 339.3h.01M136.8 339.8h.01M137.3 337.6h.01M137.6 336.3h.01M140.5 336.0h.01M139.4 337.0h.01M137.7 339.9h.01M134.8 341.2h.01M138.0 338.5h.01M135.9 338.2h.01M139.2 338.6h.01M139.3 338.5h.01M140.8 337.4h.01M136.2 339.6h.01M135.9 339.1h.01M136.8 339.2h.01M135.5 340.4h.01M137.8 337.2h.01M139.4 337.8h.01M140.5 337.7h.01M137.0 338.8h.01M136.5 339.1h.01M139.3 338.2h.01M135.6 338.5h.01M139.4 338.1h.01M136.8 339.8h.01M136.3 338.0h.01M135.4 339.9h.01M139.6 337.8h.01M137.5 337.8h.01M139.1 337.0h.01M138.4 338.6h.01M137.1 338.8h.01M136.5 340.1h.01M138.7 338.9h.01M139.1 338.5h.01M139.3 340.0h.01M141.8 337.0h.01M139.5 336.7h.01M136.3 340.5h.01M140.1 337.3h.01M138.3 337.2h.01M138.7 337.2h.01M139.8 337.0h.01M140.5 339.0h.01M136.6 340.1h.01M138.4 337.4h.01M137.5 339.2h.01M139.8 338.1h.01M138.5 335.5h.01M140.5 335.5h.01M140.6 336.7h.01M135.8 340.6h.01M136.7 339.0h.01M136.0 340.0h.01M137.8 339.9h.01M138.3 339.8h.01M139.0 337.6h.01M138.2 338.8h.01M136.8 339.8h.01M136.9 338.0h.01M137.2 338.9h.01M136.3 338.6h.01M137.7 338.4h.01M138.5 338.2h.01M139.1 337.8h.01M137.0 340.4h.01M141.3 336.8h.01M137.3 339.9h.01M135.8 337.6h.01M135.2 339.3h.01M137.6 339.1h.01M137.9 337.4h.01M138.3 338.6h.01M137.3 339.2h.01M138.1 337.0h.01M140.6 337.4h.01M137.3 338.3h.01M137.3 339.0h.01M139.2 338.0h.01M139.1 338.1h.01M139.2 336.9h.01M136.7 339.0h.01M136.5 340.4h.01M138.2 338.2h.01M138.8 336.2h.01M139.9 336.4h.01M136.3 340.4h.01M138.3 337.8h.01M134.8 340.0h.01M137.3 339.0h.01M137.8 338.7h.01M136.1 339.4h.01M137.1 338.6h.01M137.2 338.4h.01M138.2 338.3h.01M138.3 338.0h.01M137.6 338.7h.01M140.6 337.0h.01M139.8 338.6h.01M136.1 340.3h.01M134.4 340.1h.01M138.8 340.3h.01M137.7 337.7h.01M141.1 337.7h.01M138.4 338.6h.01M137.2 339.3h.01M136.9 339.1h.01M137.0 337.7h.01M137.8 336.8h.01M136.7 340.6h.01M138.3 339.1h.01M136.2 339.5h.01M140.6 336.6h.01M138.3 338.6h.01M135.1 340.3h.01M136.1 339.6h.01M137.8 338.3h.01M137.7 338.3h.01M137.2 338.9h.01M137.5 338.5h.01M136.7 340.2h.01M137.8 336.7h.01M137.5 338.2h.01M142.0 336.6h.01M138.2 338.2h.01M139.3 337.6h.01M137.5 340.1h.01M136.2 339.2h.01M138.6 338.6h.01M137.0 338.4h.01M138.4 339.3h.01M137.0 339.3h.01M136.7 337.8h.01M136.2 338.9h.01M138.9 339.3h.01M138.9 337.5h.01M138.4 338.0h.01M139.1 338.9h.01M139.3 338.3h.01M138.7 336.3h.01M141.5 336.8h.01M136.7 340.4h.01M134.7 339.2h.01M140.3 336.6h.01M136.3 340.4h.01M136.5 337.9h.01M134.8 339.5h.01M138.0 340.0h.01M137.9 336.6h.01M138.4 339.0h.01M137.6 339.1h.01M139.8 338.1h.01M137.9 339.3h.01M138.4 337.7h.01M138.2 337.8h.01M135.3 340.3h.01M136.1 339.4h.01M134.9 339.8h.01M136.4 337.6h.01M136.4 339.2h.01M139.3 339.2h.01M137.9 339.3h.01M138.9 338.3h.01M138.5 338.9h.01M136.9 340.5h.01M137.1 338.0h.01M136.8 338.0h.01M135.4 340.1h.01M139.7 337.7h.01M138.8 338.5h.01M140.6 338.3h.01M137.1 339.2h.01M138.7 337.9h.01M139.2 338.8h.01M136.5 337.8h.01M137.9 339.0h.01M139.2 337.7h.01M138.0 338.1h.01M139.8 337.1h.01M137.0 340.1h.01M138.7 338.2h.01M137.9 340.1h.01M137.2 339.6h.01M137.3 339.1h.01M134.7 339.8h.01M137.5 338.6h.01M139.3 336.8h.01M138.6 338.5h.01M138.8 339.1h.01M138.0 339.0h.01M138.6 340.1h.01M138.2 338.6h.01M139.7 337.5h.01M137.6 337.0h.01M137.0 339.1h.01M140.1 337.4h.01M135.8 338.8h.01M139.3 337.4h.01M136.3 339.1h.01M135.1 339.8h.01M136.1 339.7h.01M138.6 337.9h.01M139.8 338.5h.01M138.3 339.1h.01M139.4 338.4h.01M140.6 338.2h.01M138.4 338.3h.01M134.8 338.2h.01M140.2 338.4h.01M136.4 338.9h.01M138.7 338.1h.01M137.3 338.4h.01M136.9 339.5h.01M139.8 337.4h.01M138.1 339.5h.01M140.1 336.3h.01M139.6 337.7h.01M137.7 337.9h.01M139.6 337.8h.01M138.7 339.1h.01M137.8 338.0h.01M136.3 339.9h.01M137.7 340.0h.01M138.3 337.8h.01M135.0 340.3h.01M138.4 337.5h.01M138.0 338.9h.01M138.4 339.3h.01M138.3 338.5h.01M138.1 339.7h.01M139.2 337.4h.01M136.6 339.2h.01M137.3 336.9h.01M139.6 338.3h.01M138.1 337.6h.01M138.0 340.2h.01M139.1 338.4h.01M135.7 338.5h.01M138.8 336.9h.01M137.8 337.8h.01M140.5 336.7h.01M137.7 337.2h.01M136.4 338.4h.01M137.8 337.2h.01M137.1 339.7h.01M140.8 336.4h.01M138.7 336.6h.01M137.5 339.0h.01M138.7 338.0h.01M137.8 338.1h.01M138.1 338.7h.01M139.2 339.0h.01M136.5 338.9h.01M140.0 337.5h.01M137.8 337.2h.01M138.7 339.1h.01M138.0 337.7h.01M139.0 338.5h.01M136.2 337.7h.01M137.1 339.8h.01M136.2 338.9h.01M137.7 338.2h.01M138.5 338.5h.01M135.4 340.5h.01M139.4 339.2h.01M135.6 338.9h.01M138.9 337.1h.01M137.5 340.6h.01M140.2 337.0h.01M138.8 337.4h.01M136.8 339.7h.01M142.0 336.9h.01M138.4 336.9h.01M139.7 338.1h.01M136.1 338.9h.01M138.3 338.9h.01M135.2 340.0h.01M140.1 338.3h.01" stroke="#111" stroke-width="0.9" stroke-linecap="round" fill="none" opacity="1"/>
<path d="M138.5 337.9h.01M143.4 334.3h.01M138.3 338.8h.01M139.9 336.8h.01M138.4 335.7h.01M140.2 336.4h.01M140.7 335.7h.01M136.8 336.6h.01M136.8 337.6h.01M141.7 333.9h.01M141.1 335.9h.01M141.2 334.8h.01M142.8 335.4h.01M138.4 339.1h.01M143.1 334.8h.01M136.9 338.5h.01M139.9 337.6h.01M138.3 338.7h.01M135.9 340.1h.01M137.0 338.1h.01M138.0 338.6h.01M138.5 338.1h.01M139.3 338.2h.01M143.8 332.2h.01M138.2 337.6h.01M140.5 338.0h.01M143.5 335.6h.01M137.6 337.9h.01M139.3 338.1h.01M139.1 337.8h.01M142.2 334.5h.01M140.1 336.7h.01M138.4 338.0h.01M137.9 336.0h.01M142.6 335.5h.01M136.3 339.1h.01M137.6 337.3h.01M142.0 336.3h.01M138.7 337.2h.01M137.4 339.9h.01M138.6 338.6h.01M138.7 336.7h.01M140.2 337.1h.01M141.6 336.4h.01M142.8 333.8h.01M138.3 337.8h.01M134.0 338.4h.01M139.3 336.0h.01M139.3 336.7h.01M141.4 335.5h.01M142.1 334.5h.01M140.7 334.9h.01M134.1 336.9h.01M136.4 338.1h.01M142.6 334.5h.01M138.6 336.8h.01M140.2 337.2h.01M139.7 337.5h.01M137.4 337.6h.01M141.4 337.2h.01M139.1 336.3h.01M138.7 336.8h.01M137.4 337.7h.01M139.6 338.7h.01M140.3 338.1h.01M139.8 336.6h.01M143.4 335.0h.01M140.4 337.2h.01" stroke="#111" stroke-width="0.66" stroke-linecap="round" fill="none" opacity="1"/>
<path d="M185.3 307.8H224.8V341.7H185.3Z" fill="none" stroke="#333" stroke-width="0.8"/>
<path d="M196.8 307.8V341.7M185.3 333.2H224.8" fill="none" stroke="#444" stroke-width="0.7"/>
<path d="M184.0 307.8H185.3" stroke="#222" stroke-width=".6"/>
<text transform="translate(183.70000000000002,308.8) scale(0.29)" font-size="10" text-anchor="end" class="s" style="font-weight:bold;fill:#111">10</text>
<path d="M185.3 341.7v1.3" stroke="#222" stroke-width=".6"/>
<text transform="translate(185.3,345.3) scale(0.29)" font-size="10" text-anchor="middle" class="s" style="font-weight:bold;fill:#111">10</text>
<path d="M184.0 316.275H185.3" stroke="#222" stroke-width=".6"/>
<text transform="translate(183.70000000000002,317.275) scale(0.29)" font-size="10" text-anchor="end" class="s" style="font-weight:bold;fill:#111">10</text>
<path d="M195.175 341.7v1.3" stroke="#222" stroke-width=".6"/>
<text transform="translate(195.175,345.3) scale(0.29)" font-size="10" text-anchor="middle" class="s" style="font-weight:bold;fill:#111">10</text>
<path d="M184.0 324.75H185.3" stroke="#222" stroke-width=".6"/>
<text transform="translate(183.70000000000002,325.75) scale(0.29)" font-size="10" text-anchor="end" class="s" style="font-weight:bold;fill:#111">10</text>
<path d="M205.05 341.7v1.3" stroke="#222" stroke-width=".6"/>
<text transform="translate(205.05,345.3) scale(0.29)" font-size="10" text-anchor="middle" class="s" style="font-weight:bold;fill:#111">10</text>
<path d="M184.0 333.225H185.3" stroke="#222" stroke-width=".6"/>
<text transform="translate(183.70000000000002,334.225) scale(0.29)" font-size="10" text-anchor="end" class="s" style="font-weight:bold;fill:#111">10</text>
<path d="M214.925 341.7v1.3" stroke="#222" stroke-width=".6"/>
<text transform="translate(214.925,345.3) scale(0.29)" font-size="10" text-anchor="middle" class="s" style="font-weight:bold;fill:#111">10</text>
<path d="M184.0 341.7H185.3" stroke="#222" stroke-width=".6"/>
<text transform="translate(183.70000000000002,342.7) scale(0.29)" font-size="10" text-anchor="end" class="s" style="font-weight:bold;fill:#111">10</text>
<path d="M224.8 341.7v1.3" stroke="#222" stroke-width=".6"/>
<text transform="translate(224.8,345.3) scale(0.29)" font-size="10" text-anchor="middle" class="s" style="font-weight:bold;fill:#111">10</text>
<text transform="translate(203.05,306.7) scale(0.21000000000000002)" font-size="10" text-anchor="middle" class="s" style="font-weight:bold;fill:#111">Specimen_001</text>
<text transform="translate(204.05,347.09999999999997) scale(0.21000000000000002)" font-size="10" text-anchor="middle" class="s" style="font-weight:bold;fill:#111">CD19</text>
<text transform="translate(181.3,322.75) rotate(-90) scale(0.21000000000000002)" font-size="10" text-anchor="middle" class="s" style="font-weight:bold;fill:#111">CD138</text>
<path d="M190.8 337.5h.01M187.6 340.7h.01M186.1 339.7h.01M189.4 338.4h.01M188.3 338.8h.01M189.0 338.4h.01M190.3 337.5h.01M186.1 339.2h.01M191.0 337.3h.01M187.5 339.0h.01M190.6 338.0h.01M188.5 337.8h.01M189.6 336.4h.01M188.1 338.9h.01M190.5 336.8h.01M191.5 338.4h.01M189.2 339.3h.01M190.6 338.7h.01M187.2 340.5h.01M192.0 339.1h.01M187.4 338.5h.01M192.0 337.8h.01M193.3 338.1h.01M190.8 337.8h.01M192.4 337.9h.01M187.6 338.7h.01M189.3 338.7h.01M189.3 338.5h.01M190.1 337.8h.01M188.8 339.7h.01M189.1 337.5h.01M189.8 338.7h.01M188.2 340.3h.01M191.3 339.5h.01M191.7 340.0h.01M190.0 339.1h.01M187.9 340.7h.01M187.8 339.1h.01M188.5 339.6h.01M190.0 339.8h.01M191.0 337.6h.01M185.9 339.4h.01M190.6 339.5h.01M187.4 339.7h.01M189.6 339.8h.01M189.1 339.2h.01M188.6 337.6h.01M188.9 338.8h.01M191.5 339.8h.01M190.6 337.2h.01M188.7 339.4h.01M192.4 337.9h.01M188.4 340.1h.01M188.9 339.5h.01M188.7 338.6h.01M190.4 339.0h.01M189.8 339.4h.01M191.2 337.8h.01M189.7 339.9h.01M188.5 338.4h.01M189.5 337.0h.01M191.3 337.2h.01M190.5 339.4h.01M188.8 339.3h.01M189.1 338.8h.01M188.8 339.0h.01M190.3 340.0h.01M187.3 339.9h.01M187.8 340.3h.01M190.9 339.6h.01M189.7 340.0h.01M188.9 340.5h.01M190.0 338.6h.01M189.5 338.7h.01M189.7 340.1h.01M190.5 338.6h.01M188.2 339.7h.01M190.7 338.6h.01M191.6 337.8h.01M193.1 338.3h.01M189.7 338.0h.01M188.4 340.0h.01M190.4 338.2h.01M192.4 337.9h.01M191.9 337.6h.01M188.1 340.4h.01M190.2 339.2h.01M190.3 339.1h.01M189.1 339.5h.01M189.4 339.1h.01M189.7 339.8h.01M186.7 339.7h.01M191.1 337.6h.01M191.5 337.8h.01M191.3 337.8h.01M188.6 340.1h.01M191.3 338.2h.01M189.5 337.2h.01M190.9 337.2h.01M188.3 339.9h.01M189.4 338.4h.01M190.2 339.6h.01M188.3 340.2h.01M187.9 338.6h.01M191.7 337.9h.01M191.5 337.0h.01M187.6 339.5h.01M192.3 336.6h.01M189.0 340.0h.01M190.7 339.5h.01M190.8 338.6h.01M188.1 338.1h.01M190.5 336.0h.01M188.0 340.1h.01M187.6 339.3h.01M190.0 338.3h.01M188.6 338.8h.01M187.4 339.8h.01M189.2 338.1h.01M189.8 338.3h.01M190.6 339.0h.01M188.1 338.9h.01M189.4 337.6h.01M188.8 339.7h.01M190.6 338.3h.01M191.6 340.5h.01M191.8 336.4h.01M191.9 339.5h.01M190.2 339.4h.01M188.6 338.2h.01M191.2 338.0h.01M190.7 339.6h.01M188.4 338.2h.01M189.6 339.2h.01M187.1 339.5h.01M191.0 338.1h.01M189.9 338.3h.01M190.0 338.2h.01M188.4 338.9h.01M190.6 338.5h.01M190.8 339.2h.01M188.4 338.4h.01M189.2 340.2h.01M189.0 339.7h.01M191.7 341.2h.01M189.6 338.7h.01M188.5 337.3h.01M191.1 338.5h.01M186.8 339.2h.01M189.1 338.2h.01M187.9 339.6h.01M190.0 336.5h.01M189.0 338.4h.01M191.6 339.7h.01M191.6 338.7h.01M188.7 338.8h.01M187.0 337.9h.01M191.0 339.1h.01M190.0 340.0h.01M191.6 338.1h.01M188.4 338.6h.01M188.0 338.5h.01M188.9 337.9h.01M188.8 338.7h.01M191.0 339.0h.01M191.5 338.4h.01M188.6 338.4h.01M188.8 339.2h.01M190.1 340.1h.01M190.2 339.1h.01M190.6 337.8h.01M189.5 337.9h.01M188.7 339.3h.01M192.0 336.5h.01M186.6 339.0h.01M192.0 337.1h.01M188.1 340.1h.01M189.9 338.4h.01M189.8 340.2h.01M191.3 339.1h.01M190.9 338.4h.01M191.6 337.5h.01M190.4 337.8h.01M189.9 339.7h.01M189.0 340.1h.01M191.5 339.0h.01M191.9 338.4h.01M186.0 338.5h.01M189.3 339.4h.01M186.8 338.2h.01M187.5 339.5h.01M188.0 338.1h.01M191.8 338.9h.01M188.9 340.5h.01M188.3 339.0h.01M188.2 339.1h.01M190.9 337.9h.01M188.0 339.5h.01M190.5 338.7h.01M188.6 339.7h.01M191.3 339.1h.01M190.1 339.2h.01M192.6 336.7h.01M189.0 338.8h.01M189.7 340.1h.01M186.4 341.1h.01M189.7 339.2h.01M188.7 339.5h.01M189.4 337.6h.01M187.0 339.6h.01M191.3 339.0h.01M190.7 339.9h.01M189.5 338.0h.01M189.9 338.9h.01M191.2 338.0h.01M191.4 337.3h.01M188.9 338.2h.01M188.7 338.0h.01M189.6 339.9h.01M186.8 338.4h.01M188.2 339.1h.01M190.5 338.3h.01M190.4 338.7h.01M186.1 339.6h.01M188.7 340.2h.01M191.6 337.6h.01M189.2 340.5h.01M188.5 339.6h.01M186.0 340.6h.01M189.3 338.2h.01M191.2 337.9h.01M188.9 338.8h.01M192.3 338.9h.01M189.2 340.7h.01M188.3 339.8h.01M189.0 338.0h.01M191.2 338.9h.01M186.8 340.8h.01M191.3 339.0h.01M189.8 339.8h.01M190.2 339.6h.01M191.3 336.8h.01M191.2 337.0h.01M194.0 337.6h.01M190.0 337.5h.01M189.6 338.9h.01M189.3 339.2h.01M190.7 336.8h.01M190.8 338.0h.01M188.6 337.9h.01M191.4 337.8h.01M189.3 338.8h.01M189.9 338.0h.01M189.9 338.4h.01M191.0 338.6h.01M189.1 339.4h.01M190.1 337.7h.01M190.3 339.9h.01M188.5 339.1h.01M190.4 336.8h.01M188.7 339.4h.01M192.3 336.3h.01M192.6 338.3h.01M189.3 339.3h.01M187.6 338.6h.01M190.9 339.3h.01M188.6 338.1h.01M188.9 340.6h.01M190.0 340.3h.01M191.7 339.3h.01M189.7 338.7h.01M192.0 336.9h.01M187.7 340.6h.01M190.4 336.4h.01M190.0 338.2h.01M190.3 337.8h.01M189.4 340.4h.01M191.0 336.6h.01M190.5 339.2h.01M190.5 339.9h.01M191.7 336.9h.01M190.3 339.5h.01M190.1 337.5h.01M191.2 338.5h.01M194.2 336.7h.01M191.3 337.4h.01M189.9 339.0h.01M189.8 341.0h.01M187.3 339.2h.01M189.0 339.3h.01M190.9 339.2h.01M189.9 338.5h.01M191.0 339.0h.01M187.9 340.2h.01M189.6 340.3h.01M190.8 338.2h.01M186.7 338.6h.01M191.7 339.3h.01M191.1 337.9h.01M187.7 338.7h.01M188.4 338.2h.01M190.4 337.1h.01M187.7 338.8h.01M191.4 337.7h.01M190.2 338.6h.01M189.4 339.1h.01M189.2 339.7h.01M191.9 337.3h.01M190.1 336.4h.01M189.9 338.2h.01M188.4 339.9h.01M189.2 340.2h.01M191.1 338.9h.01M186.9 338.6h.01M191.1 338.5h.01M190.8 340.1h.01M188.5 340.3h.01M188.9 338.8h.01M188.1 337.6h.01M191.8 338.0h.01M185.8 340.7h.01M190.9 340.2h.01M187.8 340.3h.01M186.6 339.7h.01M192.1 338.8h.01M190.7 339.4h.01M189.7 339.1h.01M191.1 337.6h.01M187.5 341.2h.01M187.1 339.4h.01M191.0 337.7h.01M190.2 339.5h.01M187.2 338.9h.01M187.6 339.3h.01M190.8 338.4h.01M188.9 339.6h.01M189.6 339.2h.01M192.2 338.4h.01M189.1 340.0h.01M188.9 339.9h.01M191.0 338.5h.01M191.9 336.8h.01M187.4 341.2h.01M188.1 338.6h.01M187.3 340.8h.01M187.4 337.3h.01M189.7 339.4h.01M189.3 339.2h.01M191.7 337.1h.01M189.1 338.3h.01M189.6 337.7h.01M190.7 338.5h.01M187.1 340.2h.01M190.3 336.9h.01M189.9 338.4h.01M192.2 338.0h.01M190.9 338.7h.01M188.7 339.7h.01M187.9 340.4h.01M189.9 338.2h.01M189.4 338.1h.01M190.9 336.2h.01M190.2 337.1h.01M191.8 337.6h.01M192.2 338.6h.01M191.4 338.2h.01M190.4 339.9h.01M193.0 337.0h.01M192.6 339.2h.01M193.6 336.8h.01M189.3 340.3h.01M188.2 339.1h.01" stroke="#111" stroke-width="0.9" stroke-linecap="round" fill="none" opacity="1"/>
<path d="M196.2 335.8h.01M199.9 334.2h.01M195.8 335.8h.01M197.3 334.1h.01M198.1 333.0h.01M197.3 334.8h.01M197.7 334.4h.01M199.0 333.1h.01M198.4 334.5h.01M198.8 331.9h.01M198.0 335.0h.01M201.5 331.1h.01M195.1 337.6h.01M196.1 336.2h.01M197.3 334.3h.01M196.8 335.7h.01M198.8 333.6h.01M197.2 336.6h.01M199.6 333.5h.01M197.5 334.9h.01M197.9 331.7h.01M196.9 335.9h.01M199.4 332.0h.01M198.7 332.6h.01M196.5 337.6h.01M200.4 333.0h.01M197.1 336.9h.01M198.0 334.6h.01M196.4 336.8h.01M196.9 334.9h.01M197.8 333.6h.01M197.9 333.7h.01M198.3 334.8h.01M196.6 336.0h.01M198.5 334.8h.01M196.2 334.4h.01M200.3 334.0h.01M197.6 335.3h.01M198.8 335.5h.01M199.8 333.1h.01M196.5 334.3h.01M195.5 336.7h.01M197.8 333.2h.01M198.3 333.1h.01M198.4 333.2h.01M198.2 333.4h.01M197.1 334.7h.01M199.3 333.7h.01M196.9 334.4h.01M198.0 334.6h.01M197.7 333.2h.01M201.0 332.4h.01M196.7 335.2h.01M196.0 336.1h.01M198.2 335.1h.01M198.1 332.1h.01M199.9 334.2h.01M196.6 334.7h.01M196.0 336.2h.01M196.5 335.1h.01M197.0 335.3h.01M199.0 333.1h.01M198.5 333.9h.01M197.6 334.2h.01M199.7 333.9h.01M195.3 335.0h.01M198.7 336.3h.01M198.3 333.3h.01M195.5 336.9h.01M198.8 333.4h.01M200.5 332.8h.01M196.9 335.8h.01M197.6 335.6h.01M199.2 331.4h.01M199.2 335.8h.01M198.7 333.8h.01M196.5 336.3h.01M199.7 334.2h.01M198.0 335.2h.01M198.5 336.1h.01M197.7 333.3h.01M197.1 333.9h.01M195.9 337.1h.01M194.4 337.7h.01M197.3 335.6h.01M197.4 335.9h.01M199.2 335.6h.01M198.7 335.8h.01M197.4 334.8h.01M199.6 334.4h.01M198.3 334.5h.01M196.9 335.7h.01M199.0 333.3h.01M198.9 333.7h.01M198.3 333.5h.01M196.4 334.8h.01M196.9 336.6h.01M196.3 334.6h.01M197.3 335.6h.01M196.5 334.3h.01M198.8 335.1h.01M198.4 336.1h.01M199.5 333.6h.01M197.1 335.4h.01M200.0 332.2h.01M197.4 334.3h.01M198.4 333.9h.01M198.1 335.1h.01M198.2 335.0h.01M198.0 334.8h.01M199.1 331.2h.01M195.3 335.7h.01M195.1 334.8h.01M196.9 335.1h.01M197.7 334.3h.01M198.4 333.8h.01M196.5 334.9h.01M198.2 335.2h.01M197.6 335.4h.01M198.9 333.6h.01M198.7 333.7h.01M196.3 338.0h.01M198.1 335.9h.01M199.9 334.5h.01M197.6 334.7h.01M197.6 335.2h.01M200.3 332.8h.01M197.1 335.0h.01M198.4 334.6h.01M195.7 335.2h.01M199.4 332.8h.01M197.8 334.5h.01M197.8 334.1h.01M194.1 337.6h.01M199.2 332.4h.01M196.5 335.6h.01M196.5 335.5h.01M196.4 335.7h.01M196.0 333.9h.01M196.4 336.0h.01M199.4 333.4h.01M198.2 334.4h.01M196.8 335.5h.01M198.5 334.4h.01M195.5 335.6h.01M199.3 332.9h.01M199.2 334.5h.01M198.1 335.3h.01M197.5 334.4h.01M195.8 334.5h.01M198.3 333.9h.01M195.9 336.0h.01M196.6 335.5h.01M199.5 333.8h.01M196.1 336.8h.01M197.9 335.0h.01M197.2 334.2h.01M197.3 333.3h.01M197.1 334.7h.01M198.6 331.4h.01M199.2 334.5h.01M198.0 334.7h.01M199.5 333.8h.01M195.9 335.2h.01M197.2 333.3h.01M197.3 334.8h.01M198.1 335.6h.01M197.5 336.2h.01M197.4 334.5h.01M198.6 335.6h.01M196.8 335.1h.01M197.7 334.4h.01M199.3 334.6h.01M198.7 333.3h.01M198.0 332.0h.01M197.2 336.3h.01M195.8 335.7h.01M198.8 331.6h.01M198.3 334.4h.01M198.4 334.3h.01M197.6 331.9h.01M197.5 334.7h.01M197.7 334.1h.01M200.2 332.9h.01M197.2 333.9h.01M198.2 334.6h.01M198.5 333.8h.01M199.2 334.5h.01M197.4 335.0h.01M197.6 334.2h.01M198.0 335.3h.01M198.3 333.8h.01M195.9 335.5h.01M200.2 332.5h.01M194.9 336.3h.01M197.2 335.5h.01M194.1 338.0h.01M196.3 337.0h.01M199.9 331.6h.01M197.9 335.2h.01M197.3 337.2h.01M198.3 334.6h.01M197.4 333.0h.01M198.6 333.2h.01M196.6 335.6h.01M197.8 334.2h.01M198.4 335.5h.01M197.3 334.8h.01M200.8 333.6h.01M196.9 335.8h.01M197.5 333.7h.01M193.4 337.7h.01M200.1 334.0h.01M195.2 336.2h.01M199.3 334.5h.01M199.0 334.4h.01M196.8 335.8h.01M197.0 333.7h.01M198.2 335.2h.01M194.5 336.1h.01M199.0 333.9h.01M195.1 336.5h.01M196.7 336.5h.01M195.9 335.1h.01M197.1 335.0h.01M197.2 334.9h.01M196.2 335.7h.01M195.8 335.4h.01M198.8 333.4h.01M197.8 334.5h.01M199.9 334.0h.01M201.0 331.7h.01M197.6 335.1h.01M198.9 333.5h.01M198.3 333.4h.01M201.4 334.3h.01M196.5 336.9h.01M197.1 336.5h.01M197.3 334.4h.01M198.3 332.8h.01M194.6 339.2h.01M196.3 334.2h.01M198.6 335.7h.01M197.8 335.8h.01M195.4 334.2h.01M196.8 334.2h.01M200.0 332.5h.01M198.2 335.2h.01M195.4 335.4h.01M196.5 335.3h.01M200.7 332.0h.01M195.9 336.0h.01M197.5 335.4h.01M195.0 336.6h.01M198.2 334.9h.01M196.9 332.9h.01M197.1 335.5h.01M199.4 335.4h.01M198.9 334.6h.01M196.6 335.6h.01M197.0 335.8h.01M195.2 336.2h.01M197.4 334.4h.01M199.9 333.8h.01M196.3 335.2h.01M196.3 334.9h.01M197.2 335.6h.01M200.7 331.9h.01M197.4 334.6h.01M199.1 333.2h.01M197.7 333.8h.01M198.2 333.6h.01M198.7 336.0h.01M198.7 333.5h.01M200.2 334.0h.01M197.3 334.1h.01M199.6 334.6h.01M197.1 334.7h.01M197.2 334.6h.01M199.3 333.0h.01M196.6 335.2h.01M194.9 336.5h.01M199.6 334.1h.01M198.6 332.4h.01M196.5 336.1h.01M200.3 332.0h.01M195.4 337.2h.01M198.5 335.2h.01M199.8 332.9h.01M196.8 337.4h.01M197.6 334.2h.01M198.5 334.3h.01M196.5 336.0h.01M196.9 335.8h.01M196.7 334.6h.01M197.1 334.8h.01M197.4 334.2h.01M198.9 332.4h.01M196.3 333.1h.01M198.0 335.4h.01M199.8 332.7h.01M198.4 333.7h.01M199.1 332.6h.01M197.9 335.0h.01M195.2 334.9h.01M199.3 333.4h.01M197.6 335.7h.01M195.0 335.6h.01M196.4 337.9h.01M195.5 335.8h.01M197.6 334.1h.01M197.7 333.3h.01M198.2 334.4h.01M198.3 332.7h.01M197.9 332.7h.01M197.4 337.6h.01M197.8 334.1h.01M199.2 333.1h.01M197.3 336.5h.01M196.9 336.2h.01M197.5 333.6h.01M197.8 335.2h.01M198.5 332.9h.01M194.9 337.3h.01M198.3 333.2h.01M197.7 334.6h.01M198.7 333.9h.01M198.3 334.2h.01M198.3 335.3h.01M196.3 334.7h.01M197.8 334.2h.01M196.6 336.4h.01M195.3 336.3h.01M199.6 331.6h.01M201.0 332.5h.01M198.2 334.7h.01M201.3 331.1h.01M196.1 334.1h.01M198.0 333.4h.01M198.6 333.0h.01M195.6 337.3h.01M197.0 335.4h.01M197.0 335.8h.01M201.0 333.5h.01M198.5 334.2h.01M199.7 332.7h.01M200.9 334.1h.01M199.5 334.5h.01M197.4 335.3h.01M195.8 336.1h.01M199.6 334.0h.01M198.7 334.6h.01M198.2 335.2h.01M196.6 336.1h.01M196.6 335.0h.01M199.4 331.8h.01M200.9 333.2h.01M198.0 334.7h.01M199.6 333.1h.01M198.3 332.7h.01" stroke="#111" stroke-width="0.9" stroke-linecap="round" fill="none" opacity="1"/>
<path d="M190.5 337.3h.01M192.9 336.3h.01M193.5 337.7h.01M194.0 335.2h.01M196.2 333.7h.01M196.0 336.3h.01M194.9 337.0h.01M197.1 335.8h.01M196.1 333.9h.01M193.4 336.0h.01M193.2 338.1h.01M192.7 337.9h.01M196.0 335.2h.01M193.4 338.1h.01M194.2 336.3h.01M191.4 337.3h.01M192.1 337.2h.01M189.5 336.3h.01M192.4 336.4h.01M194.7 337.3h.01M193.6 336.9h.01M189.6 337.5h.01M194.6 336.0h.01M193.0 335.0h.01M192.9 337.4h.01M194.2 335.0h.01M193.6 336.0h.01M195.2 339.2h.01M190.6 338.8h.01M193.3 336.5h.01M195.1 337.3h.01M191.8 337.2h.01M193.2 337.8h.01M187.5 339.7h.01M195.4 338.0h.01M193.8 336.7h.01M194.9 337.3h.01M191.0 337.2h.01M194.1 337.5h.01M192.9 336.9h.01M190.2 336.1h.01M197.5 334.3h.01M194.4 336.4h.01M194.1 334.2h.01M195.1 335.9h.01M191.4 337.1h.01M197.4 335.4h.01M191.7 337.6h.01M195.3 336.4h.01M191.1 337.2h.01M190.4 338.6h.01M190.8 339.6h.01M194.0 336.7h.01M198.0 333.3h.01M191.7 336.8h.01M189.4 339.7h.01M188.8 339.3h.01M191.9 337.5h.01M191.4 337.8h.01M190.6 337.7h.01" stroke="#111" stroke-width="0.66" stroke-linecap="round" fill="none" opacity="1"/>
<path d="M207.9 327.2h.01M211.6 326.7h.01M215.4 322.4h.01M206.3 326.0h.01M211.0 324.2h.01M206.8 328.1h.01M208.8 328.2h.01M214.8 320.5h.01M215.9 319.0h.01M206.7 324.7h.01M207.9 324.5h.01M214.3 319.1h.01M202.9 331.7h.01M211.8 324.2h.01M209.2 324.1h.01M207.4 327.6h.01M211.9 324.9h.01M220.0 316.0h.01M206.9 326.0h.01M206.6 327.2h.01" stroke="#aaa" stroke-width="0.6" stroke-linecap="round" fill="none" opacity="1"/>
<text x="185" y="316.8" font-size="7.6" text-anchor="start">4%</text>
<text x="221.2" y="316.4" font-size="7.6" text-anchor="end">17%</text>
<text x="221.5" y="340.3" font-size="7.6" text-anchor="end">20%</text>
<path d="M133.5 354.6H171.2V388.7H133.5Z" fill="none" stroke="#333" stroke-width="0.8"/>
<path d="M144.5 354.6V388.7M133.5 380.2H171.2" fill="none" stroke="#444" stroke-width="0.7"/>
<path d="M132.2 354.6H133.5" stroke="#222" stroke-width=".6"/>
<text transform="translate(131.9,355.6) scale(0.29)" font-size="10" text-anchor="end" class="s" style="font-weight:bold;fill:#111">10</text>
<path d="M133.5 388.7v1.3" stroke="#222" stroke-width=".6"/>
<text transform="translate(133.5,392.3) scale(0.29)" font-size="10" text-anchor="middle" class="s" style="font-weight:bold;fill:#111">10</text>
<path d="M132.2 363.125H133.5" stroke="#222" stroke-width=".6"/>
<text transform="translate(131.9,364.125) scale(0.29)" font-size="10" text-anchor="end" class="s" style="font-weight:bold;fill:#111">10</text>
<path d="M142.925 388.7v1.3" stroke="#222" stroke-width=".6"/>
<text transform="translate(142.925,392.3) scale(0.29)" font-size="10" text-anchor="middle" class="s" style="font-weight:bold;fill:#111">10</text>
<path d="M132.2 371.65H133.5" stroke="#222" stroke-width=".6"/>
<text transform="translate(131.9,372.65) scale(0.29)" font-size="10" text-anchor="end" class="s" style="font-weight:bold;fill:#111">10</text>
<path d="M152.35 388.7v1.3" stroke="#222" stroke-width=".6"/>
<text transform="translate(152.35,392.3) scale(0.29)" font-size="10" text-anchor="middle" class="s" style="font-weight:bold;fill:#111">10</text>
<path d="M132.2 380.175H133.5" stroke="#222" stroke-width=".6"/>
<text transform="translate(131.9,381.175) scale(0.29)" font-size="10" text-anchor="end" class="s" style="font-weight:bold;fill:#111">10</text>
<path d="M161.77499999999998 388.7v1.3" stroke="#222" stroke-width=".6"/>
<text transform="translate(161.77499999999998,392.3) scale(0.29)" font-size="10" text-anchor="middle" class="s" style="font-weight:bold;fill:#111">10</text>
<path d="M132.2 388.7H133.5" stroke="#222" stroke-width=".6"/>
<text transform="translate(131.9,389.7) scale(0.29)" font-size="10" text-anchor="end" class="s" style="font-weight:bold;fill:#111">10</text>
<path d="M171.2 388.7v1.3" stroke="#222" stroke-width=".6"/>
<text transform="translate(171.2,392.3) scale(0.29)" font-size="10" text-anchor="middle" class="s" style="font-weight:bold;fill:#111">10</text>
<text transform="translate(150.35,353.5) scale(0.21000000000000002)" font-size="10" text-anchor="middle" class="s" style="font-weight:bold;fill:#111">Specimen_001</text>
<text transform="translate(151.35,394.09999999999997) scale(0.21000000000000002)" font-size="10" text-anchor="middle" class="s" style="font-weight:bold;fill:#111">CD19</text>
<text transform="translate(129.5,369.65) rotate(-90) scale(0.21000000000000002)" font-size="10" text-anchor="middle" class="s" style="font-weight:bold;fill:#111">CD138</text>
<path d="M137.8 387.0h.01M137.6 385.5h.01M134.4 387.5h.01M138.1 385.6h.01M138.8 385.6h.01M139.3 385.6h.01M135.9 386.3h.01M136.0 388.3h.01M136.3 387.4h.01M139.5 386.6h.01M136.9 385.2h.01M137.3 386.6h.01M138.5 385.7h.01M138.1 385.8h.01M135.9 385.5h.01M139.7 384.0h.01M141.0 384.3h.01M138.9 385.7h.01M141.7 384.4h.01M137.1 386.2h.01M137.6 385.4h.01M136.1 386.6h.01M139.9 384.9h.01M139.7 384.8h.01M136.1 388.1h.01M135.8 386.9h.01M138.8 386.1h.01M137.9 386.4h.01M138.4 386.2h.01M139.1 385.0h.01M141.5 384.3h.01M136.4 386.0h.01M137.6 387.4h.01M138.9 386.0h.01M138.6 385.4h.01M138.9 385.3h.01M138.9 385.9h.01M137.3 385.5h.01M136.8 388.0h.01M136.4 384.0h.01M137.6 385.5h.01M134.4 386.8h.01M137.7 387.4h.01M139.2 386.0h.01M137.4 387.5h.01M135.5 386.1h.01M140.3 384.8h.01M135.5 386.8h.01M138.3 385.1h.01M138.9 384.3h.01M137.6 385.1h.01M138.6 385.8h.01M138.8 384.9h.01M136.7 387.7h.01M135.8 385.8h.01M138.1 384.4h.01M135.0 387.2h.01M136.8 386.2h.01M138.3 386.2h.01M137.3 384.6h.01M139.5 384.5h.01M140.3 385.6h.01M138.0 387.4h.01M138.3 385.1h.01M140.7 384.4h.01M137.0 385.5h.01M140.5 384.1h.01M136.3 386.8h.01M138.5 384.7h.01M139.3 383.9h.01M135.2 386.5h.01M135.9 385.3h.01M137.4 386.1h.01M138.0 384.7h.01M137.3 386.4h.01M136.9 385.7h.01M138.8 384.3h.01M135.4 387.5h.01M138.7 384.6h.01M135.4 386.8h.01M136.8 385.9h.01M136.1 387.0h.01M137.1 387.1h.01M134.8 386.6h.01M137.2 385.4h.01M139.1 385.6h.01M137.1 385.2h.01M138.6 383.8h.01M137.3 386.6h.01M138.0 386.6h.01M138.7 384.3h.01M135.6 386.6h.01M136.9 386.3h.01M137.8 386.2h.01M139.9 384.2h.01M136.5 385.8h.01M136.2 386.1h.01M139.1 384.7h.01M138.1 385.4h.01M136.9 384.2h.01M136.0 387.2h.01M135.1 387.6h.01M140.5 385.2h.01M137.9 385.4h.01M140.2 385.3h.01M137.7 385.0h.01M137.8 385.7h.01M137.6 386.5h.01M137.1 386.8h.01M140.5 384.3h.01M135.0 387.7h.01M136.6 384.7h.01M139.0 384.4h.01M137.8 384.9h.01M136.7 386.4h.01M134.6 387.3h.01M137.2 385.0h.01M137.2 386.7h.01M138.2 387.0h.01M137.9 385.8h.01M138.8 385.8h.01M136.9 385.6h.01M135.6 386.4h.01M137.3 386.3h.01M140.7 383.8h.01M138.7 385.1h.01M137.8 385.3h.01M135.1 387.7h.01M137.5 385.0h.01M134.3 388.0h.01M136.4 387.5h.01M137.2 384.8h.01M137.0 386.4h.01M139.3 383.4h.01M137.7 384.9h.01M137.2 386.3h.01M137.7 386.1h.01M139.1 386.2h.01M137.6 384.4h.01M139.5 385.1h.01M140.7 385.6h.01M138.8 386.5h.01M137.0 386.1h.01M138.9 385.5h.01M136.6 387.2h.01M137.1 387.3h.01M139.3 384.9h.01M135.4 387.7h.01M137.9 383.5h.01M138.0 386.4h.01M138.8 384.5h.01M139.6 384.1h.01M138.2 384.3h.01M138.0 386.4h.01M138.2 385.5h.01M139.1 384.6h.01M138.8 384.3h.01M139.6 385.1h.01M141.7 384.6h.01M138.4 385.2h.01M135.5 386.5h.01M139.0 384.9h.01M136.3 387.1h.01M134.5 388.0h.01M139.8 385.0h.01M139.9 385.9h.01M136.4 386.9h.01M136.8 385.9h.01M139.8 384.1h.01M139.3 385.0h.01M138.9 384.8h.01M137.3 386.0h.01M138.5 385.2h.01M136.9 385.8h.01M140.9 383.2h.01M137.6 385.3h.01M139.5 385.1h.01M136.3 386.8h.01M138.6 385.0h.01M136.1 387.1h.01M137.3 385.7h.01M136.3 386.1h.01M140.3 384.3h.01M138.8 384.3h.01M138.3 387.9h.01M140.1 383.9h.01M138.7 385.7h.01M138.4 385.6h.01M138.4 384.1h.01M137.1 386.5h.01M136.8 386.7h.01M135.3 387.4h.01M138.2 386.1h.01M140.9 384.3h.01M137.2 386.0h.01M138.8 384.6h.01M136.6 388.0h.01M136.7 386.0h.01M139.0 384.2h.01M137.8 385.9h.01M136.8 387.0h.01M136.2 384.4h.01M140.4 383.6h.01M140.0 386.7h.01M137.0 387.1h.01M137.6 386.1h.01M134.8 386.7h.01M139.5 386.4h.01M136.5 385.7h.01M140.4 385.2h.01M138.9 384.5h.01M137.2 387.2h.01M137.9 384.6h.01M136.3 386.6h.01M138.3 386.6h.01M138.4 386.1h.01M138.1 384.7h.01M137.8 385.5h.01M137.0 385.1h.01M137.6 386.5h.01M141.1 386.5h.01M136.1 386.5h.01M138.2 384.9h.01M134.5 386.7h.01M138.9 385.6h.01M135.9 385.3h.01M136.4 384.6h.01M137.4 384.4h.01M136.9 387.2h.01M137.9 386.6h.01M136.8 385.7h.01M136.0 386.9h.01M137.5 385.7h.01M138.7 387.1h.01M134.6 387.4h.01M139.0 385.2h.01M140.0 384.5h.01M136.6 386.7h.01M136.2 385.5h.01M137.8 385.4h.01M137.9 388.1h.01M138.8 385.0h.01M139.2 385.9h.01M137.6 387.4h.01M139.6 383.8h.01M139.2 384.9h.01M138.6 385.7h.01M140.5 383.1h.01M137.2 385.8h.01M135.7 386.4h.01M136.9 386.5h.01M139.4 385.4h.01M136.8 386.5h.01M134.9 387.0h.01M137.0 387.2h.01M139.9 384.8h.01M138.1 384.3h.01M136.6 386.9h.01M135.5 386.0h.01M136.9 386.8h.01M137.2 385.5h.01M138.0 384.3h.01M136.7 385.3h.01M137.6 387.1h.01M138.4 387.0h.01M138.5 384.0h.01M135.7 385.8h.01M135.5 386.3h.01M141.5 383.0h.01M136.8 384.8h.01M139.9 384.0h.01M136.3 385.1h.01M136.0 387.2h.01M137.7 386.5h.01M137.5 384.4h.01M138.8 385.6h.01M136.4 385.9h.01M139.6 383.9h.01M138.0 385.6h.01M138.0 386.4h.01M137.2 387.1h.01M136.6 386.7h.01M138.4 385.0h.01M138.6 386.7h.01M139.5 384.4h.01M137.8 384.2h.01M137.6 386.3h.01M136.3 386.4h.01M138.2 384.5h.01M136.8 386.9h.01M137.8 386.8h.01M138.5 385.2h.01M136.7 386.1h.01M138.8 385.9h.01M136.1 386.3h.01M139.3 385.0h.01M138.1 386.3h.01M135.4 386.4h.01M139.1 385.8h.01M137.3 385.3h.01M134.4 386.7h.01M140.4 383.4h.01M141.9 384.2h.01M138.6 385.1h.01M136.4 384.5h.01M138.7 385.7h.01M138.8 384.7h.01M137.0 385.4h.01M138.1 384.6h.01M136.0 388.1h.01M138.6 386.1h.01M137.3 386.1h.01M136.5 388.2h.01M135.4 386.5h.01M136.2 386.1h.01M138.6 387.0h.01M135.3 386.3h.01M134.3 387.1h.01M138.4 381.9h.01M138.6 383.8h.01M136.1 385.9h.01M136.5 385.6h.01M137.9 383.8h.01M140.4 385.7h.01M136.8 385.9h.01M136.4 385.0h.01M139.8 384.9h.01M138.2 386.5h.01M138.0 385.5h.01M136.6 387.8h.01M136.8 387.2h.01M139.9 385.1h.01M140.3 386.2h.01M138.7 384.4h.01M139.8 385.8h.01M138.6 384.9h.01M138.4 383.2h.01M139.8 387.2h.01M138.7 384.4h.01M140.2 385.1h.01M135.9 384.7h.01M135.0 385.3h.01M138.8 384.4h.01M138.0 386.2h.01M137.8 387.2h.01M137.0 387.0h.01M140.8 385.8h.01M138.4 387.0h.01M137.2 387.3h.01M136.6 386.0h.01M134.3 388.1h.01M137.1 386.4h.01M139.2 386.7h.01M139.9 382.4h.01M139.7 385.7h.01M138.9 384.5h.01M136.9 385.9h.01M136.6 388.2h.01M138.4 384.6h.01M137.5 386.0h.01M137.1 385.7h.01M139.6 385.7h.01M136.1 385.1h.01M138.3 386.3h.01M137.2 386.5h.01M139.6 385.4h.01M138.7 384.7h.01M136.3 386.4h.01M137.9 387.5h.01M137.3 385.1h.01M136.3 383.9h.01M138.4 387.8h.01M137.6 385.0h.01M135.9 387.2h.01M137.3 384.7h.01M137.9 385.1h.01M139.7 383.0h.01M136.0 385.6h.01M138.2 385.5h.01M137.8 385.9h.01M137.9 387.1h.01M135.6 386.7h.01M136.6 385.8h.01M137.2 384.8h.01M137.3 385.7h.01M137.1 387.2h.01M136.9 386.5h.01M137.8 385.4h.01M134.9 387.7h.01M137.8 384.8h.01M140.8 384.2h.01M137.1 385.4h.01M137.0 386.2h.01M137.1 385.9h.01M136.2 386.8h.01M138.8 385.9h.01M134.1 387.6h.01M137.7 386.7h.01M136.3 386.2h.01M138.1 385.3h.01M135.9 386.8h.01M139.7 386.8h.01M139.7 385.8h.01M135.7 387.3h.01M137.8 383.3h.01M138.2 386.6h.01M136.5 387.1h.01M139.0 384.0h.01M137.2 385.8h.01M138.9 385.0h.01M138.9 385.8h.01M137.6 386.5h.01M142.2 383.9h.01M138.1 384.6h.01M139.1 384.1h.01M135.1 387.1h.01M137.7 386.0h.01M136.7 384.8h.01M135.9 387.4h.01M139.2 386.0h.01M137.1 385.0h.01M135.7 386.3h.01M138.4 385.4h.01M137.5 386.8h.01M137.0 385.6h.01M137.5 384.8h.01M137.4 385.6h.01M137.2 385.7h.01M139.7 385.0h.01M138.4 384.3h.01M139.2 386.9h.01M137.5 385.4h.01M138.7 384.1h.01M137.7 386.6h.01M139.4 385.3h.01M137.0 385.2h.01M136.5 386.7h.01M140.9 385.4h.01M139.9 386.6h.01M139.3 384.8h.01M140.2 383.9h.01M135.7 386.7h.01M136.5 385.1h.01M138.6 385.1h.01M136.2 385.6h.01M139.6 385.9h.01M138.9 384.0h.01M139.2 384.9h.01M138.3 385.2h.01M136.5 386.6h.01M138.0 386.7h.01M137.2 386.2h.01M138.2 384.5h.01M137.2 387.1h.01M138.4 384.2h.01M137.7 385.8h.01M137.9 385.6h.01M137.7 384.8h.01M137.7 386.5h.01M136.3 386.7h.01M138.5 385.7h.01M136.8 385.4h.01M137.0 385.8h.01M139.2 384.4h.01M136.8 385.7h.01M139.1 386.6h.01M134.3 387.4h.01M135.1 385.8h.01M139.6 383.6h.01M137.9 384.2h.01M137.6 384.7h.01M141.7 384.4h.01M140.0 386.4h.01M134.1 386.2h.01M139.5 385.6h.01M139.3 386.1h.01M139.9 384.4h.01M137.7 386.9h.01M137.5 387.1h.01M135.0 386.1h.01M136.9 385.6h.01M136.1 386.5h.01M137.9 385.9h.01M134.2 387.0h.01M135.9 387.0h.01M136.6 385.9h.01M140.6 385.4h.01M136.4 385.0h.01M137.4 385.1h.01M138.9 386.4h.01M138.7 385.6h.01M136.4 385.9h.01M135.3 386.6h.01M136.9 384.9h.01M138.5 385.5h.01M137.6 386.3h.01M138.4 385.6h.01M136.9 385.3h.01M137.5 385.5h.01M136.2 386.2h.01M139.7 386.3h.01M135.8 385.1h.01M137.3 387.3h.01M136.6 385.0h.01M136.0 387.5h.01M139.2 385.0h.01M139.7 385.5h.01M138.5 383.6h.01M137.2 384.7h.01M135.8 386.2h.01M138.3 385.0h.01M140.0 384.3h.01M137.5 386.1h.01M140.2 385.6h.01M137.2 384.0h.01M137.4 385.8h.01" stroke="#111" stroke-width="0.9" stroke-linecap="round" fill="none" opacity="1"/>
<path d="M136.5 383.6h.01M138.7 384.4h.01M140.4 384.3h.01M136.7 387.8h.01M142.9 381.2h.01M140.4 384.3h.01M140.4 384.3h.01M136.6 384.4h.01M138.6 383.3h.01M142.8 382.9h.01M139.7 383.9h.01M143.6 381.3h.01M136.2 386.6h.01M141.5 382.9h.01M139.9 383.3h.01M139.3 382.3h.01M139.8 386.2h.01M142.6 382.6h.01M137.7 386.5h.01M141.7 379.6h.01M142.9 380.9h.01M140.4 383.4h.01M140.9 382.8h.01M140.6 382.7h.01M139.7 383.7h.01M135.5 385.8h.01M138.2 386.6h.01M141.0 380.9h.01M143.3 383.4h.01M141.9 383.6h.01M138.3 384.1h.01M140.9 386.4h.01M140.4 382.0h.01M142.2 385.2h.01M139.9 381.8h.01M140.1 383.6h.01M141.3 382.1h.01M140.4 383.4h.01M141.0 383.6h.01M139.9 384.4h.01M141.0 384.2h.01M137.0 385.0h.01M139.5 383.1h.01M144.8 383.4h.01M136.9 384.4h.01M142.3 382.7h.01M143.0 380.9h.01M139.2 385.1h.01M140.3 383.5h.01M142.4 382.3h.01M141.8 381.5h.01M139.9 383.3h.01M141.4 381.8h.01M138.4 384.6h.01M136.7 386.4h.01M141.2 382.1h.01M137.1 386.9h.01M137.8 383.7h.01M138.0 384.7h.01M142.7 381.9h.01M141.3 383.8h.01M145.2 382.2h.01M139.4 383.8h.01M139.7 384.5h.01M138.3 385.3h.01M138.5 382.9h.01M139.5 382.1h.01M137.1 385.3h.01M137.3 384.4h.01M141.2 381.2h.01" stroke="#111" stroke-width="0.66" stroke-linecap="round" fill="none" opacity="1"/>
<path d="M185.3 354.6H224.8V388.7H185.3Z" fill="none" stroke="#333" stroke-width="0.8"/>
<path d="M196.8 354.6V388.7M185.3 380.6H224.8" fill="none" stroke="#444" stroke-width="0.7"/>
<path d="M184.0 354.6H185.3" stroke="#222" stroke-width=".6"/>
<text transform="translate(183.70000000000002,355.6) scale(0.29)" font-size="10" text-anchor="end" class="s" style="font-weight:bold;fill:#111">10</text>
<path d="M185.3 388.7v1.3" stroke="#222" stroke-width=".6"/>
<text transform="translate(185.3,392.3) scale(0.29)" font-size="10" text-anchor="middle" class="s" style="font-weight:bold;fill:#111">10</text>
<path d="M184.0 363.125H185.3" stroke="#222" stroke-width=".6"/>
<text transform="translate(183.70000000000002,364.125) scale(0.29)" font-size="10" text-anchor="end" class="s" style="font-weight:bold;fill:#111">10</text>
<path d="M195.175 388.7v1.3" stroke="#222" stroke-width=".6"/>
<text transform="translate(195.175,392.3) scale(0.29)" font-size="10" text-anchor="middle" class="s" style="font-weight:bold;fill:#111">10</text>
<path d="M184.0 371.65H185.3" stroke="#222" stroke-width=".6"/>
<text transform="translate(183.70000000000002,372.65) scale(0.29)" font-size="10" text-anchor="end" class="s" style="font-weight:bold;fill:#111">10</text>
<path d="M205.05 388.7v1.3" stroke="#222" stroke-width=".6"/>
<text transform="translate(205.05,392.3) scale(0.29)" font-size="10" text-anchor="middle" class="s" style="font-weight:bold;fill:#111">10</text>
<path d="M184.0 380.175H185.3" stroke="#222" stroke-width=".6"/>
<text transform="translate(183.70000000000002,381.175) scale(0.29)" font-size="10" text-anchor="end" class="s" style="font-weight:bold;fill:#111">10</text>
<path d="M214.925 388.7v1.3" stroke="#222" stroke-width=".6"/>
<text transform="translate(214.925,392.3) scale(0.29)" font-size="10" text-anchor="middle" class="s" style="font-weight:bold;fill:#111">10</text>
<path d="M184.0 388.7H185.3" stroke="#222" stroke-width=".6"/>
<text transform="translate(183.70000000000002,389.7) scale(0.29)" font-size="10" text-anchor="end" class="s" style="font-weight:bold;fill:#111">10</text>
<path d="M224.8 388.7v1.3" stroke="#222" stroke-width=".6"/>
<text transform="translate(224.8,392.3) scale(0.29)" font-size="10" text-anchor="middle" class="s" style="font-weight:bold;fill:#111">10</text>
<text transform="translate(203.05,353.5) scale(0.21000000000000002)" font-size="10" text-anchor="middle" class="s" style="font-weight:bold;fill:#111">Specimen_001</text>
<text transform="translate(204.05,394.09999999999997) scale(0.21000000000000002)" font-size="10" text-anchor="middle" class="s" style="font-weight:bold;fill:#111">CD19</text>
<text transform="translate(181.3,369.65) rotate(-90) scale(0.21000000000000002)" font-size="10" text-anchor="middle" class="s" style="font-weight:bold;fill:#111">CD138</text>
<path d="M190.4 386.3h.01M189.9 385.6h.01M188.9 386.3h.01M188.2 386.8h.01M188.8 386.3h.01M186.5 386.3h.01M191.4 385.5h.01M185.8 385.3h.01M188.1 388.3h.01M186.9 387.0h.01M191.3 384.2h.01M188.1 387.3h.01M190.9 386.4h.01M188.6 386.5h.01M190.8 386.2h.01M188.7 386.8h.01M190.3 385.1h.01M189.2 384.9h.01M189.7 385.4h.01M188.5 386.6h.01M191.3 385.7h.01M191.5 383.7h.01M191.5 385.6h.01M191.4 385.1h.01M190.5 386.3h.01M191.1 384.0h.01M189.3 385.7h.01M189.0 388.2h.01M188.9 386.0h.01M190.6 385.6h.01M189.0 385.5h.01M188.5 386.7h.01M189.4 385.4h.01M189.6 386.8h.01M191.4 385.3h.01M188.7 386.7h.01M189.6 385.6h.01M190.8 385.4h.01M191.8 386.8h.01M189.8 386.7h.01M185.9 386.8h.01M188.9 385.9h.01M190.4 386.7h.01M188.7 385.8h.01M186.9 386.7h.01M191.0 384.0h.01M190.0 384.9h.01M189.6 385.2h.01M191.8 386.6h.01M191.0 386.2h.01M190.5 385.9h.01M188.9 385.4h.01M189.5 386.8h.01M191.0 386.1h.01M188.6 386.9h.01M188.9 385.2h.01M186.7 387.5h.01M191.9 384.8h.01M191.2 386.5h.01M192.3 384.6h.01M191.2 385.8h.01M188.3 385.1h.01M188.6 386.4h.01M187.9 386.9h.01M188.8 386.2h.01M189.6 386.3h.01M187.8 386.8h.01M188.9 387.4h.01M191.1 384.6h.01M190.3 386.3h.01M187.8 386.7h.01M191.6 384.9h.01M189.3 384.6h.01M189.3 386.7h.01M192.8 383.9h.01M191.0 384.9h.01M191.2 386.2h.01M189.4 385.2h.01M189.9 385.1h.01M190.3 387.7h.01M188.7 387.1h.01M191.8 386.2h.01M188.1 387.0h.01M189.1 387.4h.01M188.2 385.8h.01M188.0 386.0h.01M185.8 387.2h.01M189.9 385.5h.01M189.2 387.4h.01M187.7 386.9h.01M189.6 385.5h.01M189.8 385.6h.01M188.8 386.6h.01M190.3 386.6h.01M192.4 386.2h.01M188.4 385.9h.01M188.0 386.5h.01M190.6 385.8h.01M189.9 385.4h.01M191.6 386.2h.01M190.5 384.7h.01M189.6 386.6h.01M190.4 386.5h.01M187.5 386.3h.01M188.3 387.0h.01M192.0 385.9h.01M190.5 385.1h.01M190.4 386.3h.01M190.0 384.6h.01M188.8 386.6h.01M187.5 387.2h.01M189.3 385.6h.01M191.0 385.8h.01M190.6 384.5h.01M189.6 385.4h.01M192.3 384.6h.01M186.0 385.8h.01M189.0 384.2h.01M187.5 385.6h.01M192.4 383.2h.01M189.5 386.0h.01M188.3 385.4h.01M188.6 386.6h.01M190.9 386.2h.01M189.2 386.9h.01M191.4 383.9h.01M190.0 386.5h.01M191.0 384.1h.01M190.3 384.4h.01M189.9 386.2h.01M189.5 386.7h.01M190.1 385.8h.01M189.9 385.7h.01M186.6 387.5h.01M189.6 386.0h.01M191.1 385.7h.01M189.6 384.9h.01M190.9 385.6h.01M191.0 384.9h.01M187.3 387.0h.01M187.2 386.4h.01M190.3 386.9h.01M189.8 386.1h.01M187.2 385.8h.01M188.6 387.1h.01M190.1 386.2h.01M190.5 385.6h.01M187.5 388.0h.01M187.6 386.1h.01M185.9 388.0h.01M191.8 384.3h.01M188.1 387.1h.01M190.9 386.6h.01M188.2 387.8h.01M188.4 387.1h.01M190.3 386.4h.01M187.5 385.5h.01M189.7 385.0h.01M190.6 384.8h.01M191.0 384.8h.01M189.1 386.6h.01M191.6 384.1h.01M188.8 385.2h.01M189.4 386.7h.01M189.6 385.0h.01M189.3 385.2h.01M188.8 385.8h.01M189.8 385.2h.01M191.1 384.1h.01M187.8 387.2h.01M190.0 385.7h.01M191.4 387.0h.01M187.6 386.1h.01M185.9 385.7h.01M189.6 386.8h.01M191.5 385.0h.01M191.6 385.2h.01M191.5 383.6h.01M191.6 383.5h.01M189.2 385.9h.01M191.5 384.3h.01M189.4 385.7h.01M189.8 386.2h.01M190.8 384.9h.01M187.7 386.4h.01M188.9 386.5h.01M193.2 384.9h.01M190.3 384.5h.01M189.0 387.3h.01M187.3 385.7h.01M188.7 383.5h.01M191.2 386.1h.01M190.8 385.5h.01M187.2 388.1h.01M191.3 386.7h.01M188.4 387.1h.01M192.6 384.9h.01M189.8 385.3h.01M187.3 386.8h.01M187.7 386.7h.01M189.8 384.8h.01M187.4 385.6h.01M191.8 384.3h.01M190.8 384.8h.01M187.3 386.3h.01M188.9 385.4h.01M187.0 386.7h.01M187.3 386.0h.01M189.5 385.8h.01M191.9 385.0h.01M187.8 386.2h.01M191.0 386.3h.01M192.0 381.4h.01M188.9 386.7h.01M194.0 383.6h.01M188.0 386.6h.01M190.0 385.2h.01M189.6 385.3h.01M188.7 387.3h.01M188.5 388.0h.01M190.6 385.2h.01M188.6 385.1h.01M191.3 386.0h.01M188.6 387.0h.01M186.1 388.3h.01M188.9 386.2h.01M189.0 385.6h.01M186.6 385.8h.01M192.2 383.9h.01M192.1 384.4h.01M191.4 384.8h.01M189.0 386.8h.01M190.3 384.3h.01M190.6 387.7h.01M188.7 387.2h.01M191.4 385.4h.01M190.0 387.3h.01M191.6 384.8h.01M187.7 385.3h.01M188.6 387.0h.01M190.7 385.6h.01M189.4 385.8h.01M189.0 385.4h.01M189.4 386.2h.01M189.9 383.4h.01M191.5 385.8h.01M191.0 385.0h.01M191.0 385.5h.01M191.2 385.8h.01M189.5 386.7h.01M187.1 385.2h.01M190.2 382.8h.01M188.0 387.9h.01M190.5 386.1h.01M187.5 386.8h.01M189.5 384.6h.01M187.9 387.4h.01M190.5 386.1h.01M187.4 385.3h.01M191.6 385.7h.01M189.0 386.0h.01M192.6 384.8h.01M189.4 385.1h.01M188.7 386.2h.01M189.7 385.0h.01M190.7 386.0h.01M190.2 386.6h.01M187.6 386.2h.01M190.2 387.5h.01M188.2 386.4h.01M187.2 386.3h.01M188.4 386.1h.01M189.6 385.5h.01M190.5 386.7h.01M191.2 384.5h.01M190.1 385.9h.01M187.4 385.6h.01M186.5 387.3h.01M191.2 386.6h.01M190.7 385.4h.01M189.2 385.7h.01M190.1 386.2h.01M187.6 386.5h.01M192.1 386.7h.01M188.3 386.1h.01M189.8 385.2h.01M190.5 385.3h.01M188.2 386.7h.01M188.5 387.9h.01M187.3 386.3h.01M189.5 386.3h.01M186.5 387.9h.01M191.5 385.8h.01M190.4 385.4h.01M190.5 383.7h.01M185.9 384.8h.01M189.5 385.8h.01M190.4 385.2h.01M192.5 384.4h.01M190.9 386.2h.01M188.0 384.8h.01M191.6 385.5h.01M190.4 384.7h.01M188.3 385.5h.01M186.9 386.5h.01M188.7 386.0h.01M188.4 386.9h.01M190.4 384.7h.01M190.9 386.4h.01M191.1 383.2h.01M192.9 382.9h.01M190.0 386.1h.01M187.6 386.3h.01M189.0 388.1h.01M187.3 386.9h.01M189.3 386.1h.01M191.0 385.7h.01M190.7 386.5h.01M190.8 386.0h.01M188.6 387.1h.01M186.8 385.0h.01M188.2 386.3h.01M191.8 385.0h.01M189.5 386.6h.01M189.5 384.2h.01M189.3 385.4h.01M189.7 387.7h.01M189.4 385.0h.01M189.7 386.6h.01M189.6 387.4h.01M189.3 386.7h.01M191.4 386.1h.01M190.6 385.7h.01M189.5 383.3h.01M189.6 386.7h.01M190.6 386.0h.01M186.7 385.6h.01M189.1 384.6h.01M189.0 387.4h.01M189.3 386.0h.01M190.7 384.0h.01M189.7 386.0h.01M188.4 386.4h.01M190.2 385.6h.01M189.2 387.0h.01M189.7 386.7h.01M191.1 385.7h.01M190.1 386.2h.01M192.3 384.5h.01M187.2 386.7h.01M188.5 387.3h.01M189.2 385.8h.01M192.5 384.8h.01M189.9 385.7h.01M188.8 387.9h.01M189.4 384.6h.01M193.2 383.6h.01M188.5 385.7h.01M193.0 384.0h.01M188.7 385.8h.01M190.8 384.3h.01M192.9 383.5h.01M188.5 386.1h.01M189.0 384.7h.01M191.4 385.0h.01M189.6 386.8h.01M189.3 387.1h.01M189.9 384.9h.01M189.7 385.6h.01M188.1 385.3h.01M189.8 385.9h.01M187.6 385.0h.01M191.7 382.3h.01M191.4 385.5h.01" stroke="#111" stroke-width="0.9" stroke-linecap="round" fill="none" opacity="1"/>
<path d="M198.3 380.6h.01M194.6 384.7h.01M198.3 381.1h.01M195.3 382.0h.01M197.0 383.1h.01M196.3 382.2h.01M198.6 380.2h.01M200.4 380.4h.01M196.6 382.7h.01M202.2 379.4h.01M198.3 379.9h.01M199.2 382.1h.01M198.4 381.8h.01M198.1 379.8h.01M198.8 381.4h.01M200.0 380.6h.01M197.9 381.4h.01M198.4 381.6h.01M195.8 383.5h.01M196.2 382.5h.01M197.7 382.5h.01M197.2 380.8h.01M195.4 382.5h.01M198.6 381.2h.01M194.9 384.5h.01M196.9 381.6h.01M199.4 379.2h.01M196.5 383.2h.01M195.8 383.0h.01M200.6 380.0h.01M194.8 384.5h.01M198.7 381.5h.01M196.5 382.6h.01M198.2 381.3h.01M197.4 381.2h.01M199.3 381.1h.01M199.4 380.5h.01M197.2 381.4h.01M199.9 379.2h.01M196.4 382.4h.01M199.3 381.6h.01M197.1 381.9h.01M199.6 381.3h.01M199.2 382.0h.01M197.0 384.1h.01M197.9 381.6h.01M198.2 381.1h.01M199.7 383.2h.01M197.9 381.4h.01M197.9 380.4h.01M193.8 385.0h.01M197.9 382.2h.01M198.8 380.7h.01M198.1 383.1h.01M197.2 381.8h.01M200.0 378.3h.01M198.2 381.5h.01M201.8 378.6h.01M195.6 381.9h.01M196.9 384.3h.01M198.3 380.6h.01M197.9 380.5h.01M199.8 380.4h.01M196.7 380.1h.01M201.0 380.3h.01M198.4 382.7h.01M197.1 381.0h.01M197.6 383.3h.01M198.9 380.6h.01M198.3 381.6h.01M197.7 380.2h.01M198.3 380.3h.01M197.4 381.8h.01M196.6 382.1h.01M196.2 384.6h.01M197.1 382.4h.01M201.1 378.4h.01M198.3 381.6h.01M198.6 381.7h.01M198.1 380.3h.01M199.4 381.7h.01M196.4 384.9h.01M196.9 382.8h.01M196.8 383.6h.01M198.4 379.3h.01M201.1 381.6h.01M198.4 380.9h.01M200.2 379.8h.01M196.0 383.1h.01M194.8 385.0h.01M199.9 382.0h.01M197.5 380.7h.01M196.6 383.5h.01M199.0 380.6h.01M198.9 381.5h.01M197.3 382.6h.01M200.8 377.5h.01M197.1 383.1h.01M200.9 377.6h.01M199.4 379.8h.01M196.9 382.0h.01M198.4 380.8h.01M197.6 382.4h.01M197.1 381.7h.01M199.2 378.4h.01M198.3 382.1h.01M198.5 380.0h.01M197.3 382.8h.01M196.4 381.9h.01M195.7 382.3h.01M199.0 380.8h.01M198.6 382.5h.01M197.2 383.4h.01M199.9 379.3h.01M198.7 381.2h.01M196.5 381.8h.01M195.3 383.1h.01M197.0 383.4h.01M199.6 379.6h.01M196.8 383.4h.01M197.0 382.8h.01M197.7 383.0h.01M193.8 384.8h.01M198.7 380.1h.01M198.0 381.0h.01M197.4 382.3h.01M198.0 382.2h.01M198.7 381.3h.01M195.7 383.7h.01M199.6 382.8h.01M197.4 382.9h.01M199.7 382.0h.01M199.4 379.8h.01M199.8 381.1h.01M196.9 382.1h.01M198.3 380.5h.01M195.7 382.9h.01M197.2 381.6h.01M198.9 381.1h.01M198.4 381.4h.01M200.9 380.3h.01M196.2 382.4h.01M199.1 381.1h.01M197.3 383.8h.01M200.4 379.4h.01M201.7 378.7h.01M198.5 380.3h.01M200.7 380.4h.01M196.1 381.8h.01M197.5 380.5h.01M200.9 379.0h.01M198.3 380.4h.01M197.0 381.2h.01M201.3 378.6h.01M196.3 383.2h.01M197.3 383.1h.01M201.7 380.1h.01M199.5 380.3h.01M198.5 382.6h.01M197.0 381.9h.01M198.8 380.6h.01M195.2 383.4h.01M198.2 380.5h.01M199.4 379.9h.01M200.4 379.1h.01M198.0 380.9h.01M197.6 381.1h.01M193.6 384.6h.01M198.8 380.3h.01M197.2 382.9h.01M199.0 381.3h.01M200.0 379.3h.01M197.8 382.7h.01M196.7 382.8h.01M195.1 383.5h.01M198.9 380.5h.01M199.7 380.3h.01M197.0 382.2h.01M198.1 382.1h.01M194.3 383.0h.01M196.6 381.6h.01M198.4 381.1h.01M197.8 381.7h.01M199.6 379.6h.01M199.7 380.8h.01M199.1 381.3h.01M197.3 382.0h.01M197.8 384.2h.01M197.0 385.0h.01M195.1 384.7h.01M197.5 382.0h.01M196.9 382.5h.01M196.9 383.3h.01M195.7 382.4h.01M195.3 382.5h.01M200.4 381.0h.01M196.7 382.1h.01M196.7 381.1h.01M199.3 379.5h.01M196.7 382.5h.01M198.0 379.6h.01M198.2 381.9h.01M197.8 382.4h.01M197.6 382.7h.01M197.5 382.2h.01M195.8 382.8h.01M197.3 383.4h.01M200.4 381.1h.01M198.6 382.4h.01M197.1 380.7h.01M196.7 382.6h.01M196.5 383.1h.01M198.7 380.5h.01M197.0 381.5h.01M199.2 379.8h.01M199.7 381.4h.01M197.1 382.4h.01M196.7 383.9h.01M195.8 383.1h.01M198.0 380.8h.01M198.4 381.8h.01M197.8 382.1h.01M196.1 382.0h.01M196.4 384.8h.01M200.7 380.6h.01M197.1 383.5h.01M197.3 381.5h.01M198.2 381.6h.01M197.8 380.9h.01M198.5 381.0h.01M196.2 383.6h.01M198.3 382.5h.01M198.2 382.7h.01M196.8 383.5h.01M197.3 380.8h.01M197.1 383.0h.01M198.0 380.2h.01M198.2 382.6h.01M196.3 381.1h.01M201.8 378.5h.01M197.4 381.1h.01M197.6 380.6h.01M199.1 381.5h.01M195.6 384.3h.01M197.1 383.1h.01M199.2 381.3h.01M196.8 382.7h.01M197.7 381.1h.01M197.1 381.5h.01M197.2 381.4h.01M197.6 383.7h.01M196.2 382.1h.01M197.7 381.0h.01M197.5 383.5h.01M196.4 383.0h.01M198.4 380.7h.01M196.8 382.7h.01M198.5 383.0h.01M198.6 381.3h.01M198.3 381.2h.01M198.2 381.7h.01M195.1 380.7h.01M196.9 383.4h.01M196.8 383.2h.01M200.0 382.5h.01M198.0 381.8h.01M195.5 384.5h.01M199.8 380.7h.01M194.1 383.3h.01M198.4 381.9h.01M196.6 381.7h.01M195.4 383.6h.01M199.8 381.2h.01M193.6 384.6h.01M199.3 380.0h.01M198.0 382.9h.01M197.8 381.5h.01M196.1 383.4h.01M199.0 381.7h.01M199.4 381.2h.01M198.3 382.3h.01M198.4 382.5h.01M196.6 382.8h.01M198.4 381.0h.01M197.2 381.8h.01M197.6 383.4h.01M199.8 379.5h.01M198.6 382.5h.01M198.6 379.6h.01M197.0 383.0h.01M198.7 380.9h.01M198.0 380.4h.01M198.6 379.5h.01M197.8 380.5h.01M198.4 381.6h.01M199.3 380.7h.01M199.5 379.8h.01M196.3 382.9h.01M200.4 381.0h.01M200.1 380.5h.01M197.1 382.6h.01M199.6 381.5h.01M198.2 379.5h.01M198.0 382.1h.01M200.3 380.9h.01M198.7 380.1h.01M198.5 380.2h.01M198.0 381.1h.01M195.5 384.3h.01M197.8 381.1h.01M200.0 380.9h.01M195.4 385.1h.01M195.7 382.9h.01M197.7 381.2h.01M194.6 384.7h.01M196.9 383.1h.01M199.1 381.2h.01M198.9 381.6h.01M200.6 381.5h.01M197.2 380.3h.01M196.1 383.7h.01M196.9 381.6h.01M198.7 381.6h.01M200.5 379.2h.01M199.3 381.4h.01M196.2 384.1h.01M198.3 382.2h.01M198.9 380.9h.01M200.6 378.7h.01M197.1 382.2h.01M194.3 382.7h.01M199.0 382.1h.01M201.0 380.6h.01M198.9 380.5h.01M198.3 382.0h.01M199.0 381.5h.01M199.4 382.2h.01M197.7 382.5h.01M196.6 382.6h.01M198.2 380.4h.01M197.1 381.7h.01M196.6 382.2h.01M200.0 380.9h.01M196.9 382.3h.01M197.4 379.8h.01M197.6 383.4h.01M198.2 380.9h.01M198.1 379.6h.01M194.4 383.6h.01M198.4 380.8h.01M197.7 383.1h.01M197.4 381.5h.01M197.9 381.5h.01M197.8 382.3h.01M199.2 380.3h.01M199.5 380.3h.01M197.4 383.2h.01M197.0 381.9h.01M197.7 382.6h.01M197.4 382.0h.01M200.3 379.2h.01M197.9 383.1h.01M199.7 381.2h.01M193.9 383.9h.01M196.3 383.0h.01M197.5 379.9h.01M198.7 379.2h.01M197.1 382.2h.01M196.5 382.8h.01M197.7 381.7h.01M197.6 382.0h.01M198.1 381.9h.01M199.7 379.1h.01M198.8 381.6h.01M197.0 384.1h.01M199.2 383.2h.01M197.3 383.0h.01M196.7 384.2h.01M200.0 380.9h.01M197.4 382.0h.01" stroke="#111" stroke-width="0.9" stroke-linecap="round" fill="none" opacity="1"/>
<path d="M194.2 382.8h.01M194.4 382.8h.01M195.2 383.4h.01M191.3 385.5h.01M196.2 382.2h.01M193.6 382.9h.01M193.9 383.6h.01M198.4 382.8h.01M193.5 384.7h.01M192.0 385.3h.01M191.4 384.4h.01M195.4 384.7h.01M190.8 387.2h.01M191.3 384.8h.01M194.1 383.0h.01M190.7 384.7h.01M195.0 382.9h.01M189.6 386.2h.01M195.1 382.7h.01M195.2 383.1h.01M193.1 383.0h.01M197.0 383.2h.01M194.5 386.2h.01M192.4 383.8h.01M189.7 384.8h.01M191.9 385.8h.01M194.0 384.0h.01M193.5 381.5h.01M193.0 383.0h.01M195.2 384.0h.01M195.8 385.3h.01M189.9 386.2h.01M194.1 382.4h.01M194.0 385.0h.01M191.7 384.1h.01M192.7 383.6h.01M191.1 384.9h.01M193.5 383.1h.01M194.9 382.1h.01M195.0 383.4h.01M190.8 385.4h.01M196.0 382.3h.01M193.2 382.8h.01M192.0 383.5h.01M190.8 385.1h.01M192.5 383.9h.01M195.2 381.5h.01M189.9 384.2h.01M196.5 383.2h.01M193.7 381.5h.01M192.3 384.1h.01M188.7 386.8h.01M193.1 384.6h.01M193.0 383.4h.01M192.8 384.9h.01M194.8 382.7h.01M190.1 385.9h.01M195.3 384.4h.01M192.8 385.9h.01" stroke="#111" stroke-width="0.66" stroke-linecap="round" fill="none" opacity="1"/>
<path d="M212.3 370.8h.01M201.2 377.4h.01M221.0 361.7h.01M205.9 373.6h.01M201.2 376.6h.01M210.5 371.1h.01M213.3 371.3h.01M215.1 370.1h.01M210.3 372.2h.01M206.0 377.5h.01M219.3 361.6h.01M208.9 372.0h.01M206.7 375.9h.01M207.9 371.9h.01M207.5 369.8h.01M204.7 376.2h.01M214.7 366.7h.01M202.0 375.2h.01M211.5 369.0h.01M210.2 370.6h.01M215.9 365.9h.01M213.6 369.6h.01M207.9 373.3h.01M213.8 367.6h.01M211.3 369.4h.01M212.2 368.7h.01" stroke="#aaa" stroke-width="0.6" stroke-linecap="round" fill="none" opacity="1"/>
<text x="185" y="362" font-size="7.6" text-anchor="start">5%</text>
<text x="221.2" y="362" font-size="7.6" text-anchor="end">10%</text>
<text x="221.5" y="389.4" font-size="7.6" text-anchor="end">37%</text>
<path d="M351.9 83.5V186.2H498" stroke="#555" stroke-width="1" fill="none"/>
<path d="M349.4 186.2H351.9M349.4 169.2H351.9M349.4 152.1H351.9M349.4 135.1H351.9M349.4 118.1H351.9M349.4 101.0H351.9M349.4 84.0H351.9M388.4 186.2v2.5M424.8 186.2v2.5M461.2 186.2v2.5M497.6 186.2v2.5" stroke="#555" stroke-width="0.9"/>
<text x="348.9" y="190.1" font-size="11.2" text-anchor="end">0</text>
<text x="348.9" y="173.07" font-size="11.2" text-anchor="end">0.5</text>
<text x="348.9" y="156.04" font-size="11.2" text-anchor="end">1</text>
<text x="348.9" y="139.01" font-size="11.2" text-anchor="end">1.5</text>
<text x="348.9" y="121.97999999999999" font-size="11.2" text-anchor="end">2</text>
<text x="348.9" y="104.94999999999999" font-size="11.2" text-anchor="end">2.5</text>
<text x="348.9" y="87.91999999999999" font-size="11.2" text-anchor="end">3</text>
<text transform="translate(328.4,131.2) rotate(-90)" font-size="11" text-anchor="middle">IL6 (ng/mL)</text>
<rect x="363" y="141.5" width="14.5" height="44.69999999999999" fill="#0a0a0a"/>
<path d="M370.25 141.5V134.2M368.15 134.5h4.2" stroke="#333" stroke-width="1.2"/>
<rect x="399.4" y="143" width="14.600000000000023" height="43.19999999999999" fill="#0a0a0a"/>
<path d="M406.7 143V139.1M404.59999999999997 139.4h4.2" stroke="#333" stroke-width="1.2"/>
<rect x="436" y="90.8" width="14.600000000000023" height="95.39999999999999" fill="#0a0a0a"/>
<path d="M443.3 90.8V83.3M441.2 83.6h4.2" stroke="#333" stroke-width="1.2"/>
<rect x="472.2" y="91.1" width="14.800000000000011" height="95.1" fill="#0a0a0a"/>
<path d="M479.6 91.1V87.2M477.5 87.5h4.2" stroke="#333" stroke-width="1.2"/>
<text x="443.3" y="80.8" font-size="13.5" text-anchor="middle" class="s" style="font-weight:normal;stroke:none;fill:#333">*</text>
<text x="479.4" y="86.5" font-size="13.5" text-anchor="middle" class="s" style="font-weight:normal;stroke:none;fill:#333">*</text>
<path d="M363.4 196H412M436.2 196H485.4" stroke="#111" stroke-width="2.2"/>
<text x="387" y="212" font-size="11.6" text-anchor="middle">Media</text>
<text x="460" y="215" font-size="11.6" text-anchor="middle">MSC CM</text>
<path d="M348.8 242V346H502.6" stroke="#555" stroke-width="1" fill="none"/>
<path d="M346.3 346.0H348.8M346.3 333.0H348.8M346.3 320.0H348.8M346.3 307.0H348.8M346.3 294.0H348.8M346.3 281.0H348.8M346.3 268.0H348.8M346.3 255.0H348.8M346.3 242.0H348.8M387.4 346v2.5M425.8 346v2.5M464.2 346v2.5M502.6 346v2.5" stroke="#555" stroke-width="0.9"/>
<text x="345.9" y="350.0" font-size="11.6" text-anchor="end">0</text>
<text x="345.9" y="337.0" font-size="11.6" text-anchor="end">10</text>
<text x="345.9" y="324.0" font-size="11.6" text-anchor="end">20</text>
<text x="345.9" y="311.0" font-size="11.6" text-anchor="end">30</text>
<text x="345.9" y="298.0" font-size="11.6" text-anchor="end">40</text>
<text x="345.9" y="285.0" font-size="11.6" text-anchor="end">50</text>
<text x="345.9" y="272.0" font-size="11.6" text-anchor="end">60</text>
<text x="345.9" y="259.0" font-size="11.6" text-anchor="end">70</text>
<text x="345.9" y="246.0" font-size="11.6" text-anchor="end">80</text>
<text transform="translate(325.8,285.5) rotate(-90)" font-size="11.8" text-anchor="middle">IL10 (pg/mL)</text>
<rect x="398.6" y="322.5" width="16.0" height="23.5" fill="#0a0a0a"/>
<path d="M406.6 322.5V318.1M404.5 318.40000000000003h4.2" stroke="#333" stroke-width="1.2"/>
<rect x="437" y="340.9" width="15.600000000000023" height="5.100000000000023" fill="#0a0a0a"/>
<path d="M444.8 340.9V339.4M443.5 339.7h2.6" stroke="#333" stroke-width="1.2"/>
<rect x="475.5" y="264.5" width="15.300000000000011" height="81.5" fill="#0a0a0a"/>
<path d="M483.15 264.5V255.7M481.04999999999995 256.0h4.2" stroke="#333" stroke-width="1.2"/>
<text x="483" y="255.8" font-size="13.5" text-anchor="middle" class="s" style="font-weight:normal;stroke:none;fill:#333">*</text>
<text x="370.5" y="341.3" font-size="11.6" text-anchor="middle">n.d.</text>
<path d="M363 353.3H410.5M439.6 353.3H487.8" stroke="#111" stroke-width="2.2"/>
<text x="387" y="370" font-size="11.8" text-anchor="middle">Media</text>
<text x="465.2" y="371.2" font-size="11.8" text-anchor="middle">MSC CM</text>
<text x="293.7" y="393.3" font-size="12" text-anchor="start">Isotype</text>
<text x="293.7" y="407.7" font-size="12" text-anchor="start">α-CCL2</text>
<text x="371.5" y="394.16" font-size="13.8" text-anchor="middle" style="font-weight:normal;stroke:#222;stroke-width:.3">+</text>
<text x="371" y="408.25" font-size="15" text-anchor="middle" style="font-weight:normal;stroke:#222;stroke-width:.12">-</text>
<text x="406" y="393.25" font-size="15" text-anchor="middle" style="font-weight:normal;stroke:#222;stroke-width:.12">-</text>
<text x="406.5" y="409.16" font-size="13.8" text-anchor="middle" style="font-weight:normal;stroke:#222;stroke-width:.3">+</text>
<text x="445.5" y="394.16" font-size="13.8" text-anchor="middle" style="font-weight:normal;stroke:#222;stroke-width:.3">+</text>
<text x="445" y="408.25" font-size="15" text-anchor="middle" style="font-weight:normal;stroke:#222;stroke-width:.12">-</text>
<text x="484.2" y="393.25" font-size="15" text-anchor="middle" style="font-weight:normal;stroke:#222;stroke-width:.12">-</text>
<text x="484.5" y="409.16" font-size="13.8" text-anchor="middle" style="font-weight:normal;stroke:#222;stroke-width:.3">+</text>
</svg></body></html>
